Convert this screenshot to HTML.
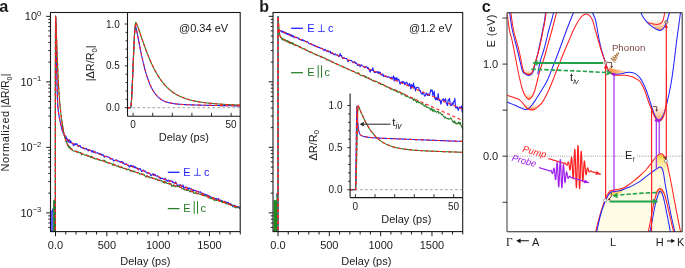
<!DOCTYPE html>
<html><head><meta charset="utf-8"><style>
html,body{margin:0;padding:0;background:#fff;}
body{width:685px;height:268px;overflow:hidden;}

</style></head><body>
<svg width="685" height="268" viewBox="0 0 685 268" style="display:block;will-change:transform;font-family:'Liberation Sans',sans-serif" fill="#1a1a1a">
<rect width="685" height="268" fill="#fff"/>
<text x="-0.7" y="11.8" style="font-size:16.3px;font-weight:bold">a</text>
<text x="259.2" y="11.8" style="font-size:16px;font-weight:bold">b</text>
<text x="481.7" y="11.7" style="font-size:16.3px;font-weight:bold">c</text>
<path d="M50.9,232 L50.9,211.2 L51.7,210.4 L52.4,208.6 L53.1,208.0 L53.1,232 Z" fill="#3a3aff"/>
<line x1="51.25" y1="212" x2="51.25" y2="231.5" stroke="#9a9aff" stroke-width="0.35"/>
<line x1="52.05" y1="212" x2="52.05" y2="231.5" stroke="#9a9aff" stroke-width="0.35"/>
<line x1="52.80" y1="212" x2="52.80" y2="231.5" stroke="#9a9aff" stroke-width="0.35"/>
<path d="M53.1,232 L53.1,201.2 L53.6,199.5 L54.2,200.6 L54.8,199.7 L55.3,201 L55.3,232 Z" fill="#1e8a1e"/>
<clipPath id="clipm0"><rect x="50.50" y="12.5" width="189.70" height="219.10"/></clipPath>
<g clip-path="url(#clipm0)">
<path d="M55.34,247.10 L55.37,247.10 L55.38,164.24 L55.39,125.68 L55.40,103.51 L55.41,88.08 L55.42,76.35 L55.43,66.97 L55.45,59.24 L55.46,52.71 L55.47,47.13 L55.48,42.29 L55.49,38.08 L55.50,34.39 L55.51,31.16 L55.53,28.33 L55.54,25.87 L55.55,23.73 L55.56,21.91 L55.57,20.38 L55.58,19.14 L55.59,18.18 L55.60,17.51 L55.62,17.14 L55.63,17.11 L55.64,17.34 L55.65,17.62 L55.66,17.94 L55.67,18.28 L55.68,18.64 L55.69,19.02 L55.71,19.41 L55.72,19.81 L55.73,20.23 L55.74,20.66 L55.75,21.10 L55.76,21.55 L55.77,22.00 L55.79,22.47 L55.80,22.94 L55.81,23.42 L55.81,23.42 L55.88,26.80 L55.96,30.41 L56.04,34.19 L56.11,38.11 L56.19,42.11 L56.26,46.18 L56.34,50.29 L56.41,54.40 L56.49,58.49 L56.57,62.54 L56.64,66.51 L56.72,70.37 L56.79,74.11 L56.87,77.70 L56.95,81.10 L57.02,84.32 L57.10,87.32 L57.17,90.10 L57.25,92.66 L57.32,95.00 L57.40,97.12 L57.48,99.04 L57.55,100.76 L57.63,102.31 L57.70,103.69 L57.78,104.93 L57.86,106.04 L57.93,107.05 L58.01,107.96 L58.08,108.79 L58.16,109.55 L58.23,110.26 L58.31,110.91 L58.39,111.52 L58.46,112.10 L58.54,112.65 L58.61,113.18 L58.69,113.68 L58.77,114.17 L58.84,114.64 L58.92,115.10 L58.99,115.55 L59.07,115.99 L59.14,116.42 L59.22,116.84 L59.30,117.26 L59.37,117.67 L59.45,118.07 L59.52,118.47 L59.60,118.86 L59.68,119.25 L59.75,119.63 L59.83,120.00 L59.90,120.37 L59.98,120.74 L60.05,121.10 L60.13,121.46 L60.21,121.81 L60.28,122.16 L60.36,122.51 L60.43,122.85 L60.51,123.18 L60.59,123.51 L60.66,123.84 L60.74,124.16 L60.81,124.48 L60.89,124.79 L60.96,125.10 L61.04,125.41 L61.12,125.71 L61.19,126.01 L61.27,126.30 L61.34,126.59 L61.42,126.87 L61.49,127.15 L61.57,127.43 L61.65,127.70 L61.72,128.90 L61.80,129.02 L61.87,128.54 L61.95,129.00 L62.03,127.93 L62.10,128.62 L62.18,129.79 L62.25,129.12 L62.33,131.11 L62.40,129.57 L62.48,130.90 L62.56,130.51 L62.63,131.71 L62.71,131.84 L62.78,130.52 L62.86,132.37 L62.94,132.31 L63.01,132.02 L63.09,132.38 L63.16,132.34 L63.24,131.66 L63.31,132.93 L63.39,132.34 L63.47,132.68 L63.54,132.58 L63.62,133.13 L63.69,133.38 L63.77,134.73 L63.85,134.18 L63.92,134.85 L64.00,134.81 L64.07,134.10 L64.15,134.34 L64.22,134.15 L64.30,134.70 L64.38,134.98 L64.45,135.19 L64.53,134.64 L64.60,134.99 L64.68,136.47 L64.76,135.64 L64.83,135.38 L64.91,136.33 L64.98,137.18 L65.06,136.26 L65.13,137.70 L65.21,137.31 L65.29,136.29 L65.36,137.80 L65.44,137.43 L65.51,137.33 L65.59,136.63 L65.67,137.60 L65.74,137.15 L65.82,137.09 L65.89,136.19 L65.97,136.58 L66.04,138.42 L66.12,137.72 L66.20,138.20 L66.27,138.42 L66.35,138.23 L66.42,138.36 L66.50,138.79 L66.58,138.32 L66.65,138.15 L66.73,138.82 L66.80,139.68 L66.88,139.54 L66.95,139.10 L67.03,138.58 L67.11,138.51 L67.18,139.70 L67.26,139.61 L67.33,138.78 L67.41,140.22 L67.49,140.90 L67.56,141.07 L67.64,140.79 L67.71,140.29 L67.79,141.52 L67.86,139.69 L67.94,140.83 L68.02,140.85 L68.09,141.39 L68.17,141.66 L68.24,141.83 L68.32,140.56 L68.40,140.55 L68.47,141.83 L68.55,139.93 L68.62,140.62 L68.70,140.99 L68.77,140.13 L68.85,139.92 L68.93,141.37 L69.00,140.81 L69.08,140.63 L69.15,140.77 L69.23,140.60 L69.31,140.04 L69.38,141.00 L69.46,140.11 L69.53,140.19 L69.61,141.67 L69.68,142.17 L69.76,142.69 L69.84,141.85 L69.91,141.43 L69.99,140.61 L70.06,140.45 L70.14,141.45 L70.22,141.14 L70.29,141.69 L70.37,141.92 L70.44,142.61 L70.52,141.14 L70.59,142.46 L70.67,142.19 L70.75,142.20 L70.82,141.29 L70.90,141.86 L70.90,142.21 L71.56,142.22 L72.23,143.25 L72.90,144.22 L73.57,145.73 L74.23,145.07 L74.90,143.46 L75.57,144.68 L76.24,144.03 L76.90,143.68 L77.57,145.18 L78.24,146.61 L78.90,146.02 L79.57,145.60 L80.24,145.74 L80.91,147.26 L81.57,147.48 L82.24,147.91 L82.91,148.14 L83.57,148.05 L84.24,148.95 L84.91,148.85 L85.58,148.74 L86.24,148.29 L86.91,149.80 L87.58,149.41 L88.25,150.88 L88.91,149.50 L89.58,150.43 L90.25,150.29 L90.91,150.25 L91.58,151.87 L92.25,151.93 L92.92,150.57 L93.58,152.17 L94.25,152.49 L94.92,151.39 L95.58,152.85 L96.25,152.95 L96.92,152.91 L97.59,152.68 L98.25,153.37 L98.92,153.54 L99.59,154.29 L100.26,153.82 L100.92,153.74 L101.59,155.25 L102.26,154.42 L102.92,155.20 L103.59,155.11 L104.26,157.27 L104.93,156.74 L105.59,156.42 L106.26,156.37 L106.93,156.36 L107.59,156.95 L108.26,156.99 L108.93,157.10 L109.60,157.58 L110.26,158.83 L110.93,159.05 L111.60,158.80 L112.27,158.92 L112.93,159.07 L113.60,160.93 L114.27,160.48 L114.93,160.55 L115.60,160.37 L116.27,159.74 L116.94,160.49 L117.60,161.15 L118.27,161.04 L118.94,161.12 L119.60,161.81 L120.27,162.24 L120.94,161.51 L121.61,161.81 L122.27,161.61 L122.94,163.17 L123.61,162.66 L124.28,163.81 L124.94,164.51 L125.61,163.95 L126.28,163.85 L126.94,164.72 L127.61,164.96 L128.28,165.38 L128.95,166.29 L129.61,167.14 L130.28,165.25 L130.95,165.95 L131.61,165.55 L132.28,166.70 L132.95,165.83 L133.62,166.21 L134.28,167.79 L134.95,166.63 L135.62,167.82 L136.29,168.23 L136.95,167.74 L137.62,168.70 L138.29,170.08 L138.95,168.74 L139.62,168.61 L140.29,168.64 L140.96,170.27 L141.62,171.48 L142.29,171.03 L142.96,170.17 L143.63,170.36 L144.29,170.76 L144.96,171.17 L145.63,171.59 L146.29,172.42 L146.96,173.18 L147.63,172.63 L148.30,173.21 L148.96,173.21 L149.63,173.37 L150.30,174.33 L150.96,175.73 L151.63,175.13 L152.30,174.48 L152.97,173.59 L153.63,175.48 L154.30,174.24 L154.97,174.35 L155.64,175.62 L156.30,175.90 L156.97,176.07 L157.64,175.76 L158.30,176.89 L158.97,177.12 L159.64,177.61 L160.31,178.97 L160.97,178.29 L161.64,178.39 L162.31,178.27 L162.97,178.74 L163.64,179.16 L164.31,178.56 L164.98,179.52 L165.64,178.71 L166.31,180.71 L166.98,180.86 L167.65,181.09 L168.31,180.18 L168.98,181.16 L169.65,180.92 L170.31,180.83 L170.98,181.08 L171.65,180.99 L172.32,181.20 L172.98,182.75 L173.65,182.37 L174.32,182.84 L174.98,183.67 L175.65,181.89 L176.32,183.22 L176.99,184.55 L177.65,185.64 L178.32,185.13 L178.99,185.86 L179.66,185.19 L180.32,184.67 L180.99,185.28 L181.66,186.24 L182.32,186.52 L182.99,184.99 L183.66,187.82 L184.33,187.43 L184.99,187.99 L185.66,186.94 L186.33,187.38 L186.99,187.30 L187.66,189.81 L188.33,188.14 L189.00,188.96 L189.66,187.97 L190.33,188.99 L191.00,188.68 L191.67,189.51 L192.33,190.67 L193.00,189.44 L193.67,190.91 L194.33,190.45 L195.00,190.25 L195.67,190.68 L196.34,191.28 L197.00,191.36 L197.67,191.39 L198.34,191.49 L199.00,192.18 L199.67,191.96 L200.34,191.69 L201.01,192.92 L201.67,194.31 L202.34,193.11 L203.01,194.16 L203.68,193.92 L204.34,193.93 L205.01,195.27 L205.68,194.53 L206.34,196.02 L207.01,194.72 L207.68,195.70 L208.35,195.71 L209.01,195.64 L209.68,196.59 L210.35,196.65 L211.01,197.54 L211.68,197.71 L212.35,197.36 L213.02,198.29 L213.68,198.96 L214.35,199.30 L215.02,198.48 L215.69,198.66 L216.35,198.53 L217.02,200.41 L217.69,199.25 L218.35,198.42 L219.02,199.49 L219.69,201.08 L220.36,200.15 L221.02,200.50 L221.69,200.88 L222.36,200.89 L223.02,202.05 L223.69,201.73 L224.36,201.36 L225.03,202.57 L225.69,201.54 L226.36,203.26 L227.03,202.47 L227.70,202.62 L228.36,202.36 L229.03,204.68 L229.70,203.62 L230.36,203.77 L231.03,204.06 L231.70,204.76 L232.37,205.55 L233.03,206.89 L233.70,205.51 L234.37,205.22 L235.03,205.82 L235.70,205.77 L236.37,207.52 L237.04,207.76 L237.70,206.76 L238.37,206.48 L239.04,207.45 L239.71,208.60 L240.37,206.61 L241.04,208.76" fill="none" stroke="#1f1fff" stroke-width="1.15" stroke-linejoin="round"/>
<path d="M55.34,247.10 L55.37,247.10 L55.38,167.29 L55.39,128.66 L55.40,106.42 L55.41,90.91 L55.42,79.10 L55.43,69.64 L55.45,61.81 L55.46,55.18 L55.47,49.49 L55.48,44.54 L55.49,40.20 L55.50,36.38 L55.51,33.00 L55.53,30.01 L55.54,27.36 L55.55,25.03 L55.56,22.99 L55.57,21.22 L55.58,19.70 L55.59,18.43 L55.60,17.41 L55.62,16.63 L55.63,16.10 L55.64,15.83 L55.65,15.85 L55.66,15.98 L55.67,16.13 L55.68,16.29 L55.69,16.46 L55.71,16.64 L55.72,16.83 L55.73,17.03 L55.74,17.23 L55.75,17.43 L55.76,17.64 L55.77,17.85 L55.79,18.07 L55.80,18.29 L55.81,18.52 L55.81,18.52 L55.88,20.10 L55.96,21.78 L56.04,23.55 L56.11,25.38 L56.19,27.27 L56.26,29.21 L56.34,31.18 L56.41,33.18 L56.49,35.20 L56.57,37.24 L56.64,39.30 L56.72,41.37 L56.79,43.44 L56.87,45.51 L56.95,47.58 L57.02,49.64 L57.10,51.69 L57.17,53.72 L57.25,55.74 L57.32,57.74 L57.40,59.71 L57.48,61.66 L57.55,63.58 L57.63,65.47 L57.70,67.32 L57.78,69.14 L57.86,70.92 L57.93,72.66 L58.01,74.36 L58.08,76.02 L58.16,77.64 L58.23,79.21 L58.31,80.75 L58.39,82.23 L58.46,83.68 L58.54,85.08 L58.61,86.44 L58.69,87.76 L58.77,89.04 L58.84,90.28 L58.92,91.49 L58.99,92.65 L59.07,93.78 L59.14,94.88 L59.22,95.94 L59.30,96.97 L59.37,97.97 L59.45,98.94 L59.52,99.89 L59.60,100.81 L59.68,101.71 L59.75,102.58 L59.83,103.43 L59.90,104.26 L59.98,105.07 L60.05,105.87 L60.13,106.64 L60.21,107.40 L60.28,108.14 L60.36,108.87 L60.43,109.59 L60.51,110.29 L60.59,110.98 L60.66,111.66 L60.74,112.33 L60.81,112.98 L60.89,113.63 L60.96,114.26 L61.04,114.89 L61.12,115.50 L61.19,116.11 L61.27,116.71 L61.34,117.30 L61.42,117.88 L61.49,118.46 L61.57,119.02 L61.65,119.58 L61.72,119.63 L61.80,120.12 L61.87,120.83 L61.95,121.83 L62.03,121.69 L62.10,123.32 L62.18,123.27 L62.25,123.42 L62.33,124.25 L62.40,124.84 L62.48,125.56 L62.56,125.34 L62.63,126.42 L62.71,126.18 L62.78,126.13 L62.86,127.29 L62.94,127.07 L63.01,128.44 L63.09,129.42 L63.16,129.73 L63.24,128.87 L63.31,129.49 L63.39,130.91 L63.47,131.21 L63.54,131.53 L63.62,132.39 L63.69,132.93 L63.77,132.82 L63.85,132.87 L63.92,133.46 L64.00,134.32 L64.07,134.04 L64.15,134.40 L64.22,134.93 L64.30,134.88 L64.38,135.11 L64.45,135.43 L64.53,136.64 L64.60,135.72 L64.68,136.00 L64.76,136.44 L64.83,136.98 L64.91,137.84 L64.98,137.23 L65.06,137.39 L65.13,137.44 L65.21,137.85 L65.29,138.65 L65.36,138.67 L65.44,138.69 L65.51,139.32 L65.59,139.60 L65.67,139.88 L65.74,139.67 L65.82,140.36 L65.89,139.84 L65.97,140.63 L66.04,142.03 L66.12,140.64 L66.20,141.55 L66.27,141.60 L66.35,141.31 L66.42,140.95 L66.50,141.66 L66.58,142.12 L66.65,142.40 L66.73,141.86 L66.80,142.50 L66.88,142.53 L66.95,142.57 L67.03,143.34 L67.11,143.53 L67.18,143.85 L67.26,143.26 L67.33,143.95 L67.41,144.41 L67.49,144.87 L67.56,145.40 L67.64,144.68 L67.71,144.57 L67.79,144.89 L67.86,144.29 L67.94,144.91 L68.02,145.08 L68.09,145.11 L68.17,144.83 L68.24,145.18 L68.32,145.95 L68.40,146.67 L68.47,146.95 L68.55,146.42 L68.62,146.63 L68.70,146.48 L68.77,147.10 L68.85,146.94 L68.93,147.24 L69.00,147.88 L69.08,146.77 L69.15,146.12 L69.23,146.62 L69.31,146.37 L69.38,146.74 L69.46,147.88 L69.53,147.76 L69.61,146.56 L69.68,147.54 L69.76,147.96 L69.84,147.56 L69.91,147.52 L69.99,147.23 L70.06,147.83 L70.14,147.93 L70.22,148.81 L70.29,148.46 L70.37,148.75 L70.44,148.71 L70.52,148.92 L70.59,147.72 L70.67,148.35 L70.75,148.86 L70.82,148.62 L70.90,149.25 L70.90,148.24 L71.56,148.46 L72.23,150.29 L72.90,150.69 L73.57,150.90 L74.23,151.04 L74.90,151.31 L75.57,151.59 L76.24,151.04 L76.90,152.11 L77.57,152.12 L78.24,151.96 L78.90,152.30 L79.57,152.89 L80.24,152.58 L80.91,152.65 L81.57,154.94 L82.24,153.91 L82.91,153.79 L83.57,154.43 L84.24,155.04 L84.91,154.96 L85.58,155.52 L86.24,154.92 L86.91,155.11 L87.58,155.96 L88.25,156.26 L88.91,155.80 L89.58,156.57 L90.25,156.55 L90.91,157.85 L91.58,156.34 L92.25,157.75 L92.92,157.42 L93.58,157.94 L94.25,158.63 L94.92,158.64 L95.58,158.91 L96.25,158.75 L96.92,158.91 L97.59,159.28 L98.25,159.73 L98.92,159.75 L99.59,160.33 L100.26,160.03 L100.92,160.34 L101.59,160.79 L102.26,160.47 L102.92,160.27 L103.59,160.22 L104.26,160.23 L104.93,161.68 L105.59,160.99 L106.26,162.45 L106.93,162.19 L107.59,163.12 L108.26,162.76 L108.93,162.70 L109.60,162.88 L110.26,163.43 L110.93,163.61 L111.60,163.73 L112.27,164.05 L112.93,165.32 L113.60,163.78 L114.27,165.28 L114.93,164.87 L115.60,165.73 L116.27,165.88 L116.94,165.98 L117.60,166.27 L118.27,165.50 L118.94,167.08 L119.60,166.73 L120.27,167.59 L120.94,167.68 L121.61,166.67 L122.27,167.57 L122.94,167.97 L123.61,168.54 L124.28,168.53 L124.94,168.83 L125.61,168.41 L126.28,169.62 L126.94,169.84 L127.61,169.37 L128.28,169.43 L128.95,169.09 L129.61,170.09 L130.28,171.24 L130.95,170.40 L131.61,171.19 L132.28,171.22 L132.95,170.62 L133.62,172.04 L134.28,171.03 L134.95,171.82 L135.62,171.93 L136.29,172.26 L136.95,172.45 L137.62,172.74 L138.29,172.67 L138.95,172.78 L139.62,173.96 L140.29,174.10 L140.96,173.83 L141.62,173.71 L142.29,174.20 L142.96,173.92 L143.63,174.76 L144.29,174.68 L144.96,175.88 L145.63,176.17 L146.29,177.24 L146.96,175.77 L147.63,176.29 L148.30,177.15 L148.96,176.82 L149.63,177.11 L150.30,178.12 L150.96,177.69 L151.63,177.36 L152.30,177.78 L152.97,178.44 L153.63,178.63 L154.30,178.28 L154.97,178.65 L155.64,179.39 L156.30,179.16 L156.97,178.84 L157.64,180.23 L158.30,180.60 L158.97,179.98 L159.64,180.33 L160.31,180.91 L160.97,180.65 L161.64,180.66 L162.31,181.54 L162.97,182.23 L163.64,182.57 L164.31,181.04 L164.98,183.33 L165.64,181.78 L166.31,182.72 L166.98,183.18 L167.65,183.43 L168.31,183.61 L168.98,182.92 L169.65,184.12 L170.31,183.86 L170.98,183.69 L171.65,186.31 L172.32,185.45 L172.98,186.14 L173.65,184.86 L174.32,186.24 L174.98,186.37 L175.65,186.62 L176.32,186.35 L176.99,186.08 L177.65,186.75 L178.32,185.82 L178.99,186.32 L179.66,187.22 L180.32,186.93 L180.99,187.46 L181.66,187.77 L182.32,188.98 L182.99,188.83 L183.66,188.90 L184.33,189.95 L184.99,189.47 L185.66,189.54 L186.33,190.48 L186.99,189.72 L187.66,190.37 L188.33,189.81 L189.00,190.68 L189.66,191.85 L190.33,190.95 L191.00,191.93 L191.67,191.26 L192.33,191.50 L193.00,191.15 L193.67,193.06 L194.33,193.52 L195.00,193.07 L195.67,192.60 L196.34,193.75 L197.00,193.32 L197.67,193.85 L198.34,193.39 L199.00,193.83 L199.67,194.25 L200.34,194.12 L201.01,194.29 L201.67,193.88 L202.34,194.61 L203.01,194.61 L203.68,195.74 L204.34,195.40 L205.01,196.00 L205.68,196.05 L206.34,195.86 L207.01,196.21 L207.68,196.43 L208.35,197.16 L209.01,198.10 L209.68,197.99 L210.35,197.83 L211.01,198.82 L211.68,197.65 L212.35,198.99 L213.02,198.29 L213.68,197.66 L214.35,200.57 L215.02,200.39 L215.69,199.60 L216.35,200.21 L217.02,199.96 L217.69,200.39 L218.35,200.34 L219.02,200.94 L219.69,201.21 L220.36,200.98 L221.02,201.69 L221.69,201.34 L222.36,202.71 L223.02,201.42 L223.69,202.16 L224.36,201.56 L225.03,202.19 L225.69,203.78 L226.36,202.94 L227.03,204.09 L227.70,204.01 L228.36,203.69 L229.03,203.95 L229.70,204.47 L230.36,204.81 L231.03,205.55 L231.70,205.44 L232.37,205.12 L233.03,205.48 L233.70,206.56 L234.37,206.73 L235.03,207.29 L235.70,207.92 L236.37,206.87 L237.04,206.84 L237.70,207.05 L238.37,207.67 L239.04,207.85 L239.71,207.64 L240.37,207.56 L241.04,207.78" fill="none" stroke="#2a7e2a" stroke-width="1.10" stroke-linejoin="round"/>
<path d="M55.34,247.10 L55.37,247.10 L55.38,164.24 L55.39,125.68 L55.40,103.51 L55.41,88.08 L55.42,76.35 L55.43,66.97 L55.45,59.24 L55.46,52.71 L55.47,47.13 L55.48,42.29 L55.49,38.08 L55.50,34.39 L55.51,31.16 L55.53,28.33 L55.54,25.87 L55.55,23.73 L55.56,21.91 L55.57,20.38 L55.58,19.14 L55.59,18.18 L55.60,17.51 L55.62,17.14 L55.63,17.11 L55.64,17.34 L55.65,17.62 L55.66,17.94 L55.67,18.28 L55.68,18.64 L55.69,19.02 L55.71,19.41 L55.72,19.81 L55.73,20.23 L55.74,20.66 L55.75,21.10 L55.76,21.55 L55.77,22.00 L55.79,22.47 L55.80,22.94 L55.81,23.42 L55.81,23.42 L55.88,26.80 L55.96,30.41 L56.04,34.19 L56.11,38.11 L56.19,42.11 L56.26,46.18 L56.34,50.29 L56.41,54.40 L56.49,58.49 L56.57,62.54 L56.64,66.51 L56.72,70.37 L56.79,74.11 L56.87,77.70 L56.95,81.10 L57.02,84.32 L57.10,87.32 L57.17,90.10 L57.25,92.66 L57.32,95.00 L57.40,97.12 L57.48,99.04 L57.55,100.76 L57.63,102.31 L57.70,103.69 L57.78,104.93 L57.86,106.04 L57.93,107.05 L58.01,107.96 L58.08,108.79 L58.16,109.55 L58.23,110.26 L58.31,110.91 L58.39,111.52 L58.46,112.10 L58.54,112.65 L58.61,113.18 L58.69,113.68 L58.77,114.17 L58.84,114.64 L58.92,115.10 L58.99,115.55 L59.07,115.99 L59.14,116.42 L59.22,116.84 L59.30,117.26 L59.37,117.67 L59.45,118.07 L59.52,118.47 L59.60,118.86 L59.68,119.25 L59.75,119.63 L59.83,120.00 L59.90,120.37 L59.98,120.74 L60.05,121.10 L60.13,121.46 L60.21,121.81 L60.28,122.16 L60.36,122.51 L60.43,122.85 L60.51,123.18 L60.59,123.51 L60.66,123.84 L60.74,124.16 L60.81,124.48 L60.89,124.79 L60.96,125.10 L61.04,125.41 L61.12,125.71 L61.19,126.01 L61.27,126.30 L61.34,126.59 L61.42,126.87 L61.49,127.15 L61.57,127.43 L61.65,127.70 L61.72,127.97 L61.80,128.23 L61.87,128.50 L61.95,128.75 L62.03,129.01 L62.10,129.25 L62.18,129.50 L62.25,129.74 L62.33,129.98 L62.40,130.21 L62.48,130.44 L62.56,130.67 L62.63,130.90 L62.71,131.12 L62.78,131.33 L62.86,131.55 L62.94,131.76 L63.01,131.96 L63.09,132.17 L63.16,132.37 L63.24,132.56 L63.31,132.76 L63.39,132.95 L63.47,133.13 L63.54,133.32 L63.62,133.50 L63.69,133.68 L63.77,133.86 L63.85,134.03 L63.92,134.20 L64.00,134.36 L64.07,134.53 L64.15,134.69 L64.22,134.85 L64.30,135.01 L64.38,135.16 L64.45,135.31 L64.53,135.46 L64.60,135.61 L64.68,135.75 L64.76,135.89 L64.83,136.03 L64.91,136.17 L64.98,136.30 L65.06,136.44 L65.13,136.57 L65.21,136.69 L65.29,136.82 L65.36,136.94 L65.44,137.07 L65.51,137.19 L65.59,137.30 L65.67,137.42 L65.74,137.53 L65.82,137.65 L65.89,137.76 L65.97,137.87 L66.04,137.97 L66.12,138.08 L66.20,138.18 L66.27,138.28 L66.35,138.38 L66.42,138.48 L66.50,138.58 L66.58,138.68 L66.65,138.77 L66.73,138.86 L66.80,138.95 L66.88,139.04 L66.95,139.13 L67.03,139.22 L67.11,139.31 L67.18,139.39 L67.26,139.47 L67.33,139.56 L67.41,139.64 L67.49,139.72 L67.56,139.80 L67.64,139.87 L67.71,139.95 L67.79,140.02 L67.86,140.10 L67.94,140.17 L68.02,140.24 L68.09,140.32 L68.17,140.39 L68.24,140.45 L68.32,140.52 L68.40,140.59 L68.47,140.66 L68.55,140.72 L68.62,140.79 L68.70,140.85 L68.77,140.91 L68.85,140.98 L68.93,141.04 L69.00,141.10 L69.08,141.16 L69.15,141.22 L69.23,141.28 L69.31,141.34 L69.38,141.39 L69.46,141.45 L69.53,141.51 L69.61,141.56 L69.68,141.62 L69.76,141.67 L69.84,141.72 L69.91,141.78 L69.99,141.83 L70.06,141.88 L70.14,141.93 L70.22,141.98 L70.29,142.03 L70.37,142.08 L70.44,142.13 L70.52,142.18 L70.59,142.23 L70.67,142.28 L70.75,142.32 L70.82,142.37 L70.90,142.42 L70.90,142.42 L71.56,142.81 L72.23,143.17 L72.90,143.52 L73.57,143.85 L74.23,144.16 L74.90,144.46 L75.57,144.76 L76.24,145.04 L76.90,145.32 L77.57,145.60 L78.24,145.87 L78.90,146.14 L79.57,146.41 L80.24,146.67 L80.91,146.93 L81.57,147.20 L82.24,147.46 L82.91,147.72 L83.57,147.98 L84.24,148.23 L84.91,148.49 L85.58,148.75 L86.24,149.01 L86.91,149.26 L87.58,149.52 L88.25,149.78 L88.91,150.04 L89.58,150.29 L90.25,150.55 L90.91,150.81 L91.58,151.06 L92.25,151.32 L92.92,151.58 L93.58,151.83 L94.25,152.09 L94.92,152.35 L95.58,152.60 L96.25,152.86 L96.92,153.11 L97.59,153.37 L98.25,153.63 L98.92,153.88 L99.59,154.14 L100.26,154.40 L100.92,154.65 L101.59,154.91 L102.26,155.17 L102.92,155.42 L103.59,155.68 L104.26,155.94 L104.93,156.19 L105.59,156.45 L106.26,156.71 L106.93,156.96 L107.59,157.22 L108.26,157.47 L108.93,157.73 L109.60,157.99 L110.26,158.24 L110.93,158.50 L111.60,158.76 L112.27,159.01 L112.93,159.27 L113.60,159.53 L114.27,159.78 L114.93,160.04 L115.60,160.30 L116.27,160.55 L116.94,160.81 L117.60,161.07 L118.27,161.32 L118.94,161.58 L119.60,161.83 L120.27,162.09 L120.94,162.35 L121.61,162.60 L122.27,162.86 L122.94,163.12 L123.61,163.37 L124.28,163.63 L124.94,163.89 L125.61,164.14 L126.28,164.40 L126.94,164.66 L127.61,164.91 L128.28,165.17 L128.95,165.42 L129.61,165.68 L130.28,165.94 L130.95,166.19 L131.61,166.45 L132.28,166.71 L132.95,166.96 L133.62,167.22 L134.28,167.48 L134.95,167.73 L135.62,167.99 L136.29,168.25 L136.95,168.50 L137.62,168.76 L138.29,169.01 L138.95,169.27 L139.62,169.53 L140.29,169.78 L140.96,170.04 L141.62,170.30 L142.29,170.55 L142.96,170.81 L143.63,171.07 L144.29,171.32 L144.96,171.58 L145.63,171.84 L146.29,172.09 L146.96,172.35 L147.63,172.61 L148.30,172.86 L148.96,173.12 L149.63,173.37 L150.30,173.63 L150.96,173.89 L151.63,174.14 L152.30,174.40 L152.97,174.66 L153.63,174.91 L154.30,175.17 L154.97,175.43 L155.64,175.68 L156.30,175.94 L156.97,176.20 L157.64,176.45 L158.30,176.71 L158.97,176.96 L159.64,177.22 L160.31,177.48 L160.97,177.73 L161.64,177.99 L162.31,178.25 L162.97,178.50 L163.64,178.76 L164.31,179.02 L164.98,179.27 L165.64,179.53 L166.31,179.79 L166.98,180.04 L167.65,180.30 L168.31,180.56 L168.98,180.81 L169.65,181.07 L170.31,181.32 L170.98,181.58 L171.65,181.84 L172.32,182.09 L172.98,182.35 L173.65,182.61 L174.32,182.86 L174.98,183.12 L175.65,183.38 L176.32,183.63 L176.99,183.89 L177.65,184.15 L178.32,184.40 L178.99,184.66 L179.66,184.91 L180.32,185.17 L180.99,185.43 L181.66,185.68 L182.32,185.94 L182.99,186.20 L183.66,186.45 L184.33,186.71 L184.99,186.97 L185.66,187.22 L186.33,187.48 L186.99,187.74 L187.66,187.99 L188.33,188.25 L189.00,188.51 L189.66,188.76 L190.33,189.02 L191.00,189.27 L191.67,189.53 L192.33,189.79 L193.00,190.04 L193.67,190.30 L194.33,190.56 L195.00,190.81 L195.67,191.07 L196.34,191.33 L197.00,191.58 L197.67,191.84 L198.34,192.10 L199.00,192.35 L199.67,192.61 L200.34,192.86 L201.01,193.12 L201.67,193.38 L202.34,193.63 L203.01,193.89 L203.68,194.15 L204.34,194.40 L205.01,194.66 L205.68,194.92 L206.34,195.17 L207.01,195.43 L207.68,195.69 L208.35,195.94 L209.01,196.20 L209.68,196.46 L210.35,196.71 L211.01,196.97 L211.68,197.22 L212.35,197.48 L213.02,197.74 L213.68,197.99 L214.35,198.25 L215.02,198.51 L215.69,198.76 L216.35,199.02 L217.02,199.28 L217.69,199.53 L218.35,199.79 L219.02,200.05 L219.69,200.30 L220.36,200.56 L221.02,200.81 L221.69,201.07 L222.36,201.33 L223.02,201.58 L223.69,201.84 L224.36,202.10 L225.03,202.35 L225.69,202.61 L226.36,202.87 L227.03,203.12 L227.70,203.38 L228.36,203.64 L229.03,203.89 L229.70,204.15 L230.36,204.41 L231.03,204.66 L231.70,204.92 L232.37,205.17 L233.03,205.43 L233.70,205.69 L234.37,205.94 L235.03,206.20 L235.70,206.46 L236.37,206.71 L237.04,206.97 L237.70,207.23 L238.37,207.48 L239.04,207.74 L239.71,208.00 L240.37,208.25 L241.04,208.51" fill="none" stroke="#ff2020" stroke-width="1.1" stroke-dasharray="3.2,2.6"/>
<path d="M55.34,247.10 L55.37,247.10 L55.38,167.29 L55.39,128.66 L55.40,106.42 L55.41,90.91 L55.42,79.10 L55.43,69.64 L55.45,61.81 L55.46,55.18 L55.47,49.49 L55.48,44.54 L55.49,40.20 L55.50,36.38 L55.51,33.00 L55.53,30.01 L55.54,27.36 L55.55,25.03 L55.56,22.99 L55.57,21.22 L55.58,19.70 L55.59,18.43 L55.60,17.41 L55.62,16.63 L55.63,16.10 L55.64,15.83 L55.65,15.85 L55.66,15.98 L55.67,16.13 L55.68,16.29 L55.69,16.46 L55.71,16.64 L55.72,16.83 L55.73,17.03 L55.74,17.23 L55.75,17.43 L55.76,17.64 L55.77,17.85 L55.79,18.07 L55.80,18.29 L55.81,18.52 L55.81,18.52 L55.88,20.10 L55.96,21.78 L56.04,23.55 L56.11,25.38 L56.19,27.27 L56.26,29.21 L56.34,31.18 L56.41,33.18 L56.49,35.20 L56.57,37.24 L56.64,39.30 L56.72,41.37 L56.79,43.44 L56.87,45.51 L56.95,47.58 L57.02,49.64 L57.10,51.69 L57.17,53.72 L57.25,55.74 L57.32,57.74 L57.40,59.71 L57.48,61.66 L57.55,63.58 L57.63,65.47 L57.70,67.32 L57.78,69.14 L57.86,70.92 L57.93,72.66 L58.01,74.36 L58.08,76.02 L58.16,77.64 L58.23,79.21 L58.31,80.75 L58.39,82.23 L58.46,83.68 L58.54,85.08 L58.61,86.44 L58.69,87.76 L58.77,89.04 L58.84,90.28 L58.92,91.49 L58.99,92.65 L59.07,93.78 L59.14,94.88 L59.22,95.94 L59.30,96.97 L59.37,97.97 L59.45,98.94 L59.52,99.89 L59.60,100.81 L59.68,101.71 L59.75,102.58 L59.83,103.43 L59.90,104.26 L59.98,105.07 L60.05,105.87 L60.13,106.64 L60.21,107.40 L60.28,108.14 L60.36,108.87 L60.43,109.59 L60.51,110.29 L60.59,110.98 L60.66,111.66 L60.74,112.33 L60.81,112.98 L60.89,113.63 L60.96,114.26 L61.04,114.89 L61.12,115.50 L61.19,116.11 L61.27,116.71 L61.34,117.30 L61.42,117.88 L61.49,118.46 L61.57,119.02 L61.65,119.58 L61.72,120.13 L61.80,120.68 L61.87,121.21 L61.95,121.74 L62.03,122.26 L62.10,122.78 L62.18,123.29 L62.25,123.79 L62.33,124.28 L62.40,124.77 L62.48,125.25 L62.56,125.73 L62.63,126.20 L62.71,126.66 L62.78,127.11 L62.86,127.56 L62.94,128.01 L63.01,128.44 L63.09,128.87 L63.16,129.29 L63.24,129.71 L63.31,130.12 L63.39,130.53 L63.47,130.92 L63.54,131.32 L63.62,131.70 L63.69,132.08 L63.77,132.46 L63.85,132.82 L63.92,133.18 L64.00,133.54 L64.07,133.89 L64.15,134.23 L64.22,134.57 L64.30,134.90 L64.38,135.23 L64.45,135.55 L64.53,135.87 L64.60,136.18 L64.68,136.48 L64.76,136.78 L64.83,137.07 L64.91,137.36 L64.98,137.64 L65.06,137.92 L65.13,138.19 L65.21,138.46 L65.29,138.72 L65.36,138.98 L65.44,139.23 L65.51,139.48 L65.59,139.72 L65.67,139.96 L65.74,140.19 L65.82,140.42 L65.89,140.64 L65.97,140.86 L66.04,141.08 L66.12,141.29 L66.20,141.50 L66.27,141.70 L66.35,141.90 L66.42,142.09 L66.50,142.28 L66.58,142.47 L66.65,142.65 L66.73,142.83 L66.80,143.01 L66.88,143.18 L66.95,143.35 L67.03,143.52 L67.11,143.68 L67.18,143.84 L67.26,143.99 L67.33,144.14 L67.41,144.29 L67.49,144.44 L67.56,144.58 L67.64,144.72 L67.71,144.86 L67.79,144.99 L67.86,145.12 L67.94,145.25 L68.02,145.38 L68.09,145.50 L68.17,145.62 L68.24,145.74 L68.32,145.86 L68.40,145.97 L68.47,146.08 L68.55,146.19 L68.62,146.30 L68.70,146.40 L68.77,146.51 L68.85,146.61 L68.93,146.71 L69.00,146.80 L69.08,146.90 L69.15,146.99 L69.23,147.08 L69.31,147.17 L69.38,147.26 L69.46,147.35 L69.53,147.43 L69.61,147.52 L69.68,147.60 L69.76,147.68 L69.84,147.76 L69.91,147.83 L69.99,147.91 L70.06,147.98 L70.14,148.06 L70.22,148.13 L70.29,148.20 L70.37,148.27 L70.44,148.34 L70.52,148.40 L70.59,148.47 L70.67,148.53 L70.75,148.60 L70.82,148.66 L70.90,148.72 L70.90,148.72 L71.56,149.22 L72.23,149.66 L72.90,150.06 L73.57,150.41 L74.23,150.74 L74.90,151.05 L75.57,151.34 L76.24,151.61 L76.90,151.88 L77.57,152.13 L78.24,152.38 L78.90,152.63 L79.57,152.87 L80.24,153.11 L80.91,153.35 L81.57,153.58 L82.24,153.82 L82.91,154.05 L83.57,154.28 L84.24,154.51 L84.91,154.74 L85.58,154.98 L86.24,155.21 L86.91,155.44 L87.58,155.67 L88.25,155.90 L88.91,156.13 L89.58,156.36 L90.25,156.58 L90.91,156.81 L91.58,157.04 L92.25,157.27 L92.92,157.50 L93.58,157.73 L94.25,157.96 L94.92,158.19 L95.58,158.42 L96.25,158.65 L96.92,158.88 L97.59,159.11 L98.25,159.34 L98.92,159.57 L99.59,159.80 L100.26,160.03 L100.92,160.26 L101.59,160.49 L102.26,160.71 L102.92,160.94 L103.59,161.17 L104.26,161.40 L104.93,161.63 L105.59,161.86 L106.26,162.09 L106.93,162.32 L107.59,162.55 L108.26,162.78 L108.93,163.01 L109.60,163.24 L110.26,163.47 L110.93,163.70 L111.60,163.93 L112.27,164.16 L112.93,164.39 L113.60,164.61 L114.27,164.84 L114.93,165.07 L115.60,165.30 L116.27,165.53 L116.94,165.76 L117.60,165.99 L118.27,166.22 L118.94,166.45 L119.60,166.68 L120.27,166.91 L120.94,167.14 L121.61,167.37 L122.27,167.60 L122.94,167.83 L123.61,168.06 L124.28,168.29 L124.94,168.51 L125.61,168.74 L126.28,168.97 L126.94,169.20 L127.61,169.43 L128.28,169.66 L128.95,169.89 L129.61,170.12 L130.28,170.35 L130.95,170.58 L131.61,170.81 L132.28,171.04 L132.95,171.27 L133.62,171.50 L134.28,171.73 L134.95,171.96 L135.62,172.19 L136.29,172.41 L136.95,172.64 L137.62,172.87 L138.29,173.10 L138.95,173.33 L139.62,173.56 L140.29,173.79 L140.96,174.02 L141.62,174.25 L142.29,174.48 L142.96,174.71 L143.63,174.94 L144.29,175.17 L144.96,175.40 L145.63,175.63 L146.29,175.86 L146.96,176.08 L147.63,176.31 L148.30,176.54 L148.96,176.77 L149.63,177.00 L150.30,177.23 L150.96,177.46 L151.63,177.69 L152.30,177.92 L152.97,178.15 L153.63,178.38 L154.30,178.61 L154.97,178.84 L155.64,179.07 L156.30,179.30 L156.97,179.53 L157.64,179.76 L158.30,179.98 L158.97,180.21 L159.64,180.44 L160.31,180.67 L160.97,180.90 L161.64,181.13 L162.31,181.36 L162.97,181.59 L163.64,181.82 L164.31,182.05 L164.98,182.28 L165.64,182.51 L166.31,182.74 L166.98,182.97 L167.65,183.20 L168.31,183.43 L168.98,183.66 L169.65,183.88 L170.31,184.11 L170.98,184.34 L171.65,184.57 L172.32,184.80 L172.98,185.03 L173.65,185.26 L174.32,185.49 L174.98,185.72 L175.65,185.95 L176.32,186.18 L176.99,186.41 L177.65,186.64 L178.32,186.87 L178.99,187.10 L179.66,187.33 L180.32,187.56 L180.99,187.78 L181.66,188.01 L182.32,188.24 L182.99,188.47 L183.66,188.70 L184.33,188.93 L184.99,189.16 L185.66,189.39 L186.33,189.62 L186.99,189.85 L187.66,190.08 L188.33,190.31 L189.00,190.54 L189.66,190.77 L190.33,191.00 L191.00,191.23 L191.67,191.46 L192.33,191.68 L193.00,191.91 L193.67,192.14 L194.33,192.37 L195.00,192.60 L195.67,192.83 L196.34,193.06 L197.00,193.29 L197.67,193.52 L198.34,193.75 L199.00,193.98 L199.67,194.21 L200.34,194.44 L201.01,194.67 L201.67,194.90 L202.34,195.13 L203.01,195.36 L203.68,195.58 L204.34,195.81 L205.01,196.04 L205.68,196.27 L206.34,196.50 L207.01,196.73 L207.68,196.96 L208.35,197.19 L209.01,197.42 L209.68,197.65 L210.35,197.88 L211.01,198.11 L211.68,198.34 L212.35,198.57 L213.02,198.80 L213.68,199.03 L214.35,199.25 L215.02,199.48 L215.69,199.71 L216.35,199.94 L217.02,200.17 L217.69,200.40 L218.35,200.63 L219.02,200.86 L219.69,201.09 L220.36,201.32 L221.02,201.55 L221.69,201.78 L222.36,202.01 L223.02,202.24 L223.69,202.47 L224.36,202.70 L225.03,202.93 L225.69,203.15 L226.36,203.38 L227.03,203.61 L227.70,203.84 L228.36,204.07 L229.03,204.30 L229.70,204.53 L230.36,204.76 L231.03,204.99 L231.70,205.22 L232.37,205.45 L233.03,205.68 L233.70,205.91 L234.37,206.14 L235.03,206.37 L235.70,206.60 L236.37,206.83 L237.04,207.05 L237.70,207.28 L238.37,207.51 L239.04,207.74 L239.71,207.97 L240.37,208.20 L241.04,208.43" fill="none" stroke="#ff2020" stroke-width="1.1" stroke-dasharray="3.2,2.6"/>
</g>
<line x1="46.20" y1="16.35" x2="50.50" y2="16.35" stroke="#1a1a1a" stroke-width="1.00"/>
<line x1="46.20" y1="81.85" x2="50.50" y2="81.85" stroke="#1a1a1a" stroke-width="1.00"/>
<line x1="48.30" y1="62.13" x2="50.50" y2="62.13" stroke="#1a1a1a" stroke-width="1.00"/>
<line x1="48.30" y1="50.60" x2="50.50" y2="50.60" stroke="#1a1a1a" stroke-width="1.00"/>
<line x1="48.30" y1="42.42" x2="50.50" y2="42.42" stroke="#1a1a1a" stroke-width="1.00"/>
<line x1="48.30" y1="36.07" x2="50.50" y2="36.07" stroke="#1a1a1a" stroke-width="1.00"/>
<line x1="48.30" y1="30.88" x2="50.50" y2="30.88" stroke="#1a1a1a" stroke-width="1.00"/>
<line x1="48.30" y1="26.50" x2="50.50" y2="26.50" stroke="#1a1a1a" stroke-width="1.00"/>
<line x1="48.30" y1="22.70" x2="50.50" y2="22.70" stroke="#1a1a1a" stroke-width="1.00"/>
<line x1="48.30" y1="19.35" x2="50.50" y2="19.35" stroke="#1a1a1a" stroke-width="1.00"/>
<line x1="46.20" y1="147.35" x2="50.50" y2="147.35" stroke="#1a1a1a" stroke-width="1.00"/>
<line x1="48.30" y1="127.63" x2="50.50" y2="127.63" stroke="#1a1a1a" stroke-width="1.00"/>
<line x1="48.30" y1="116.10" x2="50.50" y2="116.10" stroke="#1a1a1a" stroke-width="1.00"/>
<line x1="48.30" y1="107.92" x2="50.50" y2="107.92" stroke="#1a1a1a" stroke-width="1.00"/>
<line x1="48.30" y1="101.57" x2="50.50" y2="101.57" stroke="#1a1a1a" stroke-width="1.00"/>
<line x1="48.30" y1="96.38" x2="50.50" y2="96.38" stroke="#1a1a1a" stroke-width="1.00"/>
<line x1="48.30" y1="92.00" x2="50.50" y2="92.00" stroke="#1a1a1a" stroke-width="1.00"/>
<line x1="48.30" y1="88.20" x2="50.50" y2="88.20" stroke="#1a1a1a" stroke-width="1.00"/>
<line x1="48.30" y1="84.85" x2="50.50" y2="84.85" stroke="#1a1a1a" stroke-width="1.00"/>
<line x1="46.20" y1="212.85" x2="50.50" y2="212.85" stroke="#1a1a1a" stroke-width="1.00"/>
<line x1="48.30" y1="193.13" x2="50.50" y2="193.13" stroke="#1a1a1a" stroke-width="1.00"/>
<line x1="48.30" y1="181.60" x2="50.50" y2="181.60" stroke="#1a1a1a" stroke-width="1.00"/>
<line x1="48.30" y1="173.42" x2="50.50" y2="173.42" stroke="#1a1a1a" stroke-width="1.00"/>
<line x1="48.30" y1="167.07" x2="50.50" y2="167.07" stroke="#1a1a1a" stroke-width="1.00"/>
<line x1="48.30" y1="161.88" x2="50.50" y2="161.88" stroke="#1a1a1a" stroke-width="1.00"/>
<line x1="48.30" y1="157.50" x2="50.50" y2="157.50" stroke="#1a1a1a" stroke-width="1.00"/>
<line x1="48.30" y1="153.70" x2="50.50" y2="153.70" stroke="#1a1a1a" stroke-width="1.00"/>
<line x1="48.30" y1="150.35" x2="50.50" y2="150.35" stroke="#1a1a1a" stroke-width="1.00"/>
<line x1="48.30" y1="227.38" x2="50.50" y2="227.38" stroke="#1a1a1a" stroke-width="1.00"/>
<line x1="48.30" y1="223.00" x2="50.50" y2="223.00" stroke="#1a1a1a" stroke-width="1.00"/>
<line x1="48.30" y1="219.20" x2="50.50" y2="219.20" stroke="#1a1a1a" stroke-width="1.00"/>
<line x1="48.30" y1="215.85" x2="50.50" y2="215.85" stroke="#1a1a1a" stroke-width="1.00"/>
<line x1="55.50" y1="231.60" x2="55.50" y2="236.20" stroke="#1a1a1a" stroke-width="1.00"/>
<line x1="65.77" y1="231.60" x2="65.77" y2="234.50" stroke="#1a1a1a" stroke-width="1.00"/>
<line x1="76.03" y1="231.60" x2="76.03" y2="234.50" stroke="#1a1a1a" stroke-width="1.00"/>
<line x1="86.30" y1="231.60" x2="86.30" y2="234.50" stroke="#1a1a1a" stroke-width="1.00"/>
<line x1="96.56" y1="231.60" x2="96.56" y2="234.50" stroke="#1a1a1a" stroke-width="1.00"/>
<line x1="106.83" y1="231.60" x2="106.83" y2="236.20" stroke="#1a1a1a" stroke-width="1.00"/>
<line x1="117.09" y1="231.60" x2="117.09" y2="234.50" stroke="#1a1a1a" stroke-width="1.00"/>
<line x1="127.36" y1="231.60" x2="127.36" y2="234.50" stroke="#1a1a1a" stroke-width="1.00"/>
<line x1="137.62" y1="231.60" x2="137.62" y2="234.50" stroke="#1a1a1a" stroke-width="1.00"/>
<line x1="147.88" y1="231.60" x2="147.88" y2="234.50" stroke="#1a1a1a" stroke-width="1.00"/>
<line x1="158.15" y1="231.60" x2="158.15" y2="236.20" stroke="#1a1a1a" stroke-width="1.00"/>
<line x1="168.42" y1="231.60" x2="168.42" y2="234.50" stroke="#1a1a1a" stroke-width="1.00"/>
<line x1="178.68" y1="231.60" x2="178.68" y2="234.50" stroke="#1a1a1a" stroke-width="1.00"/>
<line x1="188.94" y1="231.60" x2="188.94" y2="234.50" stroke="#1a1a1a" stroke-width="1.00"/>
<line x1="199.21" y1="231.60" x2="199.21" y2="234.50" stroke="#1a1a1a" stroke-width="1.00"/>
<line x1="209.47" y1="231.60" x2="209.47" y2="236.20" stroke="#1a1a1a" stroke-width="1.00"/>
<line x1="219.74" y1="231.60" x2="219.74" y2="234.50" stroke="#1a1a1a" stroke-width="1.00"/>
<line x1="230.00" y1="231.60" x2="230.00" y2="234.50" stroke="#1a1a1a" stroke-width="1.00"/>
<line x1="240.27" y1="231.60" x2="240.27" y2="234.50" stroke="#1a1a1a" stroke-width="1.00"/>
<text x="41.3" y="20.30" text-anchor="end" style="font-size:11px">10<tspan dy="-4.6" style="font-size:7.6px">0</tspan></text>
<text x="41.3" y="85.80" text-anchor="end" style="font-size:11px">10<tspan dy="-4.6" style="font-size:7.6px">−1</tspan></text>
<text x="41.3" y="151.30" text-anchor="end" style="font-size:11px">10<tspan dy="-4.6" style="font-size:7.6px">−2</tspan></text>
<text x="41.3" y="216.80" text-anchor="end" style="font-size:11px">10<tspan dy="-4.6" style="font-size:7.6px">−3</tspan></text>
<text x="55.50" y="249" text-anchor="middle" style="font-size:11px">0.0</text>
<text x="106.83" y="249" text-anchor="middle" style="font-size:11px">500</text>
<text x="158.15" y="249" text-anchor="middle" style="font-size:11px">1000</text>
<text x="209.47" y="249" text-anchor="middle" style="font-size:11px">1500</text>
<text x="145.35" y="265" text-anchor="middle" style="font-size:11px">Delay (ps)</text>
<rect x="50.50" y="12.50" width="189.70" height="219.10" fill="none" stroke="#1a1a1a" stroke-width="1.1"/>
<text transform="translate(9.4,171.4) rotate(-90)" style="font-size:11px"><tspan letter-spacing="0.55">Normalized</tspan><tspan style="font-size:10.2px"> |ΔR/R</tspan><tspan dy="2.5" style="font-size:7.3px">0</tspan><tspan dy="-2.5" style="font-size:10.2px">|</tspan></text>
<line x1="167.80" y1="172.30" x2="179.50" y2="172.30" stroke="#2020ff" stroke-width="1.30"/>
<line x1="167.80" y1="208.60" x2="179.50" y2="208.60" stroke="#2a7e2a" stroke-width="1.30"/>
<text x="183.20" y="175.80" fill="#2222ff" style="font-size:11px">E</text>
<line x1="197.40" y1="168.20" x2="197.40" y2="175.40" stroke="#2222ff" stroke-width="0.80"/>
<line x1="193.90" y1="175.35" x2="200.90" y2="175.35" stroke="#2222ff" stroke-width="0.80"/>
<text x="204.10" y="175.80" fill="#2222ff" style="font-size:11px">c</text>
<text x="183.20" y="212.40" fill="#207a20" style="font-size:11px">E</text>
<line x1="194.20" y1="201.20" x2="194.20" y2="213.80" stroke="#207a20" stroke-width="0.95"/>
<line x1="197.50" y1="201.20" x2="197.50" y2="213.80" stroke="#207a20" stroke-width="0.95"/>
<text x="200.50" y="212.40" fill="#207a20" style="font-size:11px">c</text>
<clipPath id="ci127"><rect x="127.50" y="6.50" width="112.70" height="109.70"/></clipPath>
<line x1="127.50" y1="107.70" x2="240.20" y2="107.70" stroke="#888" stroke-width="0.8" stroke-dasharray="2.6,2.4"/>
<g clip-path="url(#ci127)">
<path d="M127.22,107.70 L127.42,107.70 L127.62,107.70 L127.82,107.70 L128.02,107.70 L128.22,107.70 L128.42,107.70 L128.62,107.70 L128.81,107.70 L129.01,107.70 L129.21,107.70 L129.41,107.70 L129.61,107.70 L129.81,107.70 L130.01,107.70 L130.21,107.70 L130.41,107.70 L130.61,107.67 L130.81,107.06 L131.01,105.72 L131.21,103.72 L131.41,101.13 L131.61,98.01 L131.80,94.43 L132.00,90.45 L132.20,86.14 L132.40,81.57 L132.60,76.80 L132.80,71.90 L133.00,66.93 L133.20,61.96 L133.40,57.06 L133.60,52.28 L133.80,47.71 L134.00,43.40 L134.20,39.41 L134.40,35.82 L134.59,32.70 L134.79,30.10 L134.99,28.09 L135.19,26.74 L135.39,26.11 L135.59,26.40 L135.79,27.05 L135.99,27.81 L136.19,28.63 L136.39,29.50 L136.59,30.40 L136.79,31.34 L136.99,32.29 L137.19,33.27 L137.39,34.26 L137.58,35.26 L137.78,36.28 L137.98,37.29 L138.18,38.32 L138.38,39.34 L138.58,40.37 L138.78,41.40 L138.98,42.42 L138.98,42.42 L139.63,45.76 L140.29,49.04 L140.94,52.24 L141.59,55.34 L142.25,58.33 L142.90,61.20 L143.55,63.95 L144.21,66.58 L144.86,69.07 L145.51,71.44 L146.17,73.69 L146.82,75.80 L147.47,77.80 L148.13,79.68 L148.78,81.45 L149.43,83.11 L150.09,84.66 L150.74,86.12 L151.39,87.47 L152.05,88.74 L152.70,89.93 L153.35,91.03 L154.01,92.05 L154.66,93.01 L155.31,93.89 L155.97,94.71 L156.62,95.47 L157.27,96.18 L157.93,96.83 L158.58,97.44 L159.23,98.00 L159.89,98.52 L160.54,99.00 L161.19,99.44 L161.85,99.85 L162.50,100.23 L163.15,100.57 L163.81,100.90 L164.46,101.19 L165.11,101.47 L165.77,101.72 L166.42,101.95 L167.07,102.17 L167.73,102.37 L168.38,102.55 L169.03,102.72 L169.69,102.88 L170.34,103.02 L170.99,103.16 L171.65,103.28 L172.30,103.40 L172.95,103.51 L173.61,103.60 L174.26,103.70 L174.91,103.78 L175.57,103.86 L176.22,103.94 L176.87,104.01 L177.53,104.07 L178.18,104.13 L178.83,104.19 L179.49,104.25 L180.14,104.30 L180.79,104.34 L181.45,104.39 L182.10,104.43 L182.75,104.47 L183.41,104.51 L184.06,104.55 L184.71,104.59 L185.37,104.62 L186.02,104.65 L186.67,104.68 L187.33,104.71 L187.98,104.74 L188.63,104.77 L189.29,104.80 L189.94,104.82 L190.59,104.85 L191.25,104.87 L191.90,104.89 L192.55,104.92 L193.21,104.94 L193.86,104.96 L194.51,104.98 L195.17,105.00 L195.82,105.02 L196.47,105.04 L197.13,105.06 L197.78,105.08 L198.43,105.10 L199.09,105.12 L199.74,105.14 L200.39,105.16 L201.05,105.17 L201.70,105.19 L202.35,105.21 L203.01,105.23 L203.66,105.24 L204.31,105.26 L204.97,105.27 L205.62,105.29 L206.27,105.31 L206.93,105.32 L207.58,105.34 L208.23,105.35 L208.89,105.37 L209.54,105.38 L210.19,105.40 L210.85,105.41 L211.50,105.42 L212.15,105.44 L212.81,105.45 L213.46,105.47 L214.11,105.48 L214.77,105.49 L215.42,105.51 L216.07,105.52 L216.73,105.53 L217.38,105.54 L218.03,105.56 L218.69,105.57 L219.34,105.58 L219.99,105.59 L220.65,105.60 L221.30,105.62 L221.95,105.63 L222.61,105.64 L223.26,105.65 L223.91,105.66 L224.57,105.67 L225.22,105.68 L225.87,105.70 L226.53,105.71 L227.18,105.72 L227.83,105.73 L228.49,105.74 L229.14,105.75 L229.79,105.76 L230.45,105.77 L231.10,105.78 L231.75,105.79 L232.41,105.80 L233.06,105.81 L233.71,105.82 L234.37,105.83 L235.02,105.84 L235.67,105.85 L236.33,105.86 L236.98,105.86 L237.63,105.87 L238.29,105.88 L238.94,105.89 L239.59,105.90 L240.25,105.91 L240.90,105.92 L241.55,105.92 L242.21,105.93 L242.86,105.94" fill="none" stroke="#2020ff" stroke-width="1.1" stroke-linejoin="round"/>
<path d="M127.22,107.70 L127.42,107.70 L127.62,107.70 L127.82,107.70 L128.02,107.70 L128.22,107.70 L128.42,107.70 L128.62,107.70 L128.81,107.70 L129.01,107.70 L129.21,107.70 L129.41,107.70 L129.61,107.70 L129.81,107.70 L130.01,107.70 L130.21,107.70 L130.41,107.70 L130.61,107.67 L130.81,107.12 L131.01,105.91 L131.21,104.11 L131.41,101.75 L131.61,98.91 L131.80,95.62 L132.00,91.96 L132.20,87.96 L132.40,83.70 L132.60,79.21 L132.80,74.56 L133.00,69.80 L133.20,64.99 L133.40,60.18 L133.60,55.42 L133.80,50.77 L134.00,46.29 L134.20,42.03 L134.40,38.04 L134.59,34.38 L134.79,31.10 L134.99,28.26 L135.19,25.92 L135.39,24.12 L135.59,22.93 L135.79,22.39 L135.99,22.57 L136.19,22.94 L136.39,23.35 L136.59,23.79 L136.79,24.26 L136.99,24.74 L137.19,25.24 L137.39,25.75 L137.58,26.28 L137.78,26.81 L137.98,27.35 L138.18,27.90 L138.38,28.45 L138.58,29.01 L138.78,29.57 L138.98,30.14 L138.98,30.14 L139.63,32.02 L140.29,33.92 L140.94,35.82 L141.59,37.73 L142.25,39.63 L142.90,41.51 L143.55,43.37 L144.21,45.21 L144.86,47.02 L145.51,48.80 L146.17,50.55 L146.82,52.27 L147.47,53.94 L148.13,55.59 L148.78,57.19 L149.43,58.76 L150.09,60.29 L150.74,61.77 L151.39,63.22 L152.05,64.63 L152.70,66.00 L153.35,67.34 L154.01,68.63 L154.66,69.88 L155.31,71.10 L155.97,72.28 L156.62,73.42 L157.27,74.53 L157.93,75.60 L158.58,76.64 L159.23,77.64 L159.89,78.61 L160.54,79.55 L161.19,80.46 L161.85,81.34 L162.50,82.18 L163.15,83.00 L163.81,83.79 L164.46,84.55 L165.11,85.28 L165.77,85.99 L166.42,86.67 L167.07,87.33 L167.73,87.96 L168.38,88.58 L169.03,89.17 L169.69,89.73 L170.34,90.28 L170.99,90.81 L171.65,91.32 L172.30,91.80 L172.95,92.28 L173.61,92.73 L174.26,93.17 L174.91,93.59 L175.57,93.99 L176.22,94.38 L176.87,94.76 L177.53,95.12 L178.18,95.47 L178.83,95.80 L179.49,96.12 L180.14,96.43 L180.79,96.73 L181.45,97.02 L182.10,97.30 L182.75,97.56 L183.41,97.82 L184.06,98.07 L184.71,98.31 L185.37,98.54 L186.02,98.76 L186.67,98.97 L187.33,99.18 L187.98,99.38 L188.63,99.57 L189.29,99.75 L189.94,99.93 L190.59,100.10 L191.25,100.27 L191.90,100.43 L192.55,100.58 L193.21,100.73 L193.86,100.87 L194.51,101.01 L195.17,101.14 L195.82,101.27 L196.47,101.40 L197.13,101.52 L197.78,101.64 L198.43,101.75 L199.09,101.86 L199.74,101.97 L200.39,102.07 L201.05,102.17 L201.70,102.27 L202.35,102.36 L203.01,102.45 L203.66,102.54 L204.31,102.62 L204.97,102.71 L205.62,102.79 L206.27,102.86 L206.93,102.94 L207.58,103.01 L208.23,103.08 L208.89,103.15 L209.54,103.22 L210.19,103.29 L210.85,103.35 L211.50,103.41 L212.15,103.47 L212.81,103.53 L213.46,103.59 L214.11,103.65 L214.77,103.70 L215.42,103.76 L216.07,103.81 L216.73,103.86 L217.38,103.91 L218.03,103.96 L218.69,104.01 L219.34,104.05 L219.99,104.10 L220.65,104.14 L221.30,104.19 L221.95,104.23 L222.61,104.27 L223.26,104.31 L223.91,104.35 L224.57,104.39 L225.22,104.43 L225.87,104.46 L226.53,104.50 L227.18,104.54 L227.83,104.57 L228.49,104.61 L229.14,104.64 L229.79,104.67 L230.45,104.71 L231.10,104.74 L231.75,104.77 L232.41,104.80 L233.06,104.83 L233.71,104.86 L234.37,104.89 L235.02,104.92 L235.67,104.95 L236.33,104.98 L236.98,105.00 L237.63,105.03 L238.29,105.06 L238.94,105.08 L239.59,105.11 L240.25,105.13 L240.90,105.16 L241.55,105.18 L242.21,105.21 L242.86,105.23" fill="none" stroke="#2a7e2a" stroke-width="1.1" stroke-linejoin="round"/>
<path d="M127.22,107.70 L127.42,107.70 L127.62,107.70 L127.82,107.70 L128.02,107.70 L128.22,107.70 L128.42,107.70 L128.62,107.70 L128.81,107.70 L129.01,107.70 L129.21,107.70 L129.41,107.70 L129.61,107.70 L129.81,107.70 L130.01,107.70 L130.21,107.70 L130.41,107.70 L130.61,107.67 L130.81,107.06 L131.01,105.72 L131.21,103.72 L131.41,101.13 L131.61,98.01 L131.80,94.43 L132.00,90.45 L132.20,86.14 L132.40,81.57 L132.60,76.80 L132.80,71.90 L133.00,66.93 L133.20,61.96 L133.40,57.06 L133.60,52.28 L133.80,47.71 L134.00,43.40 L134.20,39.41 L134.40,35.82 L134.59,32.70 L134.79,30.10 L134.99,28.09 L135.19,26.74 L135.39,26.11 L135.59,26.40 L135.79,27.05 L135.99,27.81 L136.19,28.63 L136.39,29.50 L136.59,30.40 L136.79,31.34 L136.99,32.29 L137.19,33.27 L137.39,34.26 L137.58,35.26 L137.78,36.28 L137.98,37.29 L138.18,38.32 L138.38,39.34 L138.58,40.37 L138.78,41.40 L138.98,42.42 L138.98,42.42 L139.63,45.76 L140.29,49.04 L140.94,52.24 L141.59,55.34 L142.25,58.33 L142.90,61.20 L143.55,63.95 L144.21,66.58 L144.86,69.07 L145.51,71.44 L146.17,73.69 L146.82,75.80 L147.47,77.80 L148.13,79.68 L148.78,81.45 L149.43,83.11 L150.09,84.66 L150.74,86.12 L151.39,87.47 L152.05,88.74 L152.70,89.93 L153.35,91.03 L154.01,92.05 L154.66,93.01 L155.31,93.89 L155.97,94.71 L156.62,95.47 L157.27,96.18 L157.93,96.83 L158.58,97.44 L159.23,98.00 L159.89,98.52 L160.54,99.00 L161.19,99.44 L161.85,99.85 L162.50,100.23 L163.15,100.57 L163.81,100.90 L164.46,101.19 L165.11,101.47 L165.77,101.72 L166.42,101.95 L167.07,102.17 L167.73,102.37 L168.38,102.55 L169.03,102.72 L169.69,102.88 L170.34,103.02 L170.99,103.16 L171.65,103.28 L172.30,103.40 L172.95,103.51 L173.61,103.60 L174.26,103.70 L174.91,103.78 L175.57,103.86 L176.22,103.94 L176.87,104.01 L177.53,104.07 L178.18,104.13 L178.83,104.19 L179.49,104.25 L180.14,104.30 L180.79,104.34 L181.45,104.39 L182.10,104.43 L182.75,104.47 L183.41,104.51 L184.06,104.55 L184.71,104.59 L185.37,104.62 L186.02,104.65 L186.67,104.68 L187.33,104.71 L187.98,104.74 L188.63,104.77 L189.29,104.80 L189.94,104.82 L190.59,104.85 L191.25,104.87 L191.90,104.89 L192.55,104.92 L193.21,104.94 L193.86,104.96 L194.51,104.98 L195.17,105.00 L195.82,105.02 L196.47,105.04 L197.13,105.06 L197.78,105.08 L198.43,105.10 L199.09,105.12 L199.74,105.14 L200.39,105.16 L201.05,105.17 L201.70,105.19 L202.35,105.21 L203.01,105.23 L203.66,105.24 L204.31,105.26 L204.97,105.27 L205.62,105.29 L206.27,105.31 L206.93,105.32 L207.58,105.34 L208.23,105.35 L208.89,105.37 L209.54,105.38 L210.19,105.40 L210.85,105.41 L211.50,105.42 L212.15,105.44 L212.81,105.45 L213.46,105.47 L214.11,105.48 L214.77,105.49 L215.42,105.51 L216.07,105.52 L216.73,105.53 L217.38,105.54 L218.03,105.56 L218.69,105.57 L219.34,105.58 L219.99,105.59 L220.65,105.60 L221.30,105.62 L221.95,105.63 L222.61,105.64 L223.26,105.65 L223.91,105.66 L224.57,105.67 L225.22,105.68 L225.87,105.70 L226.53,105.71 L227.18,105.72 L227.83,105.73 L228.49,105.74 L229.14,105.75 L229.79,105.76 L230.45,105.77 L231.10,105.78 L231.75,105.79 L232.41,105.80 L233.06,105.81 L233.71,105.82 L234.37,105.83 L235.02,105.84 L235.67,105.85 L236.33,105.86 L236.98,105.86 L237.63,105.87 L238.29,105.88 L238.94,105.89 L239.59,105.90 L240.25,105.91 L240.90,105.92 L241.55,105.92 L242.21,105.93 L242.86,105.94" fill="none" stroke="#ff2020" stroke-width="1.1" stroke-dasharray="3.0,2.6"/>
<path d="M127.22,107.70 L127.42,107.70 L127.62,107.70 L127.82,107.70 L128.02,107.70 L128.22,107.70 L128.42,107.70 L128.62,107.70 L128.81,107.70 L129.01,107.70 L129.21,107.70 L129.41,107.70 L129.61,107.70 L129.81,107.70 L130.01,107.70 L130.21,107.70 L130.41,107.70 L130.61,107.67 L130.81,107.12 L131.01,105.91 L131.21,104.11 L131.41,101.75 L131.61,98.91 L131.80,95.62 L132.00,91.96 L132.20,87.96 L132.40,83.70 L132.60,79.21 L132.80,74.56 L133.00,69.80 L133.20,64.99 L133.40,60.18 L133.60,55.42 L133.80,50.77 L134.00,46.29 L134.20,42.03 L134.40,38.04 L134.59,34.38 L134.79,31.10 L134.99,28.26 L135.19,25.92 L135.39,24.12 L135.59,22.93 L135.79,22.39 L135.99,22.57 L136.19,22.94 L136.39,23.35 L136.59,23.79 L136.79,24.26 L136.99,24.74 L137.19,25.24 L137.39,25.75 L137.58,26.28 L137.78,26.81 L137.98,27.35 L138.18,27.90 L138.38,28.45 L138.58,29.01 L138.78,29.57 L138.98,30.14 L138.98,30.14 L139.63,32.02 L140.29,33.92 L140.94,35.82 L141.59,37.73 L142.25,39.63 L142.90,41.51 L143.55,43.37 L144.21,45.21 L144.86,47.02 L145.51,48.80 L146.17,50.55 L146.82,52.27 L147.47,53.94 L148.13,55.59 L148.78,57.19 L149.43,58.76 L150.09,60.29 L150.74,61.77 L151.39,63.22 L152.05,64.63 L152.70,66.00 L153.35,67.34 L154.01,68.63 L154.66,69.88 L155.31,71.10 L155.97,72.28 L156.62,73.42 L157.27,74.53 L157.93,75.60 L158.58,76.64 L159.23,77.64 L159.89,78.61 L160.54,79.55 L161.19,80.46 L161.85,81.34 L162.50,82.18 L163.15,83.00 L163.81,83.79 L164.46,84.55 L165.11,85.28 L165.77,85.99 L166.42,86.67 L167.07,87.33 L167.73,87.96 L168.38,88.58 L169.03,89.17 L169.69,89.73 L170.34,90.28 L170.99,90.81 L171.65,91.32 L172.30,91.80 L172.95,92.28 L173.61,92.73 L174.26,93.17 L174.91,93.59 L175.57,93.99 L176.22,94.38 L176.87,94.76 L177.53,95.12 L178.18,95.47 L178.83,95.80 L179.49,96.12 L180.14,96.43 L180.79,96.73 L181.45,97.02 L182.10,97.30 L182.75,97.56 L183.41,97.82 L184.06,98.07 L184.71,98.31 L185.37,98.54 L186.02,98.76 L186.67,98.97 L187.33,99.18 L187.98,99.38 L188.63,99.57 L189.29,99.75 L189.94,99.93 L190.59,100.10 L191.25,100.27 L191.90,100.43 L192.55,100.58 L193.21,100.73 L193.86,100.87 L194.51,101.01 L195.17,101.14 L195.82,101.27 L196.47,101.40 L197.13,101.52 L197.78,101.64 L198.43,101.75 L199.09,101.86 L199.74,101.97 L200.39,102.07 L201.05,102.17 L201.70,102.27 L202.35,102.36 L203.01,102.45 L203.66,102.54 L204.31,102.62 L204.97,102.71 L205.62,102.79 L206.27,102.86 L206.93,102.94 L207.58,103.01 L208.23,103.08 L208.89,103.15 L209.54,103.22 L210.19,103.29 L210.85,103.35 L211.50,103.41 L212.15,103.47 L212.81,103.53 L213.46,103.59 L214.11,103.65 L214.77,103.70 L215.42,103.76 L216.07,103.81 L216.73,103.86 L217.38,103.91 L218.03,103.96 L218.69,104.01 L219.34,104.05 L219.99,104.10 L220.65,104.14 L221.30,104.19 L221.95,104.23 L222.61,104.27 L223.26,104.31 L223.91,104.35 L224.57,104.39 L225.22,104.43 L225.87,104.46 L226.53,104.50 L227.18,104.54 L227.83,104.57 L228.49,104.61 L229.14,104.64 L229.79,104.67 L230.45,104.71 L231.10,104.74 L231.75,104.77 L232.41,104.80 L233.06,104.83 L233.71,104.86 L234.37,104.89 L235.02,104.92 L235.67,104.95 L236.33,104.98 L236.98,105.00 L237.63,105.03 L238.29,105.06 L238.94,105.08 L239.59,105.11 L240.25,105.13 L240.90,105.16 L241.55,105.18 L242.21,105.21 L242.86,105.23" fill="none" stroke="#ff2020" stroke-width="1.1" stroke-dasharray="3.0,2.6"/>
</g>
<line x1="127.50" y1="12.50" x2="127.50" y2="116.20" stroke="#1a1a1a" stroke-width="1.10"/>
<line x1="127.50" y1="116.20" x2="240.20" y2="116.20" stroke="#1a1a1a" stroke-width="1.10"/>
<line x1="124.70" y1="107.70" x2="127.50" y2="107.70" stroke="#1a1a1a" stroke-width="0.90"/>
<line x1="125.50" y1="99.33" x2="127.50" y2="99.33" stroke="#1a1a1a" stroke-width="0.90"/>
<line x1="125.50" y1="90.96" x2="127.50" y2="90.96" stroke="#1a1a1a" stroke-width="0.90"/>
<line x1="125.50" y1="82.59" x2="127.50" y2="82.59" stroke="#1a1a1a" stroke-width="0.90"/>
<line x1="125.50" y1="74.22" x2="127.50" y2="74.22" stroke="#1a1a1a" stroke-width="0.90"/>
<line x1="124.70" y1="65.85" x2="127.50" y2="65.85" stroke="#1a1a1a" stroke-width="0.90"/>
<line x1="125.50" y1="57.48" x2="127.50" y2="57.48" stroke="#1a1a1a" stroke-width="0.90"/>
<line x1="125.50" y1="49.11" x2="127.50" y2="49.11" stroke="#1a1a1a" stroke-width="0.90"/>
<line x1="125.50" y1="40.74" x2="127.50" y2="40.74" stroke="#1a1a1a" stroke-width="0.90"/>
<line x1="125.50" y1="32.37" x2="127.50" y2="32.37" stroke="#1a1a1a" stroke-width="0.90"/>
<line x1="124.70" y1="24.00" x2="127.50" y2="24.00" stroke="#1a1a1a" stroke-width="0.90"/>
<text x="119.90" y="111.30" text-anchor="end" style="font-size:10px">0.0</text>
<text x="119.90" y="69.45" text-anchor="end" style="font-size:10px">0.5</text>
<text x="119.90" y="27.60" text-anchor="end" style="font-size:10px">1.0</text>
<line x1="133.10" y1="116.20" x2="133.10" y2="112.80" stroke="#1a1a1a" stroke-width="0.90"/>
<line x1="152.70" y1="116.20" x2="152.70" y2="112.80" stroke="#1a1a1a" stroke-width="0.90"/>
<line x1="172.30" y1="116.20" x2="172.30" y2="112.80" stroke="#1a1a1a" stroke-width="0.90"/>
<line x1="191.90" y1="116.20" x2="191.90" y2="112.80" stroke="#1a1a1a" stroke-width="0.90"/>
<line x1="211.50" y1="116.20" x2="211.50" y2="112.80" stroke="#1a1a1a" stroke-width="0.90"/>
<line x1="231.10" y1="116.20" x2="231.10" y2="112.80" stroke="#1a1a1a" stroke-width="0.90"/>
<text x="133.10" y="128.20" text-anchor="middle" style="font-size:10px">0</text>
<text x="231.10" y="128.20" text-anchor="middle" style="font-size:10px">50</text>
<text x="183.85" y="141.20" text-anchor="middle" style="font-size:11px">Delay (ps)</text>
<text transform="translate(94.2,63.3) rotate(-90)" text-anchor="middle" style="font-size:10.9px">|ΔR/R<tspan dy="2.5" style="font-size:7.6px">0</tspan><tspan dy="-2.5">|</tspan></text>
<text x="179.0" y="32.4" style="font-size:11px">@0.34 eV</text>
<path d="M273.6,232 L273.6,200.3 L274.5,199.8 L275.4,200.4 L276.3,199.9 L276.3,193.6 L277.6,193.4 L277.6,232 Z" fill="#1e8a1e"/>
<rect x="276.4" y="193.2" width="1.1" height="2.6" fill="#4a4aff"/>
<clipPath id="clipm222"><rect x="273.00" y="12.5" width="189.70" height="219.10"/></clipPath>
<g clip-path="url(#clipm222)">
<path d="M277.84,247.10 L277.87,247.10 L277.88,247.10 L277.89,247.10 L277.90,247.10 L277.91,247.10 L277.92,247.10 L277.93,247.10 L277.95,247.10 L277.96,247.10 L277.97,247.10 L277.98,247.10 L277.99,247.10 L278.00,187.41 L278.01,90.42 L278.03,59.24 L278.04,41.49 L278.05,30.03 L278.06,22.52 L278.07,18.05 L278.08,16.40 L278.09,18.46 L278.10,20.30 L278.12,21.84 L278.13,23.12 L278.14,24.18 L278.15,25.05 L278.16,25.76 L278.17,26.34 L278.18,26.82 L278.19,27.21 L278.21,27.53 L278.22,27.79 L278.23,28.01 L278.24,28.20 L278.25,28.35 L278.26,28.48 L278.27,28.60 L278.29,28.69 L278.30,28.78 L278.31,28.86 L278.31,28.86 L278.38,29.21 L278.46,29.44 L278.54,29.61 L278.61,29.74 L278.69,29.84 L278.76,29.93 L278.84,30.01 L278.91,30.07 L278.99,30.13 L279.07,30.17 L279.14,30.22 L279.22,30.26 L279.29,30.30 L279.37,30.34 L279.45,30.38 L279.52,30.41 L279.60,30.45 L279.67,30.48 L279.75,30.52 L279.82,30.55 L279.90,30.58 L279.98,30.62 L280.05,30.65 L280.13,30.68 L280.20,30.71 L280.28,30.75 L280.36,30.78 L280.43,30.81 L280.51,30.85 L280.58,30.88 L280.66,30.91 L280.73,30.94 L280.81,30.98 L280.89,31.01 L280.96,31.04 L281.04,31.07 L281.11,30.87 L281.19,30.84 L281.27,31.13 L281.34,31.61 L281.42,31.80 L281.49,31.37 L281.57,31.42 L281.64,31.66 L281.72,31.46 L281.80,31.70 L281.87,31.39 L281.95,31.75 L282.02,31.13 L282.10,31.87 L282.18,31.43 L282.25,31.01 L282.33,31.56 L282.40,31.64 L282.48,31.88 L282.55,31.35 L282.63,31.83 L282.71,31.95 L282.78,32.02 L282.86,31.94 L282.93,32.26 L283.01,31.97 L283.09,31.72 L283.16,31.99 L283.24,32.14 L283.31,31.87 L283.39,32.14 L283.46,31.80 L283.54,32.65 L283.62,32.57 L283.69,32.17 L283.77,32.06 L283.84,32.29 L283.92,32.53 L283.99,32.46 L284.07,32.31 L284.15,32.63 L284.22,32.18 L284.30,32.43 L284.37,32.20 L284.45,32.67 L284.53,32.61 L284.60,32.40 L284.68,32.73 L284.75,32.87 L284.83,32.17 L284.90,32.91 L284.98,32.43 L285.06,32.72 L285.13,33.25 L285.21,32.84 L285.28,33.23 L285.36,33.21 L285.44,33.02 L285.51,33.14 L285.59,33.32 L285.66,32.57 L285.74,33.59 L285.81,33.27 L285.89,33.35 L285.97,33.61 L286.04,33.68 L286.12,33.30 L286.19,33.32 L286.27,33.25 L286.35,33.06 L286.42,33.66 L286.50,33.48 L286.57,33.81 L286.65,33.72 L286.72,33.70 L286.80,33.60 L286.88,34.04 L286.95,34.00 L287.03,34.00 L287.10,33.93 L287.18,34.31 L287.26,33.51 L287.33,34.24 L287.41,33.71 L287.48,33.71 L287.56,33.99 L287.63,33.69 L287.71,33.78 L287.79,33.92 L287.86,34.36 L287.94,33.90 L288.01,34.29 L288.09,34.04 L288.17,34.00 L288.24,33.76 L288.32,33.99 L288.39,34.01 L288.47,34.21 L288.54,34.81 L288.62,34.79 L288.70,34.23 L288.77,34.32 L288.85,34.04 L288.92,34.30 L289.00,34.75 L289.08,34.48 L289.15,34.28 L289.23,34.11 L289.30,34.15 L289.38,33.96 L289.45,34.52 L289.53,34.44 L289.61,34.85 L289.68,34.79 L289.76,35.12 L289.83,35.29 L289.91,34.78 L289.99,34.75 L290.06,34.88 L290.14,35.65 L290.21,34.91 L290.29,34.61 L290.36,34.66 L290.44,34.59 L290.52,34.93 L290.59,35.81 L290.67,35.09 L290.74,35.44 L290.82,35.41 L290.90,35.04 L290.97,35.19 L291.05,35.30 L291.12,35.08 L291.20,35.88 L291.27,34.95 L291.35,35.73 L291.43,35.80 L291.50,35.63 L291.58,35.77 L291.65,35.80 L291.73,35.64 L291.81,35.49 L291.88,35.76 L291.96,35.39 L292.03,36.10 L292.11,36.40 L292.18,36.17 L292.26,36.08 L292.34,35.66 L292.41,36.08 L292.49,35.65 L292.56,35.87 L292.64,36.61 L292.72,35.92 L292.79,35.91 L292.87,35.33 L292.94,35.76 L293.02,36.15 L293.09,36.12 L293.17,35.92 L293.25,36.59 L293.32,36.20 L293.40,36.30 L293.40,36.07 L294.06,37.10 L294.73,37.77 L295.40,37.42 L296.07,37.28 L296.73,37.42 L297.40,38.02 L298.07,37.93 L298.74,39.00 L299.40,39.40 L300.07,39.43 L300.74,39.86 L301.40,40.13 L302.07,40.47 L302.74,39.63 L303.41,40.64 L304.07,40.66 L304.74,40.80 L305.41,41.46 L306.07,41.55 L306.74,41.46 L307.41,41.74 L308.08,42.43 L308.74,43.39 L309.41,43.91 L310.08,43.85 L310.75,44.05 L311.41,43.82 L312.08,44.77 L312.75,45.05 L313.41,44.75 L314.08,45.44 L314.75,46.17 L315.42,45.90 L316.08,46.02 L316.75,47.01 L317.42,46.63 L318.08,47.32 L318.75,47.40 L319.42,47.63 L320.09,47.93 L320.75,48.35 L321.42,48.34 L322.09,48.24 L322.76,49.30 L323.42,49.92 L324.09,50.53 L324.76,49.23 L325.42,50.04 L326.09,50.66 L326.76,51.35 L327.43,50.99 L328.09,50.90 L328.76,51.97 L329.43,51.57 L330.09,51.16 L330.76,53.20 L331.43,53.40 L332.10,52.53 L332.76,53.79 L333.43,53.77 L334.10,54.96 L334.77,54.18 L335.43,53.92 L336.10,54.87 L336.77,54.82 L337.43,55.11 L338.10,55.78 L338.77,56.61 L339.44,56.07 L340.10,53.63 L340.77,55.75 L341.44,55.43 L342.10,57.20 L342.77,58.42 L343.44,58.25 L344.11,57.80 L344.77,58.28 L345.44,58.52 L346.11,58.51 L346.78,58.87 L347.44,59.78 L348.11,61.75 L348.78,60.25 L349.44,60.55 L350.11,60.24 L350.78,60.51 L351.45,60.54 L352.11,61.51 L352.78,62.55 L353.45,62.58 L354.11,61.73 L354.78,61.63 L355.45,63.35 L356.12,62.81 L356.78,63.42 L357.45,65.31 L358.12,65.20 L358.79,65.09 L359.45,65.07 L360.12,66.88 L360.79,64.96 L361.45,64.87 L362.12,65.68 L362.79,66.09 L363.46,66.22 L364.12,67.55 L364.79,67.58 L365.46,66.94 L366.13,66.41 L366.79,67.02 L367.46,68.58 L368.13,67.48 L368.79,69.33 L369.46,70.16 L370.13,72.09 L370.80,70.21 L371.46,69.89 L372.13,70.42 L372.80,67.76 L373.46,71.00 L374.13,72.11 L374.80,72.67 L375.47,72.42 L376.13,72.23 L376.80,71.62 L377.47,71.72 L378.14,73.61 L378.80,71.76 L379.47,72.32 L380.14,72.24 L380.80,74.53 L381.47,74.82 L382.14,75.22 L382.81,74.00 L383.47,76.42 L384.14,76.16 L384.81,76.28 L385.47,75.77 L386.14,76.68 L386.81,76.42 L387.48,77.34 L388.14,76.82 L388.81,76.75 L389.48,77.37 L390.15,77.54 L390.81,78.79 L391.48,77.17 L392.15,78.81 L392.81,77.72 L393.48,75.87 L394.15,80.90 L394.82,77.56 L395.48,78.45 L396.15,80.55 L396.82,77.68 L397.48,80.03 L398.15,80.20 L398.82,79.30 L399.49,81.87 L400.15,84.23 L400.82,82.04 L401.49,82.73 L402.16,81.46 L402.82,83.00 L403.49,81.69 L404.16,82.15 L404.82,84.77 L405.49,83.69 L406.16,82.25 L406.83,82.56 L407.49,83.86 L408.16,85.15 L408.83,85.84 L409.49,83.28 L410.16,85.17 L410.83,88.94 L411.50,84.54 L412.16,86.47 L412.83,86.76 L413.50,83.18 L414.17,87.67 L414.83,86.65 L415.50,90.86 L416.17,88.40 L416.83,87.40 L417.50,87.40 L418.17,87.78 L418.84,87.81 L419.50,90.85 L420.17,90.32 L420.84,92.92 L421.50,93.27 L422.17,94.30 L422.84,92.50 L423.51,92.20 L424.17,95.24 L424.84,96.23 L425.51,95.50 L426.18,93.10 L426.84,93.35 L427.51,95.42 L428.18,93.94 L428.84,95.41 L429.51,95.38 L430.18,92.16 L430.85,89.68 L431.51,91.05 L432.18,89.98 L432.85,95.46 L433.51,94.03 L434.18,91.26 L434.85,98.11 L435.52,99.61 L436.18,97.42 L436.85,99.33 L437.52,100.00 L438.19,93.59 L438.85,99.48 L439.52,100.69 L440.19,100.56 L440.85,104.21 L441.52,101.31 L442.19,100.09 L442.86,99.33 L443.52,98.78 L444.19,101.79 L444.86,100.43 L445.52,98.71 L446.19,103.08 L446.86,104.21 L447.53,105.60 L448.19,99.86 L448.86,99.96 L449.53,98.50 L450.20,104.79 L450.86,105.48 L451.53,105.24 L452.20,102.91 L452.86,104.99 L453.53,101.95 L454.20,101.27 L454.87,98.44 L455.53,107.39 L456.20,108.18 L456.87,106.74 L457.53,107.23 L458.20,110.39 L458.87,108.32 L459.54,106.90 L460.20,107.52 L460.87,107.82 L461.54,106.14 L462.21,112.04 L462.87,108.63 L463.54,99.72" fill="none" stroke="#1f1fff" stroke-width="1.15" stroke-linejoin="round"/>
<path d="M277.84,247.10 L277.87,247.10 L277.88,247.10 L277.89,247.10 L277.90,247.10 L277.91,247.10 L277.92,247.10 L277.93,247.10 L277.95,247.10 L277.96,247.10 L277.97,247.10 L277.98,247.10 L277.99,247.10 L278.00,247.10 L278.01,194.04 L278.03,112.64 L278.04,82.02 L278.05,63.41 L278.06,50.41 L278.07,40.73 L278.08,33.30 L278.09,27.54 L278.10,23.12 L278.12,19.86 L278.13,17.67 L278.14,16.54 L278.15,16.46 L278.16,16.61 L278.17,16.77 L278.18,16.93 L278.19,17.10 L278.21,17.28 L278.22,17.46 L278.23,17.63 L278.24,17.82 L278.25,18.00 L278.26,18.18 L278.27,18.37 L278.29,18.55 L278.30,18.74 L278.31,18.92 L278.31,18.92 L278.38,20.17 L278.46,21.39 L278.54,22.59 L278.61,23.74 L278.69,24.85 L278.76,25.90 L278.84,26.89 L278.91,27.83 L278.99,28.71 L279.07,29.53 L279.14,30.29 L279.22,31.00 L279.29,31.65 L279.37,32.26 L279.45,32.81 L279.52,33.32 L279.60,33.79 L279.67,34.22 L279.75,34.61 L279.82,34.96 L279.90,35.29 L279.98,35.58 L280.05,35.85 L280.13,36.09 L280.20,36.32 L280.28,36.52 L280.36,36.70 L280.43,36.87 L280.51,37.03 L280.58,37.17 L280.66,37.30 L280.73,37.42 L280.81,37.53 L280.89,37.63 L280.96,37.72 L281.04,37.81 L281.11,37.22 L281.19,38.04 L281.27,37.76 L281.34,37.53 L281.42,37.94 L281.49,38.14 L281.57,38.68 L281.64,37.82 L281.72,38.92 L281.80,39.17 L281.87,38.86 L281.95,38.80 L282.02,38.64 L282.10,38.24 L282.18,38.73 L282.25,38.86 L282.33,39.10 L282.40,39.88 L282.48,39.09 L282.55,39.13 L282.63,39.46 L282.71,38.56 L282.78,38.51 L282.86,38.96 L282.93,38.84 L283.01,39.40 L283.09,39.04 L283.16,39.76 L283.24,39.79 L283.31,39.55 L283.39,39.17 L283.46,39.61 L283.54,39.70 L283.62,39.04 L283.69,39.50 L283.77,39.66 L283.84,39.67 L283.92,40.13 L283.99,40.05 L284.07,39.30 L284.15,39.71 L284.22,39.35 L284.30,39.91 L284.37,39.44 L284.45,40.29 L284.53,40.04 L284.60,40.20 L284.68,39.86 L284.75,39.49 L284.83,40.78 L284.90,40.07 L284.98,40.55 L285.06,40.27 L285.13,40.40 L285.21,40.81 L285.28,40.45 L285.36,40.78 L285.44,39.95 L285.51,40.62 L285.59,40.34 L285.66,40.44 L285.74,40.47 L285.81,40.53 L285.89,41.09 L285.97,39.97 L286.04,40.72 L286.12,40.46 L286.19,41.21 L286.27,40.61 L286.35,40.92 L286.42,40.62 L286.50,41.07 L286.57,41.26 L286.65,40.80 L286.72,40.92 L286.80,40.49 L286.88,41.14 L286.95,41.31 L287.03,40.84 L287.10,41.57 L287.18,40.46 L287.26,40.71 L287.33,40.79 L287.41,41.19 L287.48,41.41 L287.56,41.42 L287.63,41.36 L287.71,41.71 L287.79,41.30 L287.86,41.06 L287.94,41.15 L288.01,42.36 L288.09,40.72 L288.17,41.70 L288.24,42.25 L288.32,41.98 L288.39,41.55 L288.47,41.79 L288.54,42.15 L288.62,42.26 L288.70,41.65 L288.77,42.21 L288.85,42.01 L288.92,42.32 L289.00,42.39 L289.08,42.01 L289.15,41.63 L289.23,42.41 L289.30,42.83 L289.38,42.54 L289.45,42.36 L289.53,43.11 L289.61,41.96 L289.68,42.70 L289.76,42.27 L289.83,42.50 L289.91,42.46 L289.99,43.11 L290.06,42.43 L290.14,42.39 L290.21,42.02 L290.29,42.75 L290.36,42.45 L290.44,42.96 L290.52,42.37 L290.59,42.68 L290.67,43.30 L290.74,43.00 L290.82,43.08 L290.90,43.25 L290.97,42.97 L291.05,42.58 L291.12,43.50 L291.20,43.16 L291.27,43.55 L291.35,42.48 L291.43,42.68 L291.50,42.65 L291.58,43.14 L291.65,43.80 L291.73,43.63 L291.81,43.52 L291.88,43.52 L291.96,43.73 L292.03,43.30 L292.11,43.64 L292.18,43.51 L292.26,42.85 L292.34,43.47 L292.41,44.01 L292.49,43.53 L292.56,43.75 L292.64,43.53 L292.72,43.55 L292.79,44.30 L292.87,43.74 L292.94,43.49 L293.02,42.76 L293.09,43.72 L293.17,43.34 L293.25,43.46 L293.32,44.38 L293.40,44.30 L293.40,43.39 L294.06,44.66 L294.73,44.87 L295.40,44.64 L296.07,45.69 L296.73,45.18 L297.40,45.62 L298.07,45.86 L298.74,46.17 L299.40,47.08 L300.07,46.66 L300.74,47.21 L301.40,47.64 L302.07,48.25 L302.74,48.50 L303.41,49.07 L304.07,48.87 L304.74,48.91 L305.41,49.42 L306.07,50.10 L306.74,49.94 L307.41,50.65 L308.08,51.49 L308.74,51.13 L309.41,51.69 L310.08,52.37 L310.75,51.89 L311.41,52.25 L312.08,52.33 L312.75,53.10 L313.41,53.66 L314.08,53.77 L314.75,54.09 L315.42,54.60 L316.08,54.90 L316.75,54.52 L317.42,55.18 L318.08,55.60 L318.75,55.82 L319.42,56.13 L320.09,56.17 L320.75,56.73 L321.42,56.37 L322.09,57.43 L322.76,57.35 L323.42,57.95 L324.09,57.70 L324.76,58.30 L325.42,58.37 L326.09,58.85 L326.76,59.79 L327.43,59.56 L328.09,60.11 L328.76,59.96 L329.43,60.70 L330.09,60.66 L330.76,61.21 L331.43,61.47 L332.10,61.93 L332.76,61.99 L333.43,62.35 L334.10,63.09 L334.77,63.26 L335.43,63.53 L336.10,63.80 L336.77,63.88 L337.43,64.47 L338.10,64.58 L338.77,64.65 L339.44,65.35 L340.10,65.75 L340.77,66.02 L341.44,65.97 L342.10,66.19 L342.77,66.44 L343.44,67.05 L344.11,67.80 L344.77,67.37 L345.44,67.67 L346.11,68.32 L346.78,68.51 L347.44,68.61 L348.11,69.54 L348.78,69.71 L349.44,69.81 L350.11,70.04 L350.78,70.24 L351.45,70.85 L352.11,70.97 L352.78,71.26 L353.45,71.15 L354.11,71.63 L354.78,71.93 L355.45,72.67 L356.12,73.26 L356.78,72.96 L357.45,72.78 L358.12,73.20 L358.79,72.88 L359.45,74.19 L360.12,74.91 L360.79,75.22 L361.45,75.37 L362.12,75.63 L362.79,75.30 L363.46,75.88 L364.12,75.56 L364.79,76.23 L365.46,77.61 L366.13,76.42 L366.79,77.75 L367.46,78.03 L368.13,78.19 L368.79,77.84 L369.46,78.30 L370.13,79.08 L370.80,79.62 L371.46,79.40 L372.13,80.54 L372.80,80.78 L373.46,80.88 L374.13,81.26 L374.80,81.45 L375.47,81.67 L376.13,81.27 L376.80,81.67 L377.47,82.09 L378.14,82.30 L378.80,83.53 L379.47,82.86 L380.14,82.99 L380.80,84.49 L381.47,84.28 L382.14,84.33 L382.81,84.41 L383.47,84.63 L384.14,85.55 L384.81,85.80 L385.47,86.26 L386.14,86.51 L386.81,87.07 L387.48,86.79 L388.14,87.11 L388.81,87.78 L389.48,88.03 L390.15,88.26 L390.81,89.38 L391.48,89.02 L392.15,89.25 L392.81,89.16 L393.48,90.30 L394.15,89.50 L394.82,90.62 L395.48,90.18 L396.15,91.37 L396.82,90.30 L397.48,92.35 L398.15,91.80 L398.82,92.30 L399.49,91.73 L400.15,91.82 L400.82,92.89 L401.49,94.54 L402.16,93.85 L402.82,93.43 L403.49,94.03 L404.16,93.96 L404.82,95.08 L405.49,96.14 L406.16,95.55 L406.83,96.73 L407.49,96.09 L408.16,96.98 L408.83,97.18 L409.49,97.73 L410.16,98.15 L410.83,98.07 L411.50,98.08 L412.16,98.06 L412.83,99.07 L413.50,100.41 L414.17,98.78 L414.83,99.86 L415.50,100.96 L416.17,101.73 L416.83,102.73 L417.50,100.56 L418.17,101.43 L418.84,102.78 L419.50,102.32 L420.17,103.00 L420.84,103.44 L421.50,104.28 L422.17,103.52 L422.84,104.06 L423.51,105.37 L424.17,106.10 L424.84,106.00 L425.51,104.61 L426.18,107.11 L426.84,106.95 L427.51,107.28 L428.18,107.76 L428.84,107.71 L429.51,108.01 L430.18,109.33 L430.85,110.24 L431.51,108.07 L432.18,109.15 L432.85,111.63 L433.51,109.91 L434.18,109.65 L434.85,111.70 L435.52,111.34 L436.18,111.92 L436.85,112.16 L437.52,111.33 L438.19,111.23 L438.85,113.46 L439.52,112.78 L440.19,112.92 L440.85,112.97 L441.52,114.59 L442.19,114.51 L442.86,115.14 L443.52,116.58 L444.19,116.88 L444.86,117.88 L445.52,116.96 L446.19,118.34 L446.86,118.43 L447.53,118.77 L448.19,118.64 L448.86,119.27 L449.53,118.79 L450.20,118.70 L450.86,117.82 L451.53,119.12 L452.20,120.54 L452.86,121.65 L453.53,122.31 L454.20,120.82 L454.87,123.18 L455.53,122.16 L456.20,123.66 L456.87,123.95 L457.53,123.13 L458.20,123.58 L458.87,122.00 L459.54,124.10 L460.20,122.38 L460.87,125.00 L461.54,126.09 L462.21,128.12 L462.87,128.15 L463.54,127.76" fill="none" stroke="#2a7e2a" stroke-width="1.10" stroke-linejoin="round"/>
<path d="M277.84,247.10 L277.87,247.10 L277.88,247.10 L277.89,247.10 L277.90,247.10 L277.91,247.10 L277.92,247.10 L277.93,247.10 L277.95,247.10 L277.96,247.10 L277.97,247.10 L277.98,247.10 L277.99,247.10 L278.00,187.41 L278.01,90.42 L278.03,59.24 L278.04,41.49 L278.05,30.03 L278.06,22.52 L278.07,18.05 L278.08,16.40 L278.09,18.46 L278.10,20.30 L278.12,21.84 L278.13,23.12 L278.14,24.18 L278.15,25.05 L278.16,25.76 L278.17,26.34 L278.18,26.82 L278.19,27.21 L278.21,27.53 L278.22,27.79 L278.23,28.01 L278.24,28.20 L278.25,28.35 L278.26,28.48 L278.27,28.60 L278.29,28.69 L278.30,28.78 L278.31,28.86 L278.31,28.86 L278.38,29.21 L278.46,29.44 L278.54,29.61 L278.61,29.74 L278.69,29.84 L278.76,29.93 L278.84,30.01 L278.91,30.07 L278.99,30.13 L279.07,30.17 L279.14,30.22 L279.22,30.26 L279.29,30.30 L279.37,30.34 L279.45,30.38 L279.52,30.41 L279.60,30.45 L279.67,30.48 L279.75,30.52 L279.82,30.55 L279.90,30.58 L279.98,30.62 L280.05,30.65 L280.13,30.68 L280.20,30.71 L280.28,30.75 L280.36,30.78 L280.43,30.81 L280.51,30.85 L280.58,30.88 L280.66,30.91 L280.73,30.94 L280.81,30.98 L280.89,31.01 L280.96,31.04 L281.04,31.07 L281.11,31.11 L281.19,31.14 L281.27,31.17 L281.34,31.21 L281.42,31.24 L281.49,31.27 L281.57,31.30 L281.64,31.34 L281.72,31.37 L281.80,31.40 L281.87,31.43 L281.95,31.47 L282.02,31.50 L282.10,31.53 L282.18,31.56 L282.25,31.60 L282.33,31.63 L282.40,31.66 L282.48,31.70 L282.55,31.73 L282.63,31.76 L282.71,31.79 L282.78,31.83 L282.86,31.86 L282.93,31.89 L283.01,31.92 L283.09,31.96 L283.16,31.99 L283.24,32.02 L283.31,32.05 L283.39,32.09 L283.46,32.12 L283.54,32.15 L283.62,32.19 L283.69,32.22 L283.77,32.25 L283.84,32.28 L283.92,32.32 L283.99,32.35 L284.07,32.38 L284.15,32.41 L284.22,32.45 L284.30,32.48 L284.37,32.51 L284.45,32.55 L284.53,32.58 L284.60,32.61 L284.68,32.64 L284.75,32.68 L284.83,32.71 L284.90,32.74 L284.98,32.77 L285.06,32.81 L285.13,32.84 L285.21,32.87 L285.28,32.90 L285.36,32.94 L285.44,32.97 L285.51,33.00 L285.59,33.04 L285.66,33.07 L285.74,33.10 L285.81,33.13 L285.89,33.17 L285.97,33.20 L286.04,33.23 L286.12,33.26 L286.19,33.30 L286.27,33.33 L286.35,33.36 L286.42,33.39 L286.50,33.43 L286.57,33.46 L286.65,33.49 L286.72,33.53 L286.80,33.56 L286.88,33.59 L286.95,33.62 L287.03,33.66 L287.10,33.69 L287.18,33.72 L287.26,33.75 L287.33,33.79 L287.41,33.82 L287.48,33.85 L287.56,33.89 L287.63,33.92 L287.71,33.95 L287.79,33.98 L287.86,34.02 L287.94,34.05 L288.01,34.08 L288.09,34.11 L288.17,34.15 L288.24,34.18 L288.32,34.21 L288.39,34.24 L288.47,34.28 L288.54,34.31 L288.62,34.34 L288.70,34.38 L288.77,34.41 L288.85,34.44 L288.92,34.47 L289.00,34.51 L289.08,34.54 L289.15,34.57 L289.23,34.60 L289.30,34.64 L289.38,34.67 L289.45,34.70 L289.53,34.73 L289.61,34.77 L289.68,34.80 L289.76,34.83 L289.83,34.87 L289.91,34.90 L289.99,34.93 L290.06,34.96 L290.14,35.00 L290.21,35.03 L290.29,35.06 L290.36,35.09 L290.44,35.13 L290.52,35.16 L290.59,35.19 L290.67,35.22 L290.74,35.26 L290.82,35.29 L290.90,35.32 L290.97,35.36 L291.05,35.39 L291.12,35.42 L291.20,35.45 L291.27,35.49 L291.35,35.52 L291.43,35.55 L291.50,35.58 L291.58,35.62 L291.65,35.65 L291.73,35.68 L291.81,35.72 L291.88,35.75 L291.96,35.78 L292.03,35.81 L292.11,35.85 L292.18,35.88 L292.26,35.91 L292.34,35.94 L292.41,35.98 L292.49,36.01 L292.56,36.04 L292.64,36.07 L292.72,36.11 L292.79,36.14 L292.87,36.17 L292.94,36.21 L293.02,36.24 L293.09,36.27 L293.17,36.30 L293.25,36.34 L293.32,36.37 L293.40,36.40 L293.40,36.40 L294.06,36.69 L294.73,36.98 L295.40,37.26 L296.07,37.55 L296.73,37.84 L297.40,38.13 L298.07,38.41 L298.74,38.70 L299.40,38.99 L300.07,39.28 L300.74,39.56 L301.40,39.85 L302.07,40.14 L302.74,40.43 L303.41,40.71 L304.07,41.00 L304.74,41.29 L305.41,41.58 L306.07,41.87 L306.74,42.15 L307.41,42.44 L308.08,42.73 L308.74,43.02 L309.41,43.30 L310.08,43.59 L310.75,43.88 L311.41,44.17 L312.08,44.45 L312.75,44.74 L313.41,45.03 L314.08,45.32 L314.75,45.60 L315.42,45.89 L316.08,46.18 L316.75,46.47 L317.42,46.75 L318.08,47.04 L318.75,47.33 L319.42,47.62 L320.09,47.90 L320.75,48.19 L321.42,48.48 L322.09,48.77 L322.76,49.05 L323.42,49.34 L324.09,49.63 L324.76,49.92 L325.42,50.20 L326.09,50.49 L326.76,50.78 L327.43,51.07 L328.09,51.35 L328.76,51.64 L329.43,51.93 L330.09,52.22 L330.76,52.50 L331.43,52.79 L332.10,53.08 L332.76,53.37 L333.43,53.65 L334.10,53.94 L334.77,54.23 L335.43,54.52 L336.10,54.81 L336.77,55.09 L337.43,55.38 L338.10,55.67 L338.77,55.96 L339.44,56.24 L340.10,56.53 L340.77,56.82 L341.44,57.11 L342.10,57.39 L342.77,57.68 L343.44,57.97 L344.11,58.26 L344.77,58.54 L345.44,58.83 L346.11,59.12 L346.78,59.41 L347.44,59.69 L348.11,59.98 L348.78,60.27 L349.44,60.56 L350.11,60.84 L350.78,61.13 L351.45,61.42 L352.11,61.71 L352.78,61.99 L353.45,62.28 L354.11,62.57 L354.78,62.86 L355.45,63.14 L356.12,63.43 L356.78,63.72 L357.45,64.01 L358.12,64.29 L358.79,64.58 L359.45,64.87 L360.12,65.16 L360.79,65.44 L361.45,65.73 L362.12,66.02 L362.79,66.31 L363.46,66.60 L364.12,66.88 L364.79,67.17 L365.46,67.46 L366.13,67.75 L366.79,68.03 L367.46,68.32 L368.13,68.61 L368.79,68.90 L369.46,69.18 L370.13,69.47 L370.80,69.76 L371.46,70.05 L372.13,70.33 L372.80,70.62 L373.46,70.91 L374.13,71.20 L374.80,71.48 L375.47,71.77 L376.13,72.06 L376.80,72.35 L377.47,72.63 L378.14,72.92 L378.80,73.21 L379.47,73.50 L380.14,73.78 L380.80,74.07 L381.47,74.36 L382.14,74.65 L382.81,74.93 L383.47,75.22 L384.14,75.51 L384.81,75.80 L385.47,76.08 L386.14,76.37 L386.81,76.66 L387.48,76.95 L388.14,77.23 L388.81,77.52 L389.48,77.81 L390.15,78.10 L390.81,78.39 L391.48,78.67 L392.15,78.96 L392.81,79.25 L393.48,79.54 L394.15,79.82 L394.82,80.11 L395.48,80.40 L396.15,80.69 L396.82,80.97 L397.48,81.26 L398.15,81.55 L398.82,81.84 L399.49,82.12 L400.15,82.41 L400.82,82.70 L401.49,82.99 L402.16,83.27 L402.82,83.56 L403.49,83.85 L404.16,84.14 L404.82,84.42 L405.49,84.71 L406.16,85.00 L406.83,85.29 L407.49,85.57 L408.16,85.86 L408.83,86.15 L409.49,86.44 L410.16,86.72 L410.83,87.01 L411.50,87.30 L412.16,87.59 L412.83,87.87 L413.50,88.16 L414.17,88.45 L414.83,88.74 L415.50,89.02 L416.17,89.31 L416.83,89.60 L417.50,89.89 L418.17,90.18 L418.84,90.46 L419.50,90.75 L420.17,91.04 L420.84,91.33 L421.50,91.61 L422.17,91.90 L422.84,92.19 L423.51,92.48 L424.17,92.76 L424.84,93.05 L425.51,93.34 L426.18,93.63 L426.84,93.91 L427.51,94.20 L428.18,94.49 L428.84,94.78 L429.51,95.06 L430.18,95.35 L430.85,95.64 L431.51,95.93 L432.18,96.21 L432.85,96.50 L433.51,96.79 L434.18,97.08 L434.85,97.36 L435.52,97.65 L436.18,97.94 L436.85,98.23 L437.52,98.51 L438.19,98.80 L438.85,99.09 L439.52,99.38 L440.19,99.66 L440.85,99.95 L441.52,100.24 L442.19,100.53 L442.86,100.81 L443.52,101.10 L444.19,101.39 L444.86,101.68 L445.52,101.97 L446.19,102.25 L446.86,102.54 L447.53,102.83 L448.19,103.12 L448.86,103.40 L449.53,103.69 L450.20,103.98 L450.86,104.27 L451.53,104.55 L452.20,104.84 L452.86,105.13 L453.53,105.42 L454.20,105.70 L454.87,105.99 L455.53,106.28 L456.20,106.57 L456.87,106.85 L457.53,107.14 L458.20,107.43 L458.87,107.72 L459.54,108.00 L460.20,108.29 L460.87,108.58 L461.54,108.87 L462.21,109.15 L462.87,109.44 L463.54,109.73" fill="none" stroke="#ff2020" stroke-width="1.1" stroke-dasharray="3.2,2.6"/>
<path d="M277.84,247.10 L277.87,247.10 L277.88,247.10 L277.89,247.10 L277.90,247.10 L277.91,247.10 L277.92,247.10 L277.93,247.10 L277.95,247.10 L277.96,247.10 L277.97,247.10 L277.98,247.10 L277.99,247.10 L278.00,247.10 L278.01,194.04 L278.03,112.64 L278.04,82.02 L278.05,63.41 L278.06,50.41 L278.07,40.73 L278.08,33.30 L278.09,27.54 L278.10,23.12 L278.12,19.86 L278.13,17.67 L278.14,16.54 L278.15,16.46 L278.16,16.61 L278.17,16.77 L278.18,16.93 L278.19,17.10 L278.21,17.28 L278.22,17.46 L278.23,17.63 L278.24,17.82 L278.25,18.00 L278.26,18.18 L278.27,18.37 L278.29,18.55 L278.30,18.74 L278.31,18.92 L278.31,18.92 L278.38,20.17 L278.46,21.39 L278.54,22.59 L278.61,23.74 L278.69,24.85 L278.76,25.90 L278.84,26.89 L278.91,27.83 L278.99,28.71 L279.07,29.53 L279.14,30.29 L279.22,31.00 L279.29,31.65 L279.37,32.26 L279.45,32.81 L279.52,33.32 L279.60,33.79 L279.67,34.22 L279.75,34.61 L279.82,34.96 L279.90,35.29 L279.98,35.58 L280.05,35.85 L280.13,36.09 L280.20,36.32 L280.28,36.52 L280.36,36.70 L280.43,36.87 L280.51,37.03 L280.58,37.17 L280.66,37.30 L280.73,37.42 L280.81,37.53 L280.89,37.63 L280.96,37.72 L281.04,37.81 L281.11,37.89 L281.19,37.97 L281.27,38.04 L281.34,38.11 L281.42,38.17 L281.49,38.23 L281.57,38.29 L281.64,38.35 L281.72,38.40 L281.80,38.45 L281.87,38.50 L281.95,38.55 L282.02,38.60 L282.10,38.64 L282.18,38.69 L282.25,38.73 L282.33,38.77 L282.40,38.82 L282.48,38.86 L282.55,38.90 L282.63,38.94 L282.71,38.98 L282.78,39.02 L282.86,39.06 L282.93,39.10 L283.01,39.14 L283.09,39.18 L283.16,39.21 L283.24,39.25 L283.31,39.29 L283.39,39.33 L283.46,39.37 L283.54,39.40 L283.62,39.44 L283.69,39.48 L283.77,39.52 L283.84,39.55 L283.92,39.59 L283.99,39.63 L284.07,39.66 L284.15,39.70 L284.22,39.74 L284.30,39.78 L284.37,39.81 L284.45,39.85 L284.53,39.89 L284.60,39.92 L284.68,39.96 L284.75,40.00 L284.83,40.03 L284.90,40.07 L284.98,40.11 L285.06,40.14 L285.13,40.18 L285.21,40.22 L285.28,40.25 L285.36,40.29 L285.44,40.33 L285.51,40.37 L285.59,40.40 L285.66,40.44 L285.74,40.48 L285.81,40.51 L285.89,40.55 L285.97,40.59 L286.04,40.62 L286.12,40.66 L286.19,40.70 L286.27,40.73 L286.35,40.77 L286.42,40.80 L286.50,40.84 L286.57,40.88 L286.65,40.91 L286.72,40.95 L286.80,40.99 L286.88,41.02 L286.95,41.06 L287.03,41.10 L287.10,41.13 L287.18,41.17 L287.26,41.21 L287.33,41.24 L287.41,41.28 L287.48,41.32 L287.56,41.35 L287.63,41.39 L287.71,41.43 L287.79,41.46 L287.86,41.50 L287.94,41.53 L288.01,41.57 L288.09,41.61 L288.17,41.64 L288.24,41.68 L288.32,41.72 L288.39,41.75 L288.47,41.79 L288.54,41.83 L288.62,41.86 L288.70,41.90 L288.77,41.93 L288.85,41.97 L288.92,42.01 L289.00,42.04 L289.08,42.08 L289.15,42.12 L289.23,42.15 L289.30,42.19 L289.38,42.22 L289.45,42.26 L289.53,42.30 L289.61,42.33 L289.68,42.37 L289.76,42.41 L289.83,42.44 L289.91,42.48 L289.99,42.51 L290.06,42.55 L290.14,42.59 L290.21,42.62 L290.29,42.66 L290.36,42.69 L290.44,42.73 L290.52,42.77 L290.59,42.80 L290.67,42.84 L290.74,42.87 L290.82,42.91 L290.90,42.95 L290.97,42.98 L291.05,43.02 L291.12,43.06 L291.20,43.09 L291.27,43.13 L291.35,43.16 L291.43,43.20 L291.50,43.24 L291.58,43.27 L291.65,43.31 L291.73,43.34 L291.81,43.38 L291.88,43.41 L291.96,43.45 L292.03,43.49 L292.11,43.52 L292.18,43.56 L292.26,43.59 L292.34,43.63 L292.41,43.67 L292.49,43.70 L292.56,43.74 L292.64,43.77 L292.72,43.81 L292.79,43.85 L292.87,43.88 L292.94,43.92 L293.02,43.95 L293.09,43.99 L293.17,44.03 L293.25,44.06 L293.32,44.10 L293.40,44.13 L293.40,44.13 L294.06,44.45 L294.73,44.76 L295.40,45.08 L296.07,45.39 L296.73,45.70 L297.40,46.01 L298.07,46.33 L298.74,46.64 L299.40,46.95 L300.07,47.26 L300.74,47.57 L301.40,47.88 L302.07,48.19 L302.74,48.50 L303.41,48.81 L304.07,49.11 L304.74,49.42 L305.41,49.73 L306.07,50.04 L306.74,50.35 L307.41,50.65 L308.08,50.96 L308.74,51.27 L309.41,51.57 L310.08,51.88 L310.75,52.18 L311.41,52.49 L312.08,52.79 L312.75,53.10 L313.41,53.40 L314.08,53.71 L314.75,54.01 L315.42,54.32 L316.08,54.62 L316.75,54.93 L317.42,55.23 L318.08,55.53 L318.75,55.84 L319.42,56.14 L320.09,56.44 L320.75,56.75 L321.42,57.05 L322.09,57.35 L322.76,57.66 L323.42,57.96 L324.09,58.26 L324.76,58.56 L325.42,58.87 L326.09,59.17 L326.76,59.47 L327.43,59.77 L328.09,60.07 L328.76,60.38 L329.43,60.68 L330.09,60.98 L330.76,61.28 L331.43,61.58 L332.10,61.88 L332.76,62.19 L333.43,62.49 L334.10,62.79 L334.77,63.09 L335.43,63.39 L336.10,63.69 L336.77,63.99 L337.43,64.29 L338.10,64.59 L338.77,64.89 L339.44,65.19 L340.10,65.50 L340.77,65.80 L341.44,66.10 L342.10,66.40 L342.77,66.70 L343.44,67.00 L344.11,67.30 L344.77,67.60 L345.44,67.90 L346.11,68.20 L346.78,68.50 L347.44,68.80 L348.11,69.10 L348.78,69.40 L349.44,69.70 L350.11,70.00 L350.78,70.30 L351.45,70.60 L352.11,70.90 L352.78,71.20 L353.45,71.50 L354.11,71.80 L354.78,72.10 L355.45,72.40 L356.12,72.70 L356.78,73.00 L357.45,73.30 L358.12,73.60 L358.79,73.90 L359.45,74.20 L360.12,74.50 L360.79,74.80 L361.45,75.10 L362.12,75.40 L362.79,75.70 L363.46,76.00 L364.12,76.30 L364.79,76.60 L365.46,76.90 L366.13,77.20 L366.79,77.49 L367.46,77.79 L368.13,78.09 L368.79,78.39 L369.46,78.69 L370.13,78.99 L370.80,79.29 L371.46,79.59 L372.13,79.89 L372.80,80.19 L373.46,80.49 L374.13,80.79 L374.80,81.09 L375.47,81.39 L376.13,81.69 L376.80,81.99 L377.47,82.29 L378.14,82.59 L378.80,82.89 L379.47,83.19 L380.14,83.48 L380.80,83.78 L381.47,84.08 L382.14,84.38 L382.81,84.68 L383.47,84.98 L384.14,85.28 L384.81,85.58 L385.47,85.88 L386.14,86.18 L386.81,86.48 L387.48,86.78 L388.14,87.08 L388.81,87.38 L389.48,87.68 L390.15,87.98 L390.81,88.27 L391.48,88.57 L392.15,88.87 L392.81,89.17 L393.48,89.47 L394.15,89.77 L394.82,90.07 L395.48,90.37 L396.15,90.67 L396.82,90.97 L397.48,91.27 L398.15,91.57 L398.82,91.87 L399.49,92.17 L400.15,92.47 L400.82,92.76 L401.49,93.06 L402.16,93.36 L402.82,93.66 L403.49,93.96 L404.16,94.26 L404.82,94.56 L405.49,94.86 L406.16,95.16 L406.83,95.46 L407.49,95.76 L408.16,96.06 L408.83,96.36 L409.49,96.66 L410.16,96.95 L410.83,97.25 L411.50,97.55 L412.16,97.85 L412.83,98.15 L413.50,98.45 L414.17,98.75 L414.83,99.05 L415.50,99.35 L416.17,99.65 L416.83,99.95 L417.50,100.25 L418.17,100.55 L418.84,100.84 L419.50,101.14 L420.17,101.44 L420.84,101.74 L421.50,102.04 L422.17,102.34 L422.84,102.64 L423.51,102.94 L424.17,103.24 L424.84,103.54 L425.51,103.84 L426.18,104.14 L426.84,104.44 L427.51,104.74 L428.18,105.03 L428.84,105.33 L429.51,105.63 L430.18,105.93 L430.85,106.23 L431.51,106.53 L432.18,106.83 L432.85,107.13 L433.51,107.43 L434.18,107.73 L434.85,108.03 L435.52,108.33 L436.18,108.63 L436.85,108.92 L437.52,109.22 L438.19,109.52 L438.85,109.82 L439.52,110.12 L440.19,110.42 L440.85,110.72 L441.52,111.02 L442.19,111.32 L442.86,111.62 L443.52,111.92 L444.19,112.22 L444.86,112.52 L445.52,112.81 L446.19,113.11 L446.86,113.41 L447.53,113.71 L448.19,114.01 L448.86,114.31 L449.53,114.61 L450.20,114.91 L450.86,115.21 L451.53,115.51 L452.20,115.81 L452.86,116.11 L453.53,116.41 L454.20,116.71 L454.87,117.00 L455.53,117.30 L456.20,117.60 L456.87,117.90 L457.53,118.20 L458.20,118.50 L458.87,118.80 L459.54,119.10 L460.20,119.40 L460.87,119.70 L461.54,120.00 L462.21,120.30 L462.87,120.60 L463.54,120.89" fill="none" stroke="#ff2020" stroke-width="1.1" stroke-dasharray="3.2,2.6"/>
</g>
<line x1="268.70" y1="16.35" x2="273.00" y2="16.35" stroke="#1a1a1a" stroke-width="1.00"/>
<line x1="268.70" y1="81.85" x2="273.00" y2="81.85" stroke="#1a1a1a" stroke-width="1.00"/>
<line x1="270.80" y1="62.13" x2="273.00" y2="62.13" stroke="#1a1a1a" stroke-width="1.00"/>
<line x1="270.80" y1="50.60" x2="273.00" y2="50.60" stroke="#1a1a1a" stroke-width="1.00"/>
<line x1="270.80" y1="42.42" x2="273.00" y2="42.42" stroke="#1a1a1a" stroke-width="1.00"/>
<line x1="270.80" y1="36.07" x2="273.00" y2="36.07" stroke="#1a1a1a" stroke-width="1.00"/>
<line x1="270.80" y1="30.88" x2="273.00" y2="30.88" stroke="#1a1a1a" stroke-width="1.00"/>
<line x1="270.80" y1="26.50" x2="273.00" y2="26.50" stroke="#1a1a1a" stroke-width="1.00"/>
<line x1="270.80" y1="22.70" x2="273.00" y2="22.70" stroke="#1a1a1a" stroke-width="1.00"/>
<line x1="270.80" y1="19.35" x2="273.00" y2="19.35" stroke="#1a1a1a" stroke-width="1.00"/>
<line x1="268.70" y1="147.35" x2="273.00" y2="147.35" stroke="#1a1a1a" stroke-width="1.00"/>
<line x1="270.80" y1="127.63" x2="273.00" y2="127.63" stroke="#1a1a1a" stroke-width="1.00"/>
<line x1="270.80" y1="116.10" x2="273.00" y2="116.10" stroke="#1a1a1a" stroke-width="1.00"/>
<line x1="270.80" y1="107.92" x2="273.00" y2="107.92" stroke="#1a1a1a" stroke-width="1.00"/>
<line x1="270.80" y1="101.57" x2="273.00" y2="101.57" stroke="#1a1a1a" stroke-width="1.00"/>
<line x1="270.80" y1="96.38" x2="273.00" y2="96.38" stroke="#1a1a1a" stroke-width="1.00"/>
<line x1="270.80" y1="92.00" x2="273.00" y2="92.00" stroke="#1a1a1a" stroke-width="1.00"/>
<line x1="270.80" y1="88.20" x2="273.00" y2="88.20" stroke="#1a1a1a" stroke-width="1.00"/>
<line x1="270.80" y1="84.85" x2="273.00" y2="84.85" stroke="#1a1a1a" stroke-width="1.00"/>
<line x1="268.70" y1="212.85" x2="273.00" y2="212.85" stroke="#1a1a1a" stroke-width="1.00"/>
<line x1="270.80" y1="193.13" x2="273.00" y2="193.13" stroke="#1a1a1a" stroke-width="1.00"/>
<line x1="270.80" y1="181.60" x2="273.00" y2="181.60" stroke="#1a1a1a" stroke-width="1.00"/>
<line x1="270.80" y1="173.42" x2="273.00" y2="173.42" stroke="#1a1a1a" stroke-width="1.00"/>
<line x1="270.80" y1="167.07" x2="273.00" y2="167.07" stroke="#1a1a1a" stroke-width="1.00"/>
<line x1="270.80" y1="161.88" x2="273.00" y2="161.88" stroke="#1a1a1a" stroke-width="1.00"/>
<line x1="270.80" y1="157.50" x2="273.00" y2="157.50" stroke="#1a1a1a" stroke-width="1.00"/>
<line x1="270.80" y1="153.70" x2="273.00" y2="153.70" stroke="#1a1a1a" stroke-width="1.00"/>
<line x1="270.80" y1="150.35" x2="273.00" y2="150.35" stroke="#1a1a1a" stroke-width="1.00"/>
<line x1="270.80" y1="227.38" x2="273.00" y2="227.38" stroke="#1a1a1a" stroke-width="1.00"/>
<line x1="270.80" y1="223.00" x2="273.00" y2="223.00" stroke="#1a1a1a" stroke-width="1.00"/>
<line x1="270.80" y1="219.20" x2="273.00" y2="219.20" stroke="#1a1a1a" stroke-width="1.00"/>
<line x1="270.80" y1="215.85" x2="273.00" y2="215.85" stroke="#1a1a1a" stroke-width="1.00"/>
<line x1="278.00" y1="231.60" x2="278.00" y2="236.20" stroke="#1a1a1a" stroke-width="1.00"/>
<line x1="288.26" y1="231.60" x2="288.26" y2="234.50" stroke="#1a1a1a" stroke-width="1.00"/>
<line x1="298.53" y1="231.60" x2="298.53" y2="234.50" stroke="#1a1a1a" stroke-width="1.00"/>
<line x1="308.80" y1="231.60" x2="308.80" y2="234.50" stroke="#1a1a1a" stroke-width="1.00"/>
<line x1="319.06" y1="231.60" x2="319.06" y2="234.50" stroke="#1a1a1a" stroke-width="1.00"/>
<line x1="329.32" y1="231.60" x2="329.32" y2="236.20" stroke="#1a1a1a" stroke-width="1.00"/>
<line x1="339.59" y1="231.60" x2="339.59" y2="234.50" stroke="#1a1a1a" stroke-width="1.00"/>
<line x1="349.86" y1="231.60" x2="349.86" y2="234.50" stroke="#1a1a1a" stroke-width="1.00"/>
<line x1="360.12" y1="231.60" x2="360.12" y2="234.50" stroke="#1a1a1a" stroke-width="1.00"/>
<line x1="370.38" y1="231.60" x2="370.38" y2="234.50" stroke="#1a1a1a" stroke-width="1.00"/>
<line x1="380.65" y1="231.60" x2="380.65" y2="236.20" stroke="#1a1a1a" stroke-width="1.00"/>
<line x1="390.92" y1="231.60" x2="390.92" y2="234.50" stroke="#1a1a1a" stroke-width="1.00"/>
<line x1="401.18" y1="231.60" x2="401.18" y2="234.50" stroke="#1a1a1a" stroke-width="1.00"/>
<line x1="411.44" y1="231.60" x2="411.44" y2="234.50" stroke="#1a1a1a" stroke-width="1.00"/>
<line x1="421.71" y1="231.60" x2="421.71" y2="234.50" stroke="#1a1a1a" stroke-width="1.00"/>
<line x1="431.98" y1="231.60" x2="431.98" y2="236.20" stroke="#1a1a1a" stroke-width="1.00"/>
<line x1="442.24" y1="231.60" x2="442.24" y2="234.50" stroke="#1a1a1a" stroke-width="1.00"/>
<line x1="452.50" y1="231.60" x2="452.50" y2="234.50" stroke="#1a1a1a" stroke-width="1.00"/>
<line x1="462.77" y1="231.60" x2="462.77" y2="234.50" stroke="#1a1a1a" stroke-width="1.00"/>
<text x="278.00" y="249" text-anchor="middle" style="font-size:11px">0.0</text>
<text x="329.32" y="249" text-anchor="middle" style="font-size:11px">500</text>
<text x="380.65" y="249" text-anchor="middle" style="font-size:11px">1000</text>
<text x="431.98" y="249" text-anchor="middle" style="font-size:11px">1500</text>
<text x="366.35" y="265" text-anchor="middle" style="font-size:11px">Delay (ps)</text>
<rect x="273.00" y="12.50" width="189.70" height="219.10" fill="none" stroke="#1a1a1a" stroke-width="1.1"/>
<line x1="291.10" y1="28.30" x2="302.90" y2="28.30" stroke="#2020ff" stroke-width="1.30"/>
<line x1="291.10" y1="72.70" x2="302.90" y2="72.70" stroke="#2a7e2a" stroke-width="1.30"/>
<text x="307.20" y="32.00" fill="#2222ff" style="font-size:11px">E</text>
<line x1="321.40" y1="24.40" x2="321.40" y2="31.60" stroke="#2222ff" stroke-width="0.80"/>
<line x1="317.90" y1="31.55" x2="324.90" y2="31.55" stroke="#2222ff" stroke-width="0.80"/>
<text x="328.10" y="32.00" fill="#2222ff" style="font-size:11px">c</text>
<text x="307.20" y="76.40" fill="#207a20" style="font-size:11px">E</text>
<line x1="318.20" y1="65.20" x2="318.20" y2="77.80" stroke="#207a20" stroke-width="0.95"/>
<line x1="321.50" y1="65.20" x2="321.50" y2="77.80" stroke="#207a20" stroke-width="0.95"/>
<text x="324.50" y="76.40" fill="#207a20" style="font-size:11px">c</text>
<text x="409.0" y="32.3" style="font-size:11px">@1.2 eV</text>
<clipPath id="ci350"><rect x="350.10" y="87.50" width="112.40" height="110.10"/></clipPath>
<line x1="350.10" y1="189.70" x2="462.50" y2="189.70" stroke="#888" stroke-width="0.8" stroke-dasharray="2.6,2.4"/>
<g clip-path="url(#ci350)">
<path d="M349.51,189.70 L349.71,189.70 L349.91,189.70 L350.11,189.70 L350.31,189.70 L350.51,189.70 L350.71,189.70 L350.91,189.70 L351.11,189.70 L351.31,189.70 L351.51,189.70 L351.71,189.70 L351.90,189.70 L352.10,189.70 L352.30,189.70 L352.50,189.70 L352.70,189.70 L352.90,189.70 L353.10,189.70 L353.30,189.70 L353.50,189.70 L353.70,189.70 L353.90,189.70 L354.10,189.70 L354.30,189.70 L354.50,189.70 L354.70,189.70 L354.90,189.70 L355.10,189.70 L355.30,189.70 L355.50,188.72 L355.70,181.69 L355.90,169.62 L356.10,154.58 L356.30,138.64 L356.50,123.88 L356.70,112.37 L356.90,106.18 L357.10,109.41 L357.30,114.38 L357.50,118.37 L357.70,121.58 L357.90,124.17 L358.10,126.26 L358.30,127.95 L358.50,129.33 L358.70,130.44 L358.90,131.36 L359.09,132.11 L359.29,132.72 L359.49,133.24 L359.69,133.66 L359.89,134.02 L360.09,134.33 L360.29,134.58 L360.49,134.81 L360.69,135.00 L360.89,135.17 L361.09,135.32 L361.29,135.45 L361.29,135.45 L361.95,135.80 L362.60,136.07 L363.26,136.29 L363.91,136.48 L364.57,136.64 L365.22,136.78 L365.87,136.91 L366.53,137.02 L367.18,137.12 L367.84,137.21 L368.49,137.30 L369.15,137.38 L369.80,137.45 L370.46,137.51 L371.11,137.57 L371.77,137.63 L372.42,137.68 L373.08,137.73 L373.73,137.78 L374.39,137.82 L375.04,137.86 L375.69,137.90 L376.35,137.94 L377.00,137.98 L377.66,138.01 L378.31,138.05 L378.97,138.08 L379.62,138.12 L380.28,138.15 L380.93,138.18 L381.59,138.21 L382.24,138.24 L382.90,138.27 L383.55,138.30 L384.21,138.33 L384.86,138.36 L385.51,138.38 L386.17,138.41 L386.82,138.44 L387.48,138.47 L388.13,138.50 L388.79,138.52 L389.44,138.55 L390.10,138.58 L390.75,138.61 L391.41,138.63 L392.06,138.66 L392.72,138.69 L393.37,138.71 L394.03,138.74 L394.68,138.77 L395.33,138.79 L395.99,138.82 L396.64,138.85 L397.30,138.87 L397.95,138.90 L398.61,138.93 L399.26,138.95 L399.92,138.98 L400.57,139.00 L401.23,139.03 L401.88,139.06 L402.54,139.08 L403.19,139.11 L403.85,139.14 L404.50,139.16 L405.15,139.19 L405.81,139.21 L406.46,139.24 L407.12,139.27 L407.77,139.29 L408.43,139.32 L409.08,139.35 L409.74,139.37 L410.39,139.40 L411.05,139.42 L411.70,139.45 L412.36,139.48 L413.01,139.50 L413.67,139.53 L414.32,139.55 L414.97,139.58 L415.63,139.61 L416.28,139.63 L416.94,139.66 L417.59,139.68 L418.25,139.71 L418.90,139.74 L419.56,139.76 L420.21,139.79 L420.87,139.81 L421.52,139.84 L422.18,139.87 L422.83,139.89 L423.49,139.92 L424.14,139.94 L424.79,139.97 L425.45,139.99 L426.10,140.02 L426.76,140.05 L427.41,140.07 L428.07,140.10 L428.72,140.12 L429.38,140.15 L430.03,140.17 L430.69,140.20 L431.34,140.23 L432.00,140.25 L432.65,140.28 L433.31,140.30 L433.96,140.33 L434.61,140.35 L435.27,140.38 L435.92,140.40 L436.58,140.43 L437.23,140.46 L437.89,140.48 L438.54,140.51 L439.20,140.53 L439.85,140.56 L440.51,140.58 L441.16,140.61 L441.82,140.63 L442.47,140.66 L443.13,140.69 L443.78,140.71 L444.43,140.74 L445.09,140.76 L445.74,140.79 L446.40,140.81 L447.05,140.84 L447.71,140.86 L448.36,140.89 L449.02,140.91 L449.67,140.94 L450.33,140.96 L450.98,140.99 L451.64,141.01 L452.29,141.04 L452.95,141.06 L453.60,141.09 L454.25,141.12 L454.91,141.14 L455.56,141.17 L456.22,141.19 L456.87,141.22 L457.53,141.24 L458.18,141.27 L458.84,141.29 L459.49,141.32 L460.15,141.34 L460.80,141.37 L461.46,141.39 L462.11,141.42 L462.77,141.44 L463.42,141.47 L464.07,141.49 L464.73,141.52 L465.38,141.54" fill="none" stroke="#2020ff" stroke-width="1.1" stroke-linejoin="round"/>
<path d="M349.51,189.70 L349.71,189.70 L349.91,189.70 L350.11,189.70 L350.31,189.70 L350.51,189.70 L350.71,189.70 L350.91,189.70 L351.11,189.70 L351.31,189.70 L351.51,189.70 L351.71,189.70 L351.90,189.70 L352.10,189.70 L352.30,189.70 L352.50,189.70 L352.70,189.70 L352.90,189.70 L353.10,189.70 L353.30,189.70 L353.50,189.70 L353.70,189.70 L353.90,189.70 L354.10,189.70 L354.30,189.70 L354.50,189.70 L354.70,189.70 L354.90,189.70 L355.10,189.70 L355.30,189.70 L355.50,189.70 L355.70,189.30 L355.90,186.43 L356.10,181.20 L356.30,174.10 L356.50,165.62 L356.70,156.23 L356.90,146.42 L357.10,136.67 L357.30,127.46 L357.50,119.29 L357.70,112.62 L357.90,107.95 L358.10,105.75 L358.30,105.90 L358.50,106.30 L358.70,106.73 L358.90,107.18 L359.09,107.63 L359.29,108.09 L359.49,108.56 L359.69,109.02 L359.89,109.50 L360.09,109.97 L360.29,110.44 L360.49,110.91 L360.69,111.38 L360.89,111.85 L361.09,112.31 L361.29,112.78 L361.29,112.78 L361.95,114.28 L362.60,115.76 L363.26,117.19 L363.91,118.59 L364.57,119.95 L365.22,121.26 L365.87,122.53 L366.53,123.75 L367.18,124.93 L367.84,126.07 L368.49,127.16 L369.15,128.21 L369.80,129.22 L370.46,130.19 L371.11,131.12 L371.77,132.01 L372.42,132.86 L373.08,133.68 L373.73,134.46 L374.39,135.21 L375.04,135.93 L375.69,136.61 L376.35,137.27 L377.00,137.89 L377.66,138.49 L378.31,139.06 L378.97,139.61 L379.62,140.13 L380.28,140.63 L380.93,141.10 L381.59,141.56 L382.24,141.99 L382.90,142.40 L383.55,142.80 L384.21,143.17 L384.86,143.53 L385.51,143.87 L386.17,144.20 L386.82,144.51 L387.48,144.80 L388.13,145.08 L388.79,145.35 L389.44,145.61 L390.10,145.85 L390.75,146.09 L391.41,146.31 L392.06,146.52 L392.72,146.73 L393.37,146.92 L394.03,147.10 L394.68,147.28 L395.33,147.45 L395.99,147.61 L396.64,147.76 L397.30,147.91 L397.95,148.05 L398.61,148.18 L399.26,148.31 L399.92,148.43 L400.57,148.55 L401.23,148.66 L401.88,148.77 L402.54,148.87 L403.19,148.97 L403.85,149.07 L404.50,149.16 L405.15,149.24 L405.81,149.33 L406.46,149.41 L407.12,149.48 L407.77,149.56 L408.43,149.63 L409.08,149.70 L409.74,149.76 L410.39,149.83 L411.05,149.89 L411.70,149.95 L412.36,150.01 L413.01,150.06 L413.67,150.12 L414.32,150.17 L414.97,150.22 L415.63,150.27 L416.28,150.31 L416.94,150.36 L417.59,150.40 L418.25,150.45 L418.90,150.49 L419.56,150.53 L420.21,150.57 L420.87,150.61 L421.52,150.65 L422.18,150.69 L422.83,150.72 L423.49,150.76 L424.14,150.79 L424.79,150.83 L425.45,150.86 L426.10,150.89 L426.76,150.93 L427.41,150.96 L428.07,150.99 L428.72,151.02 L429.38,151.05 L430.03,151.08 L430.69,151.11 L431.34,151.14 L432.00,151.17 L432.65,151.19 L433.31,151.22 L433.96,151.25 L434.61,151.28 L435.27,151.30 L435.92,151.33 L436.58,151.36 L437.23,151.38 L437.89,151.41 L438.54,151.44 L439.20,151.46 L439.85,151.49 L440.51,151.51 L441.16,151.54 L441.82,151.56 L442.47,151.59 L443.13,151.61 L443.78,151.64 L444.43,151.66 L445.09,151.68 L445.74,151.71 L446.40,151.73 L447.05,151.76 L447.71,151.78 L448.36,151.80 L449.02,151.83 L449.67,151.85 L450.33,151.87 L450.98,151.90 L451.64,151.92 L452.29,151.94 L452.95,151.97 L453.60,151.99 L454.25,152.01 L454.91,152.03 L455.56,152.06 L456.22,152.08 L456.87,152.10 L457.53,152.13 L458.18,152.15 L458.84,152.17 L459.49,152.19 L460.15,152.22 L460.80,152.24 L461.46,152.26 L462.11,152.28 L462.77,152.30 L463.42,152.33 L464.07,152.35 L464.73,152.37 L465.38,152.39" fill="none" stroke="#2a7e2a" stroke-width="1.1" stroke-linejoin="round"/>
<path d="M349.51,189.70 L349.71,189.70 L349.91,189.70 L350.11,189.70 L350.31,189.70 L350.51,189.70 L350.71,189.70 L350.91,189.70 L351.11,189.70 L351.31,189.70 L351.51,189.70 L351.71,189.70 L351.90,189.70 L352.10,189.70 L352.30,189.70 L352.50,189.70 L352.70,189.70 L352.90,189.70 L353.10,189.70 L353.30,189.70 L353.50,189.70 L353.70,189.70 L353.90,189.70 L354.10,189.70 L354.30,189.70 L354.50,189.70 L354.70,189.70 L354.90,189.70 L355.10,189.70 L355.30,189.70 L355.50,188.72 L355.70,181.69 L355.90,169.62 L356.10,154.58 L356.30,138.64 L356.50,123.88 L356.70,112.37 L356.90,106.18 L357.10,109.41 L357.30,114.38 L357.50,118.37 L357.70,121.58 L357.90,124.17 L358.10,126.26 L358.30,127.95 L358.50,129.33 L358.70,130.44 L358.90,131.36 L359.09,132.11 L359.29,132.72 L359.49,133.24 L359.69,133.66 L359.89,134.02 L360.09,134.33 L360.29,134.58 L360.49,134.81 L360.69,135.00 L360.89,135.17 L361.09,135.32 L361.29,135.45 L361.29,135.45 L361.95,135.80 L362.60,136.07 L363.26,136.29 L363.91,136.48 L364.57,136.64 L365.22,136.78 L365.87,136.91 L366.53,137.02 L367.18,137.12 L367.84,137.21 L368.49,137.30 L369.15,137.38 L369.80,137.45 L370.46,137.51 L371.11,137.57 L371.77,137.63 L372.42,137.68 L373.08,137.73 L373.73,137.78 L374.39,137.82 L375.04,137.86 L375.69,137.90 L376.35,137.94 L377.00,137.98 L377.66,138.01 L378.31,138.05 L378.97,138.08 L379.62,138.12 L380.28,138.15 L380.93,138.18 L381.59,138.21 L382.24,138.24 L382.90,138.27 L383.55,138.30 L384.21,138.33 L384.86,138.36 L385.51,138.38 L386.17,138.41 L386.82,138.44 L387.48,138.47 L388.13,138.50 L388.79,138.52 L389.44,138.55 L390.10,138.58 L390.75,138.61 L391.41,138.63 L392.06,138.66 L392.72,138.69 L393.37,138.71 L394.03,138.74 L394.68,138.77 L395.33,138.79 L395.99,138.82 L396.64,138.85 L397.30,138.87 L397.95,138.90 L398.61,138.93 L399.26,138.95 L399.92,138.98 L400.57,139.00 L401.23,139.03 L401.88,139.06 L402.54,139.08 L403.19,139.11 L403.85,139.14 L404.50,139.16 L405.15,139.19 L405.81,139.21 L406.46,139.24 L407.12,139.27 L407.77,139.29 L408.43,139.32 L409.08,139.35 L409.74,139.37 L410.39,139.40 L411.05,139.42 L411.70,139.45 L412.36,139.48 L413.01,139.50 L413.67,139.53 L414.32,139.55 L414.97,139.58 L415.63,139.61 L416.28,139.63 L416.94,139.66 L417.59,139.68 L418.25,139.71 L418.90,139.74 L419.56,139.76 L420.21,139.79 L420.87,139.81 L421.52,139.84 L422.18,139.87 L422.83,139.89 L423.49,139.92 L424.14,139.94 L424.79,139.97 L425.45,139.99 L426.10,140.02 L426.76,140.05 L427.41,140.07 L428.07,140.10 L428.72,140.12 L429.38,140.15 L430.03,140.17 L430.69,140.20 L431.34,140.23 L432.00,140.25 L432.65,140.28 L433.31,140.30 L433.96,140.33 L434.61,140.35 L435.27,140.38 L435.92,140.40 L436.58,140.43 L437.23,140.46 L437.89,140.48 L438.54,140.51 L439.20,140.53 L439.85,140.56 L440.51,140.58 L441.16,140.61 L441.82,140.63 L442.47,140.66 L443.13,140.69 L443.78,140.71 L444.43,140.74 L445.09,140.76 L445.74,140.79 L446.40,140.81 L447.05,140.84 L447.71,140.86 L448.36,140.89 L449.02,140.91 L449.67,140.94 L450.33,140.96 L450.98,140.99 L451.64,141.01 L452.29,141.04 L452.95,141.06 L453.60,141.09 L454.25,141.12 L454.91,141.14 L455.56,141.17 L456.22,141.19 L456.87,141.22 L457.53,141.24 L458.18,141.27 L458.84,141.29 L459.49,141.32 L460.15,141.34 L460.80,141.37 L461.46,141.39 L462.11,141.42 L462.77,141.44 L463.42,141.47 L464.07,141.49 L464.73,141.52 L465.38,141.54" fill="none" stroke="#ff2020" stroke-width="1.1" stroke-dasharray="3.0,2.6"/>
<path d="M349.51,189.70 L349.71,189.70 L349.91,189.70 L350.11,189.70 L350.31,189.70 L350.51,189.70 L350.71,189.70 L350.91,189.70 L351.11,189.70 L351.31,189.70 L351.51,189.70 L351.71,189.70 L351.90,189.70 L352.10,189.70 L352.30,189.70 L352.50,189.70 L352.70,189.70 L352.90,189.70 L353.10,189.70 L353.30,189.70 L353.50,189.70 L353.70,189.70 L353.90,189.70 L354.10,189.70 L354.30,189.70 L354.50,189.70 L354.70,189.70 L354.90,189.70 L355.10,189.70 L355.30,189.70 L355.50,189.70 L355.70,189.30 L355.90,186.43 L356.10,181.20 L356.30,174.10 L356.50,165.62 L356.70,156.23 L356.90,146.42 L357.10,136.67 L357.30,127.46 L357.50,119.29 L357.70,112.62 L357.90,107.95 L358.10,105.75 L358.30,105.90 L358.50,106.30 L358.70,106.73 L358.90,107.18 L359.09,107.63 L359.29,108.09 L359.49,108.56 L359.69,109.02 L359.89,109.50 L360.09,109.97 L360.29,110.44 L360.49,110.91 L360.69,111.38 L360.89,111.85 L361.09,112.31 L361.29,112.78 L361.29,112.78 L361.95,114.28 L362.60,115.76 L363.26,117.19 L363.91,118.59 L364.57,119.95 L365.22,121.26 L365.87,122.53 L366.53,123.75 L367.18,124.93 L367.84,126.07 L368.49,127.16 L369.15,128.21 L369.80,129.22 L370.46,130.19 L371.11,131.12 L371.77,132.01 L372.42,132.86 L373.08,133.68 L373.73,134.46 L374.39,135.21 L375.04,135.93 L375.69,136.61 L376.35,137.27 L377.00,137.89 L377.66,138.49 L378.31,139.06 L378.97,139.61 L379.62,140.13 L380.28,140.63 L380.93,141.10 L381.59,141.56 L382.24,141.99 L382.90,142.40 L383.55,142.80 L384.21,143.17 L384.86,143.53 L385.51,143.87 L386.17,144.20 L386.82,144.51 L387.48,144.80 L388.13,145.08 L388.79,145.35 L389.44,145.61 L390.10,145.85 L390.75,146.09 L391.41,146.31 L392.06,146.52 L392.72,146.73 L393.37,146.92 L394.03,147.10 L394.68,147.28 L395.33,147.45 L395.99,147.61 L396.64,147.76 L397.30,147.91 L397.95,148.05 L398.61,148.18 L399.26,148.31 L399.92,148.43 L400.57,148.55 L401.23,148.66 L401.88,148.77 L402.54,148.87 L403.19,148.97 L403.85,149.07 L404.50,149.16 L405.15,149.24 L405.81,149.33 L406.46,149.41 L407.12,149.48 L407.77,149.56 L408.43,149.63 L409.08,149.70 L409.74,149.76 L410.39,149.83 L411.05,149.89 L411.70,149.95 L412.36,150.01 L413.01,150.06 L413.67,150.12 L414.32,150.17 L414.97,150.22 L415.63,150.27 L416.28,150.31 L416.94,150.36 L417.59,150.40 L418.25,150.45 L418.90,150.49 L419.56,150.53 L420.21,150.57 L420.87,150.61 L421.52,150.65 L422.18,150.69 L422.83,150.72 L423.49,150.76 L424.14,150.79 L424.79,150.83 L425.45,150.86 L426.10,150.89 L426.76,150.93 L427.41,150.96 L428.07,150.99 L428.72,151.02 L429.38,151.05 L430.03,151.08 L430.69,151.11 L431.34,151.14 L432.00,151.17 L432.65,151.19 L433.31,151.22 L433.96,151.25 L434.61,151.28 L435.27,151.30 L435.92,151.33 L436.58,151.36 L437.23,151.38 L437.89,151.41 L438.54,151.44 L439.20,151.46 L439.85,151.49 L440.51,151.51 L441.16,151.54 L441.82,151.56 L442.47,151.59 L443.13,151.61 L443.78,151.64 L444.43,151.66 L445.09,151.68 L445.74,151.71 L446.40,151.73 L447.05,151.76 L447.71,151.78 L448.36,151.80 L449.02,151.83 L449.67,151.85 L450.33,151.87 L450.98,151.90 L451.64,151.92 L452.29,151.94 L452.95,151.97 L453.60,151.99 L454.25,152.01 L454.91,152.03 L455.56,152.06 L456.22,152.08 L456.87,152.10 L457.53,152.13 L458.18,152.15 L458.84,152.17 L459.49,152.19 L460.15,152.22 L460.80,152.24 L461.46,152.26 L462.11,152.28 L462.77,152.30 L463.42,152.33 L464.07,152.35 L464.73,152.37 L465.38,152.39" fill="none" stroke="#ff2020" stroke-width="1.1" stroke-dasharray="3.0,2.6"/>
</g>
<line x1="350.10" y1="93.50" x2="350.10" y2="197.60" stroke="#1a1a1a" stroke-width="1.10"/>
<line x1="350.10" y1="197.60" x2="462.50" y2="197.60" stroke="#1a1a1a" stroke-width="1.10"/>
<line x1="347.30" y1="189.70" x2="350.10" y2="189.70" stroke="#1a1a1a" stroke-width="0.90"/>
<line x1="348.10" y1="181.28" x2="350.10" y2="181.28" stroke="#1a1a1a" stroke-width="0.90"/>
<line x1="348.10" y1="172.86" x2="350.10" y2="172.86" stroke="#1a1a1a" stroke-width="0.90"/>
<line x1="348.10" y1="164.44" x2="350.10" y2="164.44" stroke="#1a1a1a" stroke-width="0.90"/>
<line x1="348.10" y1="156.02" x2="350.10" y2="156.02" stroke="#1a1a1a" stroke-width="0.90"/>
<line x1="347.30" y1="147.60" x2="350.10" y2="147.60" stroke="#1a1a1a" stroke-width="0.90"/>
<line x1="348.10" y1="139.18" x2="350.10" y2="139.18" stroke="#1a1a1a" stroke-width="0.90"/>
<line x1="348.10" y1="130.76" x2="350.10" y2="130.76" stroke="#1a1a1a" stroke-width="0.90"/>
<line x1="348.10" y1="122.34" x2="350.10" y2="122.34" stroke="#1a1a1a" stroke-width="0.90"/>
<line x1="348.10" y1="113.92" x2="350.10" y2="113.92" stroke="#1a1a1a" stroke-width="0.90"/>
<line x1="347.30" y1="105.50" x2="350.10" y2="105.50" stroke="#1a1a1a" stroke-width="0.90"/>
<text x="342.50" y="193.30" text-anchor="end" style="font-size:10px">0.0</text>
<text x="342.50" y="151.20" text-anchor="end" style="font-size:10px">0.5</text>
<text x="342.50" y="109.10" text-anchor="end" style="font-size:10px">1.0</text>
<line x1="355.40" y1="197.60" x2="355.40" y2="194.20" stroke="#1a1a1a" stroke-width="0.90"/>
<line x1="375.04" y1="197.60" x2="375.04" y2="194.20" stroke="#1a1a1a" stroke-width="0.90"/>
<line x1="394.68" y1="197.60" x2="394.68" y2="194.20" stroke="#1a1a1a" stroke-width="0.90"/>
<line x1="414.32" y1="197.60" x2="414.32" y2="194.20" stroke="#1a1a1a" stroke-width="0.90"/>
<line x1="433.96" y1="197.60" x2="433.96" y2="194.20" stroke="#1a1a1a" stroke-width="0.90"/>
<line x1="453.60" y1="197.60" x2="453.60" y2="194.20" stroke="#1a1a1a" stroke-width="0.90"/>
<text x="355.40" y="209.60" text-anchor="middle" style="font-size:10px">0</text>
<text x="453.60" y="209.60" text-anchor="middle" style="font-size:10px">50</text>
<text x="406.30" y="222.60" text-anchor="middle" style="font-size:11px">Delay (ps)</text>
<text transform="translate(316.8,145.2) rotate(-90)" text-anchor="middle" style="font-size:11px">ΔR/R<tspan dy="2.6" style="font-size:7.7px">0</tspan></text>
<line x1="362.50" y1="124.20" x2="390.50" y2="124.20" stroke="#222" stroke-width="1.00"/>
<path d="M359.6,124.2 L364.6,121.6 L363.2,124.2 L364.6,126.8 Z" fill="#222"/>
<text x="392.3" y="125.9" style="font-size:11.5px">t<tspan dy="3.0" style="font-size:8.4px;font-style:italic">iv</tspan></text>
<defs><clipPath id="cc"><rect x="507.10" y="12.70" width="175.10" height="219.00"/></clipPath><radialGradient id="glow" cx="0.5" cy="0.5" r="0.5"><stop offset="0" stop-color="#ff7a1a" stop-opacity="0.95"/><stop offset="0.55" stop-color="#ffa050" stop-opacity="0.55"/><stop offset="1" stop-color="#ffc080" stop-opacity="0"/></radialGradient><linearGradient id="og" x1="0" y1="0" x2="0" y2="1"><stop offset="0" stop-color="#ffb27a" stop-opacity="0"/><stop offset="1" stop-color="#ff9a50" stop-opacity="0.95"/></linearGradient><linearGradient id="yg" x1="0" y1="0" x2="0" y2="1"><stop offset="0" stop-color="#ffcc33" stop-opacity="0.9"/><stop offset="1" stop-color="#fff3c0" stop-opacity="0"/></linearGradient><marker id="ahG" viewBox="0 0 10 10" refX="9" refY="5" markerWidth="3.2" markerHeight="3.2" orient="auto-start-reverse" markerUnits="strokeWidth"><path d="M0,0 L10,5 L0,10 L3,5 Z" fill="#22a24a"/></marker></defs>
<g clip-path="url(#cc)">
<path d="M595.60,232.00 C596.33,229.17 598.68,219.67 600.00,215.00 C601.32,210.33 602.58,206.67 603.50,204.00 C604.42,201.33 604.83,200.57 605.50,199.00 C606.17,197.43 606.83,195.83 607.50,194.60 C608.17,193.37 608.83,192.32 609.50,191.60 C610.17,190.88 610.75,190.58 611.50,190.30 C612.25,190.02 613.08,190.02 614.00,189.90 C614.92,189.78 615.92,189.78 617.00,189.60 C618.08,189.42 619.28,189.17 620.50,188.80 C621.72,188.43 623.05,187.98 624.30,187.40 C625.55,186.82 626.62,186.22 628.00,185.30 C629.38,184.38 630.67,183.45 632.60,181.90 C634.53,180.35 637.25,178.15 639.60,176.00 C641.95,173.85 644.63,171.30 646.70,169.00 C648.77,166.70 650.37,164.28 652.00,162.20 C653.63,160.12 655.25,157.83 656.50,156.50 C657.75,155.17 658.53,154.62 659.50,154.20 C660.47,153.78 661.50,153.60 662.30,154.00 C663.10,154.40 663.53,155.03 664.30,156.60 C665.07,158.17 665.95,160.00 666.90,163.40 C667.85,166.80 668.88,171.57 670.00,177.00 C671.12,182.43 672.43,189.83 673.60,196.00 C674.77,202.17 675.83,208.00 677.00,214.00 C678.17,220.00 679.93,229.00 680.60,232.00 C681.27,235.00 680.93,232.00 681.00,232.00 L595.6,232 Z" fill="#fffce5"/>
<linearGradient id="ugf1" gradientUnits="userSpaceOnUse" x1="0" y1="68.50" x2="0" y2="75.40"><stop offset="0" stop-color="#ffc8a0" stop-opacity="0"/><stop offset="0.45" stop-color="#ffb070" stop-opacity="0.35"/><stop offset="1" stop-color="#ff7a1a" stop-opacity="1.00"/></linearGradient>
<clipPath id="ugf1c"><rect x="0" y="68.50" width="685" height="8.90"/></clipPath>
<path d="M517.40,50.00 C518.20,53.33 520.93,66.03 522.20,70.00 C523.47,73.97 523.92,72.90 525.00,73.80 C526.08,74.70 527.57,75.40 528.70,75.40 C529.83,75.40 530.98,74.70 531.80,73.80 C532.62,72.90 532.47,73.97 533.60,70.00 C534.73,66.03 537.77,53.33 538.60,50.00 Z" fill="url(#ugf1)" clip-path="url(#ugf1c)"/>
<linearGradient id="ugf2" gradientUnits="userSpaceOnUse" x1="0" y1="92.50" x2="0" y2="99.60"><stop offset="0" stop-color="#ffc8a0" stop-opacity="0"/><stop offset="0.45" stop-color="#ffb070" stop-opacity="0.35"/><stop offset="1" stop-color="#ff7a1a" stop-opacity="1.00"/></linearGradient>
<clipPath id="ugf2c"><rect x="0" y="92.50" width="685" height="9.10"/></clipPath>
<path d="M514.00,50.00 C514.63,53.33 516.80,65.00 517.80,70.00 C518.80,75.00 519.20,76.67 520.00,80.00 C520.80,83.33 521.68,87.28 522.60,90.00 C523.52,92.72 524.45,94.72 525.50,96.30 C526.55,97.88 527.77,99.50 528.90,99.50 C530.03,99.50 531.30,97.88 532.30,96.30 C533.30,94.72 534.03,92.72 534.90,90.00 C535.77,87.28 536.65,83.33 537.50,80.00 C538.35,76.67 539.00,73.33 540.00,70.00 C541.00,66.67 542.43,63.33 543.50,60.00 C544.57,56.67 545.92,51.67 546.40,50.00 Z" fill="url(#ugf2)" clip-path="url(#ugf2c)"/>
<linearGradient id="ugf3" gradientUnits="userSpaceOnUse" x1="0" y1="103.00" x2="0" y2="110.00"><stop offset="0" stop-color="#ffc8a0" stop-opacity="0"/><stop offset="0.45" stop-color="#ffb070" stop-opacity="0.35"/><stop offset="1" stop-color="#ff7010" stop-opacity="1.00"/></linearGradient>
<clipPath id="ugf3c"><rect x="0" y="103.00" width="685" height="9.00"/></clipPath>
<path d="M515.00,97.60 C515.92,98.10 519.08,99.45 520.50,100.60 C521.92,101.75 522.60,103.22 523.50,104.50 C524.40,105.78 525.12,107.52 525.90,108.30 C526.68,109.08 527.33,108.92 528.20,109.20 C529.07,109.48 530.05,110.00 531.10,110.00 C532.15,110.00 533.27,109.82 534.50,109.20 C535.73,108.58 537.20,107.43 538.50,106.30 C539.80,105.17 541.12,104.03 542.30,102.40 C543.48,100.77 545.05,97.48 545.60,96.50 Z" fill="url(#ugf3)" clip-path="url(#ugf3c)"/>
<linearGradient id="ugf4" gradientUnits="userSpaceOnUse" x1="0" y1="18.50" x2="0" y2="30.60"><stop offset="0" stop-color="#ffc8a0" stop-opacity="0"/><stop offset="0.45" stop-color="#ffb070" stop-opacity="0.35"/><stop offset="1" stop-color="#ff8a3a" stop-opacity="0.95"/></linearGradient>
<clipPath id="ugf4c"><rect x="0" y="18.50" width="685" height="14.10"/></clipPath>
<path d="M640.90,12.70 C641.25,13.42 642.20,15.67 643.00,17.00 C643.80,18.33 644.62,19.43 645.70,20.70 C646.78,21.97 648.20,23.47 649.50,24.60 C650.80,25.73 652.25,26.67 653.50,27.50 C654.75,28.33 655.87,29.12 657.00,29.60 C658.13,30.08 659.30,30.53 660.30,30.40 C661.30,30.27 662.20,29.62 663.00,28.80 C663.80,27.98 664.47,26.72 665.10,25.50 C665.73,24.28 666.32,22.78 666.80,21.50 C667.28,20.22 667.55,19.27 668.00,17.80 C668.45,16.33 669.25,13.55 669.50,12.70 Z" fill="url(#ugf4)" clip-path="url(#ugf4c)"/>
<linearGradient id="ugf5" gradientUnits="userSpaceOnUse" x1="0" y1="104.50" x2="0" y2="121.00"><stop offset="0" stop-color="#ffc8a0" stop-opacity="0"/><stop offset="0.45" stop-color="#ffb070" stop-opacity="0.35"/><stop offset="1" stop-color="#ff8a3a" stop-opacity="0.95"/></linearGradient>
<clipPath id="ugf5c"><rect x="0" y="104.50" width="685" height="18.50"/></clipPath>
<path d="M646.00,91.00 C646.75,93.00 649.17,99.25 650.50,103.00 C651.83,106.75 653.00,110.92 654.00,113.50 C655.00,116.08 655.67,117.28 656.50,118.50 C657.33,119.72 658.17,120.80 659.00,120.80 C659.83,120.80 660.73,119.55 661.50,118.50 C662.27,117.45 662.80,116.62 663.60,114.50 C664.40,112.38 665.45,108.98 666.30,105.80 C667.15,102.62 668.30,97.13 668.70,95.40 Z" fill="url(#ugf5)" clip-path="url(#ugf5c)"/>
<linearGradient id="lpg" gradientUnits="userSpaceOnUse" x1="612" y1="74" x2="624" y2="66"><stop offset="0" stop-color="#ff8a30" stop-opacity="0.95"/><stop offset="1" stop-color="#ffc9a0" stop-opacity="0.6"/></linearGradient>
<path d="M608.6,67.4 C613,68.6 620,70 627,71.4 L621.5,73.0 L614.3,74.2 L610.7,73.2 Z" fill="url(#lpg)"/>
<path d="M608.5,193 L611,190.8 L616.5,190.4 L624,188.2 L621,193 L614,195.5 L610,195.5 Z" fill="#ffd04a" opacity="0.85"/>
<linearGradient id="hyg" gradientUnits="userSpaceOnUse" x1="0" y1="154" x2="0" y2="178"><stop offset="0" stop-color="#ffcf2a" stop-opacity="1"/><stop offset="0.35" stop-color="#ffe070" stop-opacity="0.7"/><stop offset="1" stop-color="#fff3c0" stop-opacity="0"/></linearGradient>
<path d="M655,166 L656.5,156.5 L659.5,154.2 L662.3,154.0 L664.3,156.6 L666.9,163.4 L669.5,175 L669,180 L655,180 Z" fill="url(#hyg)"/>
<path d="M655,192 L658,189 L660.1,188.2 L662.5,189.5 L665,193 L660,194 Z" fill="#ffb04a" opacity="0.8"/>
<path d="M509.20,8.00 C509.28,8.78 509.18,9.03 509.70,12.70 C510.22,16.37 511.02,23.78 512.30,30.00 C513.58,36.22 515.75,43.33 517.40,50.00 C519.05,56.67 520.93,66.03 522.20,70.00 C523.47,73.97 523.92,72.90 525.00,73.80 C526.08,74.70 527.57,75.40 528.70,75.40 C529.83,75.40 530.98,74.70 531.80,73.80 C532.62,72.90 532.47,73.97 533.60,70.00 C534.73,66.03 537.08,56.67 538.60,50.00 C540.12,43.33 541.70,35.00 542.70,30.00 C543.70,25.00 544.05,23.50 544.60,20.00 C545.15,16.50 545.77,10.83 546.00,9.00" fill="none" stroke="#2525ff" stroke-width="1.05" stroke-linejoin="round" stroke-linecap="round" />
<path d="M510.40,8.00 C510.48,8.78 510.38,9.03 510.90,12.70 C511.42,16.37 512.17,23.78 513.50,30.00 C514.83,36.22 517.28,43.33 518.90,50.00 C520.52,56.67 522.08,66.13 523.20,70.00 C524.32,73.87 524.70,72.47 525.60,73.20 C526.50,73.93 527.62,74.40 528.60,74.40 C529.58,74.40 530.78,73.93 531.50,73.20 C532.22,72.47 531.67,73.87 532.90,70.00 C534.13,66.13 537.18,56.67 538.90,50.00 C540.62,43.33 542.17,35.00 543.20,30.00 C544.23,25.00 544.57,23.50 545.10,20.00 C545.63,16.50 546.18,10.83 546.40,9.00" fill="none" stroke="#ff1f1f" stroke-width="1.05" stroke-linejoin="round" stroke-linecap="round" />
<path d="M505.60,8.00 C505.83,8.78 506.37,9.03 507.00,12.70 C507.63,16.37 508.57,25.45 509.40,30.00 C510.23,34.55 511.23,36.67 512.00,40.00 C512.77,43.33 513.03,45.00 514.00,50.00 C514.97,55.00 516.80,65.00 517.80,70.00 C518.80,75.00 519.20,76.67 520.00,80.00 C520.80,83.33 521.68,87.28 522.60,90.00 C523.52,92.72 524.45,94.72 525.50,96.30 C526.55,97.88 527.77,99.50 528.90,99.50 C530.03,99.50 531.30,97.88 532.30,96.30 C533.30,94.72 534.03,92.72 534.90,90.00 C535.77,87.28 536.65,83.33 537.50,80.00 C538.35,76.67 539.00,73.33 540.00,70.00 C541.00,66.67 542.43,63.33 543.50,60.00 C544.57,56.67 545.45,53.33 546.40,50.00 C547.35,46.67 548.27,43.33 549.20,40.00 C550.13,36.67 551.10,33.33 552.00,30.00 C552.90,26.67 553.85,22.88 554.60,20.00 C555.35,17.12 556.02,14.70 556.50,12.70 C556.98,10.70 557.33,8.78 557.50,8.00" fill="none" stroke="#ff1f1f" stroke-width="1.05" stroke-linejoin="round" stroke-linecap="round" />
<path d="M554.50,8.00 C554.33,8.78 553.97,10.70 553.50,12.70 C553.03,14.70 552.48,17.12 551.70,20.00 C550.92,22.88 549.68,26.67 548.80,30.00 C547.92,33.33 547.23,36.67 546.40,40.00 C545.57,43.33 544.77,46.67 543.80,50.00 C542.83,53.33 541.43,57.00 540.60,60.00 C539.77,63.00 539.27,65.67 538.80,68.00 C538.33,70.33 537.97,73.00 537.80,74.00" fill="none" stroke="#2525ff" stroke-width="1.05" stroke-linejoin="round" stroke-linecap="round" />
<path d="M505.00,101.40 C505.83,101.70 508.33,102.55 510.00,103.20 C511.67,103.85 513.33,104.57 515.00,105.30 C516.67,106.03 518.58,106.98 520.00,107.60 C521.42,108.22 522.52,108.67 523.50,109.00 C524.48,109.33 524.98,109.72 525.90,109.60 C526.82,109.48 527.98,109.07 529.00,108.30 C530.02,107.53 531.02,106.23 532.00,105.00 C532.98,103.77 533.82,102.53 534.90,100.90 C535.98,99.27 537.15,97.35 538.50,95.20 C539.85,93.05 541.50,90.53 543.00,88.00 C544.50,85.47 546.08,83.00 547.50,80.00 C548.92,77.00 550.17,73.33 551.50,70.00 C552.83,66.67 554.20,63.33 555.50,60.00 C556.80,56.67 558.07,53.33 559.30,50.00 C560.53,46.67 561.68,43.33 562.90,40.00 C564.12,36.67 565.33,33.33 566.60,30.00 C567.87,26.67 569.37,22.88 570.50,20.00 C571.63,17.12 572.65,14.70 573.40,12.70 C574.15,10.70 574.73,8.78 575.00,8.00" fill="none" stroke="#2525ff" stroke-width="1.05" stroke-linejoin="round" stroke-linecap="round" />
<path d="M591.00,8.00 C591.27,8.78 591.85,10.70 592.60,12.70 C593.35,14.70 594.70,17.12 595.50,20.00 C596.30,22.88 596.78,26.67 597.40,30.00 C598.02,33.33 598.52,36.67 599.20,40.00 C599.88,43.33 600.45,46.23 601.50,50.00 C602.55,53.77 604.48,59.48 605.50,62.60 C606.52,65.72 606.73,66.97 607.60,68.70 C608.47,70.43 609.58,72.07 610.70,73.00 C611.82,73.93 612.50,74.18 614.30,74.30 C616.10,74.42 619.55,73.98 621.50,73.70 C623.45,73.42 624.67,72.85 626.00,72.60 C627.33,72.35 628.33,72.17 629.50,72.20 C630.67,72.23 631.92,72.47 633.00,72.80 C634.08,73.13 634.83,73.35 636.00,74.20 C637.17,75.05 638.75,76.27 640.00,77.90 C641.25,79.53 642.42,81.82 643.50,84.00 C644.58,86.18 645.33,87.83 646.50,91.00 C647.67,94.17 649.25,99.25 650.50,103.00 C651.75,106.75 653.00,110.92 654.00,113.50 C655.00,116.08 655.67,117.28 656.50,118.50 C657.33,119.72 658.17,120.80 659.00,120.80 C659.83,120.80 660.73,119.55 661.50,118.50 C662.27,117.45 662.80,116.62 663.60,114.50 C664.40,112.38 665.45,108.98 666.30,105.80 C667.15,102.62 667.87,99.37 668.70,95.40 C669.53,91.43 670.48,86.90 671.30,82.00 C672.12,77.10 672.93,71.00 673.60,66.00 C674.27,61.00 674.73,56.67 675.30,52.00 C675.87,47.33 676.42,42.50 677.00,38.00 C677.58,33.50 678.22,29.22 678.80,25.00 C679.38,20.78 680.10,15.53 680.50,12.70 C680.90,9.87 681.08,8.78 681.20,8.00" fill="none" stroke="#2525ff" stroke-width="1.05" stroke-linejoin="round" stroke-linecap="round" />
<path d="M505.00,94.50 C505.83,94.78 508.50,95.68 510.00,96.20 C511.50,96.72 512.75,97.17 514.00,97.60 C515.25,98.03 516.42,98.30 517.50,98.80 C518.58,99.30 519.58,99.83 520.50,100.60 C521.42,101.37 522.17,102.40 523.00,103.40 C523.83,104.40 524.63,105.67 525.50,106.60 C526.37,107.53 527.27,108.43 528.20,109.00 C529.13,109.57 530.05,109.97 531.10,110.00 C532.15,110.03 533.27,109.82 534.50,109.20 C535.73,108.58 537.20,107.43 538.50,106.30 C539.80,105.17 541.12,104.03 542.30,102.40 C543.48,100.77 544.52,98.57 545.60,96.50 C546.68,94.43 547.60,92.67 548.80,90.00 C550.00,87.33 551.47,83.83 552.80,80.50 C554.13,77.17 555.47,73.42 556.80,70.00 C558.13,66.58 559.45,63.33 560.80,60.00 C562.15,56.67 563.50,53.33 564.90,50.00 C566.30,46.67 567.77,43.33 569.20,40.00 C570.63,36.67 572.03,33.08 573.50,30.00 C574.97,26.92 576.58,23.80 578.00,21.50 C579.42,19.20 580.65,17.45 582.00,16.20 C583.35,14.95 584.77,14.00 586.10,14.00 C587.43,14.00 588.92,15.12 590.00,16.20 C591.08,17.28 591.77,18.37 592.60,20.50 C593.43,22.63 594.17,26.08 595.00,29.00 C595.83,31.92 596.63,34.67 597.60,38.00 C598.57,41.33 599.77,45.67 600.80,49.00 C601.83,52.33 603.00,55.67 603.80,58.00 C604.60,60.33 604.97,61.18 605.60,63.00 C606.23,64.82 606.75,67.17 607.60,68.90 C608.45,70.63 609.58,72.38 610.70,73.40 C611.82,74.42 612.50,74.68 614.30,75.00 C616.10,75.32 619.42,75.23 621.50,75.30 C623.58,75.37 625.02,75.15 626.80,75.40 C628.58,75.65 630.70,76.27 632.20,76.80 C633.70,77.33 634.50,77.82 635.80,78.60 C637.10,79.38 638.55,79.60 640.00,81.50 C641.45,83.40 643.10,86.67 644.50,90.00 C645.90,93.33 647.15,98.08 648.40,101.50 C649.65,104.92 650.90,107.83 652.00,110.50 C653.10,113.17 654.00,115.65 655.00,117.50 C656.00,119.35 657.00,121.12 658.00,121.60 C659.00,122.08 660.08,121.25 661.00,120.40 C661.92,119.55 662.75,118.57 663.50,116.50 C664.25,114.43 665.02,111.08 665.50,108.00 C665.98,104.92 666.23,101.83 666.40,98.00 C666.57,94.17 666.48,89.67 666.50,85.00 C666.52,80.33 666.50,72.50 666.50,70.00" fill="none" stroke="#ff1f1f" stroke-width="1.05" stroke-linejoin="round" stroke-linecap="round" />
<path d="M640.30,8.00 C640.40,8.78 640.45,11.20 640.90,12.70 C641.35,14.20 642.20,15.67 643.00,17.00 C643.80,18.33 644.62,19.43 645.70,20.70 C646.78,21.97 648.20,23.47 649.50,24.60 C650.80,25.73 652.25,26.67 653.50,27.50 C654.75,28.33 655.87,29.12 657.00,29.60 C658.13,30.08 659.30,30.53 660.30,30.40 C661.30,30.27 662.20,29.62 663.00,28.80 C663.80,27.98 664.47,26.72 665.10,25.50 C665.73,24.28 666.32,22.78 666.80,21.50 C667.28,20.22 667.55,19.27 668.00,17.80 C668.45,16.33 669.12,14.33 669.50,12.70 C669.88,11.07 670.17,8.78 670.30,8.00" fill="none" stroke="#2525ff" stroke-width="1.05" stroke-linejoin="round" stroke-linecap="round" />
<path d="M648.60,22.70 C648.77,22.77 648.53,22.83 649.60,23.10 C650.67,23.37 653.38,24.13 655.00,24.30 C656.62,24.47 658.17,24.43 659.30,24.10 C660.43,23.77 661.15,23.03 661.80,22.30 C662.45,21.57 662.80,20.83 663.20,19.70 C663.60,18.57 663.97,16.67 664.20,15.50 C664.43,14.33 664.48,13.95 664.60,12.70 C664.72,11.45 664.85,8.78 664.90,8.00" fill="none" stroke="#ff1f1f" stroke-width="1.05" stroke-linejoin="round" stroke-linecap="round" />
<path d="M595.60,232.00 C596.33,229.17 598.68,219.67 600.00,215.00 C601.32,210.33 602.58,206.67 603.50,204.00 C604.42,201.33 604.83,200.57 605.50,199.00 C606.17,197.43 606.83,195.83 607.50,194.60 C608.17,193.37 608.83,192.32 609.50,191.60 C610.17,190.88 610.75,190.58 611.50,190.30 C612.25,190.02 613.08,190.02 614.00,189.90 C614.92,189.78 615.92,189.78 617.00,189.60 C618.08,189.42 619.28,189.17 620.50,188.80 C621.72,188.43 623.05,187.98 624.30,187.40 C625.55,186.82 626.62,186.22 628.00,185.30 C629.38,184.38 630.67,183.45 632.60,181.90 C634.53,180.35 637.25,178.15 639.60,176.00 C641.95,173.85 644.63,171.30 646.70,169.00 C648.77,166.70 650.37,164.28 652.00,162.20 C653.63,160.12 655.25,157.83 656.50,156.50 C657.75,155.17 658.53,154.62 659.50,154.20 C660.47,153.78 661.50,153.60 662.30,154.00 C663.10,154.40 663.53,155.03 664.30,156.60 C665.07,158.17 665.95,160.00 666.90,163.40 C667.85,166.80 668.88,171.57 670.00,177.00 C671.12,182.43 672.43,189.83 673.60,196.00 C674.77,202.17 675.83,208.00 677.00,214.00 C678.17,220.00 679.93,228.33 680.60,232.00 C681.27,235.67 680.93,235.33 681.00,236.00" fill="none" stroke="#ff1f1f" stroke-width="1.05" stroke-linejoin="round" stroke-linecap="round" />
<path d="M596.60,232.00 C597.25,229.17 599.27,219.58 600.50,215.00 C601.73,210.42 603.08,207.03 604.00,204.50 C604.92,201.97 605.33,201.25 606.00,199.80 C606.67,198.35 607.33,196.95 608.00,195.80 C608.67,194.65 609.33,193.58 610.00,192.90 C610.67,192.22 610.92,191.97 612.00,191.70 C613.08,191.43 615.08,191.50 616.50,191.30 C617.92,191.10 619.20,190.87 620.50,190.50 C621.80,190.13 623.05,189.58 624.30,189.10 C625.55,188.62 626.62,188.18 628.00,187.60 C629.38,187.02 630.67,186.60 632.60,185.60 C634.53,184.60 637.53,182.98 639.60,181.60 C641.67,180.22 643.22,178.68 645.00,177.30 C646.78,175.92 648.63,174.52 650.30,173.30 C651.97,172.08 653.50,171.02 655.00,170.00 C656.50,168.98 658.22,167.60 659.30,167.20 C660.38,166.80 660.83,166.80 661.50,167.60 C662.17,168.40 662.68,169.27 663.30,172.00 C663.92,174.73 664.47,179.67 665.20,184.00 C665.93,188.33 666.87,193.50 667.70,198.00 C668.53,202.50 669.32,206.67 670.20,211.00 C671.08,215.33 672.23,220.50 673.00,224.00 C673.77,227.50 674.43,230.00 674.80,232.00 C675.17,234.00 675.13,235.33 675.20,236.00" fill="none" stroke="#2525ff" stroke-width="1.05" stroke-linejoin="round" stroke-linecap="round" />
<path d="M647.00,236.00 C647.23,235.17 647.73,234.00 648.40,231.00 C649.07,228.00 650.15,222.33 651.00,218.00 C651.85,213.67 652.67,208.83 653.50,205.00 C654.33,201.17 655.25,197.50 656.00,195.00 C656.75,192.50 657.32,191.07 658.00,190.00 C658.68,188.93 659.37,188.60 660.10,188.60 C660.83,188.60 661.58,188.77 662.40,190.00 C663.22,191.23 664.10,193.17 665.00,196.00 C665.90,198.83 666.87,203.17 667.80,207.00 C668.73,210.83 669.67,215.00 670.60,219.00 C671.53,223.00 672.80,228.17 673.40,231.00 C674.00,233.83 674.07,235.17 674.20,236.00" fill="none" stroke="#ff1f1f" stroke-width="1.05" stroke-linejoin="round" stroke-linecap="round" />
<path d="M649.00,236.00 C649.18,235.17 649.52,233.83 650.10,231.00 C650.68,228.17 651.68,223.17 652.50,219.00 C653.32,214.83 654.17,209.75 655.00,206.00 C655.83,202.25 656.65,199.00 657.50,196.50 C658.35,194.00 659.30,191.42 660.10,191.00 C660.90,190.58 661.57,192.17 662.30,194.00 C663.03,195.83 663.80,199.00 664.50,202.00 C665.20,205.00 665.83,208.67 666.50,212.00 C667.17,215.33 667.88,218.83 668.50,222.00 C669.12,225.17 669.82,228.67 670.20,231.00 C670.58,233.33 670.70,235.17 670.80,236.00" fill="none" stroke="#2525ff" stroke-width="1.05" stroke-linejoin="round" stroke-linecap="round" />
</g>
<line x1="507.10" y1="156.2" x2="682.20" y2="156.2" stroke="#777" stroke-width="0.8" stroke-dasharray="0.9,1.3"/>
<line x1="605.60" y1="66.50" x2="605.60" y2="200.30" stroke="#ff1f1f" stroke-width="1.15"/>
<line x1="614.00" y1="74.40" x2="614.00" y2="192.40" stroke="#a020f0" stroke-width="1.15"/>
<line x1="651.60" y1="107.50" x2="651.60" y2="231.70" stroke="#ff1f1f" stroke-width="1.15"/>
<line x1="666.30" y1="25.50" x2="666.30" y2="159.20" stroke="#ff1f1f" stroke-width="1.15"/>
<line x1="656.30" y1="120.50" x2="656.30" y2="168.60" stroke="#a020f0" stroke-width="1.15"/>
<line x1="659.20" y1="120.50" x2="659.20" y2="154.60" stroke="#a020f0" stroke-width="1.15"/>
<path d="M605.6,64.3 L603.9,68.6 L607.3,68.6 Z" fill="#ff1f1f"/>
<path d="M666.3,23.8 L664.6,28.1 L668.0,28.1 Z" fill="#ff1f1f"/>
<circle cx="614.00" cy="74.40" r="1.5" fill="#a020f0"/>
<circle cx="656.30" cy="120.20" r="1.5" fill="#a020f0"/>
<circle cx="659.20" cy="120.20" r="1.5" fill="#a020f0"/>
<circle cx="605.50" cy="62.60" r="1.6" fill="#d8b8b8" stroke="#a08080" stroke-width="0.8"/>
<circle cx="666.30" cy="22.10" r="1.6" fill="#c0a0a0" stroke="#806060" stroke-width="0.8"/>
<circle cx="605.30" cy="200.30" r="1.6" fill="#fff" stroke="#888" stroke-width="0.8"/>
<circle cx="665.90" cy="160.90" r="1.6" fill="#fff" stroke="#777" stroke-width="0.8"/>
<path d="M607.20,62.40 L611.60,62.40 L611.60,66.60" fill="none" stroke="#6b3a2e" stroke-width="0.9"/>
<path d="M610.20,66.00 L613.00,66.00 L611.60,68.60 Z" fill="#6b3a2e"/>
<path d="M653.00,106.60 L656.70,106.60 L656.70,110.00" fill="none" stroke="#6b3a2e" stroke-width="0.9"/>
<path d="M655.30,109.40 L658.10,109.40 L656.70,112.00 Z" fill="#6b3a2e"/>
<path d="M611.4,192.6 Q612.2,197 609.2,199.2" fill="none" stroke="#6b3a2e" stroke-width="0.9"/>
<path d="M607.4,200.3 L609.6,197.6 L610.4,200.2 Z" fill="#6b3a2e"/>
<path d="M663.00,157.20 L665.80,157.20 L665.80,158.00" fill="none" stroke="#6b3a2e" stroke-width="0.9"/>
<path d="M664.40,157.40 L667.20,157.40 L665.80,160.00 Z" fill="#6b3a2e"/>
<line x1="603.0" y1="63.0" x2="536.0" y2="63.0" stroke="#22a24a" stroke-width="1.9"/>
<path d="M532.8,62.9 L537.6,60.4 L536.6,62.9 L537.6,65.4 Z" fill="#22a24a" stroke="#22a24a" stroke-width="0.6"/>
<path d="M531.3,69.2 Q570,70.5 607.5,72.6" fill="none" stroke="#22a24a" stroke-width="1.6" stroke-dasharray="4.4,2.0"/>
<path d="M611.3,72.9 L606.6,70.3 L607.4,72.7 L606.4,75.2 Z" fill="#22a24a" stroke="#22a24a" stroke-width="0.6"/>
<path d="M656.6,192.6 Q636,193.2 616.3,195.4" fill="none" stroke="#22a24a" stroke-width="1.6" stroke-dasharray="4.4,2.0"/>
<path d="M612.6,195.8 L617.2,193.0 L616.5,195.4 L617.6,197.8 Z" fill="#22a24a" stroke="#22a24a" stroke-width="0.6"/>
<line x1="609.6" y1="201.5" x2="654.5" y2="201.5" stroke="#22a24a" stroke-width="1.9"/>
<path d="M657.8,201.5 L653.0,199.0 L654.0,201.5 L653.0,204.0 Z" fill="#22a24a" stroke="#22a24a" stroke-width="0.6"/>
<path d="M618.11,52.25 L618.66,54.05 L616.31,53.78 L617.79,56.25 L614.50,55.31 L616.93,58.45 L612.70,56.84 L616.07,60.66 L610.90,58.37 L615.20,62.86" fill="none" stroke="#a8733a" stroke-width="1.0" stroke-linejoin="round"/>
<path d="M548.40,158.60 L548.51,158.63 L548.61,158.66 L548.72,158.69 L548.82,158.73 L548.93,158.76 L549.03,158.79 L549.14,158.82 L549.24,158.85 L549.35,158.88 L549.45,158.91 L549.56,158.95 L549.66,158.98 L549.77,159.01 L549.87,159.04 L549.98,159.07 L550.08,159.10 L550.19,159.13 L550.29,159.17 L550.40,159.20 L550.50,159.23 L550.61,159.26 L550.71,159.29 L550.82,159.32 L550.92,159.36 L551.03,159.39 L551.13,159.42 L551.24,159.45 L551.34,159.48 L551.45,159.51 L551.55,159.54 L551.66,159.58 L551.76,159.61 L551.87,159.64 L551.97,159.67 L552.08,159.70 L552.18,159.73 L552.29,159.76 L552.39,159.80 L552.50,159.83 L552.60,159.86 L552.71,159.89 L552.81,159.92 L552.92,159.95 L553.02,159.98 L553.13,160.02 L553.23,160.05 L553.34,160.08 L553.44,160.11 L553.55,160.14 L553.65,160.17 L553.76,160.20 L553.86,160.24 L553.97,160.27 L554.07,160.30 L554.18,160.33 L554.28,160.36 L554.39,160.39 L554.49,160.42 L554.60,160.46 L554.70,160.49 L554.81,160.52 L554.91,160.55 L555.02,160.58 L555.12,160.61 L555.23,160.64 L555.33,160.68 L555.44,160.71 L555.54,160.74 L555.65,160.77 L555.75,160.80 L555.86,160.83 L555.96,160.87 L556.07,160.90 L556.17,160.93 L556.28,160.96 L556.38,160.99 L556.49,161.02 L556.59,161.05 L556.70,161.09 L556.80,161.12 L556.91,161.15 L557.01,161.18 L557.12,161.21 L557.22,161.24 L557.33,161.28 L557.43,161.31 L557.54,161.34 L557.64,161.37 L557.75,161.40 L557.85,161.43 L557.96,161.46 L558.06,161.49 L558.17,161.52 L558.27,161.55 L558.38,161.59 L558.48,161.62 L558.59,161.65 L558.69,161.68 L558.80,161.71 L558.90,161.74 L559.01,161.77 L559.11,161.81 L559.22,161.84 L559.32,161.87 L559.43,161.91 L559.53,161.94 L559.64,161.97 L559.74,162.01 L559.85,162.04 L559.95,162.07 L560.06,162.11 L560.16,162.14 L560.27,162.17 L560.37,162.20 L560.48,162.23 L560.58,162.26 L560.69,162.29 L560.79,162.32 L560.90,162.35 L561.00,162.37 L561.11,162.40 L561.21,162.42 L561.32,162.45 L561.42,162.47 L561.53,162.49 L561.63,162.52 L561.74,162.55 L561.84,162.57 L561.95,162.60 L562.05,162.64 L562.16,162.67 L562.26,162.71 L562.37,162.75 L562.47,162.80 L562.58,162.85 L562.68,162.90 L562.79,162.96 L562.89,163.01 L563.00,163.07 L563.10,163.12 L563.21,163.17 L563.31,163.22 L563.42,163.27 L563.52,163.30 L563.63,163.33 L563.73,163.35 L563.84,163.36 L563.94,163.36 L564.05,163.36 L564.15,163.34 L564.26,163.31 L564.36,163.28 L564.47,163.25 L564.57,163.21 L564.68,163.17 L564.78,163.14 L564.89,163.13 L564.99,163.12 L565.10,163.13 L565.20,163.16 L565.31,163.21 L565.41,163.29 L565.52,163.40 L565.62,163.52 L565.73,163.68 L565.83,163.85 L565.94,164.04 L566.04,164.24 L566.15,164.44 L566.25,164.64 L566.36,164.83 L566.46,165.00 L566.57,165.13 L566.67,165.23 L566.78,165.27 L566.88,165.27 L566.99,165.21 L567.09,165.09 L567.20,164.91 L567.30,164.68 L567.41,164.39 L567.51,164.07 L567.62,163.73 L567.72,163.37 L567.83,163.02 L567.93,162.70 L568.04,162.42 L568.14,162.20 L568.25,162.07 L568.35,162.03 L568.46,162.10 L568.56,162.30 L568.67,162.61 L568.77,163.04 L568.88,163.59 L568.98,164.24 L569.09,164.97 L569.19,165.75 L569.30,166.55 L569.40,167.35 L569.51,168.11 L569.61,168.78 L569.72,169.33 L569.82,169.73 L569.93,169.95 L570.03,169.97 L570.14,169.77 L570.24,169.34 L570.35,168.68 L570.45,167.82 L570.56,166.78 L570.66,165.58 L570.77,164.29 L570.87,162.94 L570.98,161.60 L571.08,160.33 L571.19,159.19 L571.29,158.25 L571.40,157.56 L571.50,157.18 L571.61,157.13 L571.71,157.44 L571.82,158.14 L571.92,159.19 L572.03,160.60 L572.13,162.30 L572.24,164.25 L572.34,166.38 L572.45,168.60 L572.55,170.81 L572.66,172.93 L572.76,174.85 L572.87,176.49 L572.97,177.74 L573.08,178.55 L573.18,178.86 L573.29,178.62 L573.39,177.84 L573.50,176.51 L573.60,174.67 L573.71,172.38 L573.81,169.74 L573.92,166.83 L574.02,163.78 L574.13,160.71 L574.23,157.77 L574.34,155.08 L574.44,152.77 L574.55,150.97 L574.65,149.76 L574.76,149.22 L574.86,149.39 L574.97,150.30 L575.07,151.92 L575.18,154.21 L575.28,157.09 L575.39,160.45 L575.49,164.15 L575.60,168.06 L575.70,172.00 L575.81,175.80 L575.91,179.31 L576.02,182.37 L576.12,184.83 L576.23,186.58 L576.33,187.54 L576.44,187.65 L576.54,186.89 L576.65,185.29 L576.75,182.91 L576.86,179.84 L576.96,176.19 L577.07,172.14 L577.17,167.84 L577.28,163.48 L577.38,159.25 L577.49,155.32 L577.59,151.88 L577.70,149.07 L577.80,147.01 L577.91,145.79 L578.01,145.48 L578.12,146.08 L578.22,147.57 L578.33,149.88 L578.43,152.93 L578.54,156.56 L578.64,160.64 L578.75,164.99 L578.85,169.41 L578.96,173.73 L579.06,177.76 L579.17,181.34 L579.27,184.32 L579.38,186.59 L579.48,188.05 L579.59,188.65 L579.69,188.40 L579.80,187.30 L579.90,185.43 L580.01,182.87 L580.11,179.76 L580.22,176.22 L580.32,172.43 L580.43,168.55 L580.53,164.74 L580.64,161.17 L580.74,157.98 L580.85,155.30 L580.95,153.23 L581.06,151.84 L581.16,151.18 L581.27,151.24 L581.37,152.01 L581.48,153.44 L581.58,155.44 L581.69,157.91 L581.79,160.74 L581.90,163.79 L582.00,166.93 L582.11,170.02 L582.21,172.94 L582.32,175.57 L582.42,177.81 L582.53,179.59 L582.63,180.86 L582.74,181.57 L582.84,181.74 L582.95,181.37 L583.05,180.50 L583.16,179.21 L583.26,177.56 L583.37,175.65 L583.47,173.56 L583.58,171.40 L583.68,169.26 L583.79,167.23 L583.89,165.39 L584.00,163.82 L584.10,162.56 L584.21,161.65 L584.31,161.12 L584.42,160.95 L584.52,161.15 L584.63,161.68 L584.73,162.49 L584.84,163.55 L584.94,164.79 L585.05,166.15 L585.15,167.56 L585.26,168.96 L585.36,170.30 L585.47,171.52 L585.57,172.59 L585.68,173.46 L585.78,174.13 L585.89,174.56 L585.99,174.77 L586.10,174.77 L586.20,174.57 L586.31,174.19 L586.41,173.66 L586.52,173.03 L586.62,172.33 L586.73,171.59 L586.83,170.85 L586.94,170.14 L587.04,169.49 L587.15,168.93 L587.25,168.47 L587.36,168.13 L587.46,167.91 L587.57,167.81 L587.67,167.83 L587.78,167.95 L587.88,168.17 L587.99,168.47 L588.09,168.82 L588.20,169.22 L588.30,169.63 L588.41,170.05 L588.51,170.46 L588.62,170.83 L588.72,171.16 L588.83,171.45 L588.93,171.68 L589.04,171.84 L589.14,171.95 L589.25,172.01 L589.35,172.01 L589.46,171.97 L589.56,171.89 L589.67,171.78 L589.77,171.65 L589.88,171.51 L589.98,171.37 L590.09,171.24 L590.19,171.11 L590.30,171.01 L590.40,170.92 L590.51,170.86 L590.61,170.83 L590.72,170.82 L590.82,170.84 L590.93,170.87 L591.03,170.93 L591.14,171.00 L591.24,171.09 L591.35,171.18 L591.45,171.28 L591.56,171.38 L591.66,171.48 L591.77,171.57 L591.87,171.66 L591.98,171.74 L592.08,171.80 L592.19,171.86 L592.29,171.91 L592.40,171.95 L592.50,171.99 L592.61,172.01 L592.71,172.03 L592.82,172.04 L592.92,172.05 L593.03,172.06 L593.13,172.07 L593.24,172.07 L593.34,172.08 L593.45,172.10 L593.55,172.11 L593.66,172.13 L593.76,172.15 L593.87,172.17 L593.97,172.20 L594.08,172.23 L594.18,172.26 L594.29,172.30 L594.39,172.34 L594.50,172.37 L594.60,172.41 L594.71,172.45 L594.81,172.49 L594.92,172.53 L595.02,172.57 L595.13,172.60 L595.23,172.64 L595.34,172.68 L595.44,172.71 L595.55,172.74 L595.65,172.77 L595.76,172.81 L595.86,172.84 L595.97,172.87 L596.07,172.90 L596.18,172.92 L596.28,172.95 L596.39,172.98 L596.49,173.01 L596.60,173.04 L596.70,173.07 L596.81,173.10 L596.91,173.13 L597.02,173.16 L597.12,173.20 L597.23,173.23 L597.33,173.26 L597.44,173.29 L597.54,173.32 L597.65,173.35 L597.75,173.39 L597.86,173.42 L597.96,173.45 L598.07,173.48 L598.17,173.51 L598.28,173.54 L598.38,173.58 L598.49,173.61 L598.59,173.64 L598.70,173.67 L598.80,173.70 L598.91,173.73 L599.01,173.77 L599.12,173.80 L599.22,173.83 L599.33,173.86 L599.43,173.89 L599.54,173.92 L599.64,173.95 L599.75,173.99 L599.85,174.02 L599.96,174.05 L600.06,174.08 L600.17,174.11 L600.27,174.14 L600.38,174.17 L600.48,174.21 L600.59,174.24 L600.69,174.27 L600.80,174.30" fill="none" stroke="#ff2020" stroke-width="1.20" stroke-linejoin="round"/>
<path d="M600.80,174.30 L595.44,174.78 L596.58,170.95 Z" fill="#ff2020"/>
<path d="M539.00,167.60 L539.10,167.63 L539.20,167.66 L539.30,167.69 L539.40,167.72 L539.50,167.75 L539.60,167.78 L539.70,167.81 L539.80,167.84 L539.90,167.87 L540.00,167.90 L540.10,167.94 L540.20,167.97 L540.30,168.00 L540.40,168.03 L540.50,168.06 L540.60,168.09 L540.70,168.12 L540.80,168.15 L540.90,168.18 L541.00,168.21 L541.10,168.24 L541.20,168.27 L541.30,168.30 L541.40,168.33 L541.51,168.36 L541.61,168.39 L541.71,168.42 L541.81,168.45 L541.91,168.48 L542.01,168.51 L542.11,168.54 L542.21,168.57 L542.31,168.61 L542.41,168.64 L542.51,168.67 L542.61,168.70 L542.71,168.73 L542.81,168.76 L542.91,168.79 L543.01,168.82 L543.11,168.85 L543.21,168.88 L543.31,168.91 L543.41,168.94 L543.51,168.97 L543.61,169.00 L543.71,169.03 L543.81,169.06 L543.91,169.09 L544.01,169.12 L544.11,169.15 L544.21,169.18 L544.31,169.21 L544.41,169.24 L544.51,169.27 L544.61,169.30 L544.71,169.33 L544.81,169.36 L544.91,169.39 L545.01,169.43 L545.11,169.46 L545.21,169.49 L545.31,169.52 L545.41,169.56 L545.51,169.59 L545.61,169.62 L545.71,169.66 L545.81,169.69 L545.91,169.72 L546.01,169.75 L546.11,169.78 L546.21,169.81 L546.31,169.84 L546.41,169.87 L546.52,169.90 L546.62,169.92 L546.72,169.94 L546.82,169.97 L546.92,169.99 L547.02,170.01 L547.12,170.03 L547.22,170.05 L547.32,170.07 L547.42,170.09 L547.52,170.11 L547.62,170.14 L547.72,170.17 L547.82,170.20 L547.92,170.24 L548.02,170.28 L548.12,170.33 L548.22,170.38 L548.32,170.44 L548.42,170.50 L548.52,170.57 L548.62,170.63 L548.72,170.70 L548.82,170.77 L548.92,170.83 L549.02,170.89 L549.12,170.95 L549.22,170.99 L549.32,171.02 L549.42,171.04 L549.52,171.04 L549.62,171.03 L549.72,171.00 L549.82,170.96 L549.92,170.90 L550.02,170.83 L550.12,170.76 L550.22,170.68 L550.32,170.59 L550.42,170.52 L550.52,170.46 L550.62,170.41 L550.72,170.39 L550.82,170.39 L550.92,170.43 L551.02,170.51 L551.12,170.62 L551.22,170.78 L551.32,170.97 L551.42,171.20 L551.53,171.47 L551.63,171.76 L551.73,172.06 L551.83,172.38 L551.93,172.68 L552.03,172.96 L552.13,173.21 L552.23,173.42 L552.33,173.56 L552.43,173.63 L552.53,173.62 L552.63,173.52 L552.73,173.33 L552.83,173.05 L552.93,172.68 L553.03,172.24 L553.13,171.74 L553.23,171.19 L553.33,170.62 L553.43,170.05 L553.53,169.51 L553.63,169.02 L553.73,168.62 L553.83,168.33 L553.93,168.17 L554.03,168.16 L554.13,168.33 L554.23,168.66 L554.33,169.17 L554.43,169.85 L554.53,170.69 L554.63,171.65 L554.73,172.72 L554.83,173.84 L554.93,174.99 L555.03,176.11 L555.13,177.15 L555.23,178.07 L555.33,178.81 L555.43,179.35 L555.53,179.64 L555.63,179.65 L555.73,179.37 L555.83,178.80 L555.93,177.95 L556.03,176.83 L556.13,175.47 L556.23,173.94 L556.33,172.27 L556.43,170.54 L556.54,168.82 L556.64,167.18 L556.74,165.69 L556.84,164.44 L556.94,163.47 L557.04,162.84 L557.14,162.60 L557.24,162.78 L557.34,163.38 L557.44,164.39 L557.54,165.80 L557.64,167.56 L557.74,169.61 L557.84,171.87 L557.94,174.26 L558.04,176.69 L558.14,179.05 L558.24,181.26 L558.34,183.21 L558.44,184.82 L558.54,186.02 L558.64,186.76 L558.74,186.98 L558.84,186.67 L558.94,185.84 L559.04,184.52 L559.14,182.74 L559.24,180.58 L559.34,178.12 L559.44,175.45 L559.54,172.70 L559.64,169.96 L559.74,167.35 L559.84,164.98 L559.94,162.95 L560.04,161.34 L560.14,160.23 L560.24,159.65 L560.34,159.64 L560.44,160.19 L560.54,161.29 L560.64,162.89 L560.74,164.93 L560.84,167.31 L560.94,169.95 L561.04,172.74 L561.14,175.56 L561.24,178.31 L561.34,180.87 L561.44,183.14 L561.55,185.04 L561.65,186.49 L561.75,187.46 L561.85,187.91 L561.95,187.82 L562.05,187.23 L562.15,186.15 L562.25,184.66 L562.35,182.81 L562.45,180.70 L562.55,178.41 L562.65,176.05 L562.75,173.70 L562.85,171.48 L562.95,169.46 L563.05,167.71 L563.15,166.31 L563.25,165.30 L563.35,164.69 L563.45,164.52 L563.55,164.76 L563.65,165.39 L563.75,166.37 L563.85,167.65 L563.95,169.17 L564.05,170.85 L564.15,172.63 L564.25,174.42 L564.35,176.16 L564.45,177.78 L564.55,179.22 L564.65,180.44 L564.75,181.40 L564.85,182.08 L564.95,182.46 L565.05,182.55 L565.15,182.36 L565.25,181.92 L565.35,181.26 L565.45,180.43 L565.55,179.46 L565.65,178.41 L565.75,177.33 L565.85,176.26 L565.95,175.24 L566.05,174.32 L566.15,173.53 L566.25,172.88 L566.35,172.41 L566.45,172.11 L566.56,171.98 L566.66,172.02 L566.76,172.22 L566.86,172.56 L566.96,173.00 L567.06,173.54 L567.16,174.14 L567.26,174.76 L567.36,175.40 L567.46,176.01 L567.56,176.58 L567.66,177.10 L567.76,177.53 L567.86,177.89 L567.96,178.15 L568.06,178.33 L568.16,178.41 L568.26,178.41 L568.36,178.34 L568.46,178.21 L568.56,178.02 L568.66,177.81 L568.76,177.56 L568.86,177.31 L568.96,177.07 L569.06,176.84 L569.16,176.63 L569.26,176.45 L569.36,176.31 L569.46,176.21 L569.56,176.15 L569.66,176.13 L569.76,176.15 L569.86,176.20 L569.96,176.28 L570.06,176.38 L570.16,176.51 L570.26,176.64 L570.36,176.78 L570.46,176.92 L570.56,177.06 L570.66,177.19 L570.76,177.31 L570.86,177.42 L570.96,177.51 L571.06,177.58 L571.16,177.64 L571.26,177.69 L571.36,177.72 L571.46,177.74 L571.57,177.75 L571.67,177.75 L571.77,177.75 L571.87,177.74 L571.97,177.74 L572.07,177.73 L572.17,177.72 L572.27,177.72 L572.37,177.73 L572.47,177.73 L572.57,177.74 L572.67,177.76 L572.77,177.78 L572.87,177.81 L572.97,177.84 L573.07,177.88 L573.17,177.91 L573.27,177.95 L573.37,177.99 L573.47,178.04 L573.57,178.08 L573.67,178.12 L573.77,178.16 L573.87,178.20 L573.97,178.24 L574.07,178.27 L574.17,178.31 L574.27,178.34 L574.37,178.37 L574.47,178.40 L574.57,178.43 L574.67,178.46 L574.77,178.49 L574.87,178.52 L574.97,178.55 L575.07,178.58 L575.17,178.60 L575.27,178.63 L575.37,178.66 L575.47,178.69 L575.57,178.72 L575.67,178.75 L575.77,178.78 L575.87,178.81 L575.97,178.84 L576.07,178.87 L576.17,178.90 L576.27,178.93 L576.37,178.96 L576.47,178.99 L576.58,179.02 L576.68,179.05 L576.78,179.08 L576.88,179.11 L576.98,179.14 L577.08,179.18 L577.18,179.21 L577.28,179.24 L577.38,179.27 L577.48,179.30 L577.58,179.33 L577.68,179.36 L577.78,179.39 L577.88,179.42 L577.98,179.45 L578.08,179.48 L578.18,179.51 L578.28,179.54 L578.38,179.57 L578.48,179.60 L578.58,179.63 L578.68,179.66 L578.78,179.69 L578.88,179.72 L578.98,179.75 L579.08,179.78 L579.18,179.81 L579.28,179.85 L579.38,179.88 L579.48,179.91 L579.58,179.94 L579.68,179.97 L579.78,180.00 L579.88,180.03 L579.98,180.06 L580.08,180.09 L580.18,180.12 L580.28,180.15 L580.38,180.18 L580.48,180.21 L580.58,180.24 L580.68,180.27 L580.78,180.30 L580.88,180.33 L580.98,180.36 L581.08,180.39 L581.18,180.42 L581.28,180.45 L581.38,180.48 L581.48,180.52 L581.59,180.55 L581.69,180.58 L581.79,180.61 L581.89,180.64 L581.99,180.67 L582.09,180.70 L582.19,180.73 L582.29,180.76 L582.39,180.79 L582.49,180.82 L582.59,180.85 L582.69,180.88 L582.79,180.91 L582.89,180.94 L582.99,180.97 L583.09,181.00 L583.19,181.03 L583.29,181.06 L583.39,181.09 L583.49,181.12 L583.59,181.16 L583.69,181.19 L583.79,181.22 L583.89,181.25 L583.99,181.28 L584.09,181.31 L584.19,181.34 L584.29,181.37 L584.39,181.40 L584.49,181.43 L584.59,181.46 L584.69,181.49 L584.79,181.52 L584.89,181.55 L584.99,181.58 L585.09,181.61 L585.19,181.64 L585.29,181.67 L585.39,181.70 L585.49,181.73 L585.59,181.76 L585.69,181.79 L585.79,181.83 L585.89,181.86 L585.99,181.89 L586.09,181.92 L586.19,181.95 L586.29,181.98 L586.39,182.01 L586.49,182.04 L586.60,182.07 L586.70,182.10 L586.80,182.13 L586.90,182.16 L587.00,182.19 L587.10,182.22 L587.20,182.25 L587.30,182.28 L587.40,182.31 L587.50,182.34 L587.60,182.37 L587.70,182.40 L587.80,182.43 L587.90,182.46 L588.00,182.50 L588.10,182.53 L588.20,182.56 L588.30,182.59 L588.40,182.62 L588.50,182.65 L588.60,182.68 L588.70,182.71 L588.80,182.74 L588.90,182.77 L589.00,182.80" fill="none" stroke="#a020f0" stroke-width="1.20" stroke-linejoin="round"/>
<path d="M589.00,182.80 L583.63,183.26 L584.80,179.43 Z" fill="#a020f0"/>
<text transform="translate(522.0,151.8) rotate(14.5)" fill="#ff2020" style="font-size:9.3px;font-style:italic">Pump</text>
<text transform="translate(511.2,160.8) rotate(14.5)" fill="#a020f0" style="font-size:9.4px;font-style:italic">Probe</text>
<text x="611.9" y="50.8" fill="#7d4545" style="font-size:9.7px">Phonon</text>
<text x="570.1" y="80.8" style="font-size:11px">t<tspan dy="3.2" style="font-size:7.6px;font-style:italic">iv</tspan></text>
<rect x="625.3" y="149" width="11.5" height="14" fill="#fff"/>
<text x="625.1" y="159.0" style="font-size:11px">E<tspan dy="3.0" style="font-size:7.6px" fill="#555">f</tspan></text>
<line x1="507.10" y1="12.70" x2="682.20" y2="12.70" stroke="#1a1a1a" stroke-width="1.10"/>
<line x1="682.20" y1="12.70" x2="682.20" y2="231.70" stroke="#333" stroke-width="1.10"/>
<line x1="507.10" y1="231.70" x2="682.20" y2="231.70" stroke="#222" stroke-width="1.10"/>
<line x1="507.00" y1="12.70" x2="507.00" y2="231.70" stroke="#4a4a4a" stroke-width="1.10"/>
<line x1="502.50" y1="18.05" x2="507.10" y2="18.05" stroke="#333" stroke-width="1.00"/>
<line x1="502.50" y1="64.10" x2="507.10" y2="64.10" stroke="#333" stroke-width="1.00"/>
<line x1="502.50" y1="110.15" x2="507.10" y2="110.15" stroke="#333" stroke-width="1.00"/>
<line x1="502.50" y1="156.20" x2="507.10" y2="156.20" stroke="#333" stroke-width="1.00"/>
<line x1="502.50" y1="202.25" x2="507.10" y2="202.25" stroke="#333" stroke-width="1.00"/>
<text x="498.2" y="68.00" text-anchor="end" style="font-size:11px">1.0</text>
<text x="498.2" y="160.10" text-anchor="end" style="font-size:11px">0.0</text>
<text transform="translate(495.4,30.8) rotate(-90)" text-anchor="middle" style="font-size:11px;letter-spacing:0.35px">E (eV)</text>
<text x="506.0" y="245.6" style="font-size:11.5px;font-family:'Liberation Serif',serif">Γ</text>
<path d="M516.2,240.8 L520.6,238.4 L520.6,240.3 L528.9,240.3 L528.9,241.3 L520.6,241.3 L520.6,243.2 Z" fill="#111"/>
<text x="531.9" y="245.6" style="font-size:11px">A</text>
<text x="610.0" y="245.6" style="font-size:11px">L</text>
<text x="655.7" y="245.6" style="font-size:11px">H</text>
<path d="M675.1,240.9 L671.2,238.8 L671.2,240.4 L667.0,240.4 L667.0,241.4 L671.2,241.4 L671.2,243.0 Z" fill="#111"/>
<text x="677.1" y="245.6" style="font-size:11px">K</text>
</svg>
</body></html>
